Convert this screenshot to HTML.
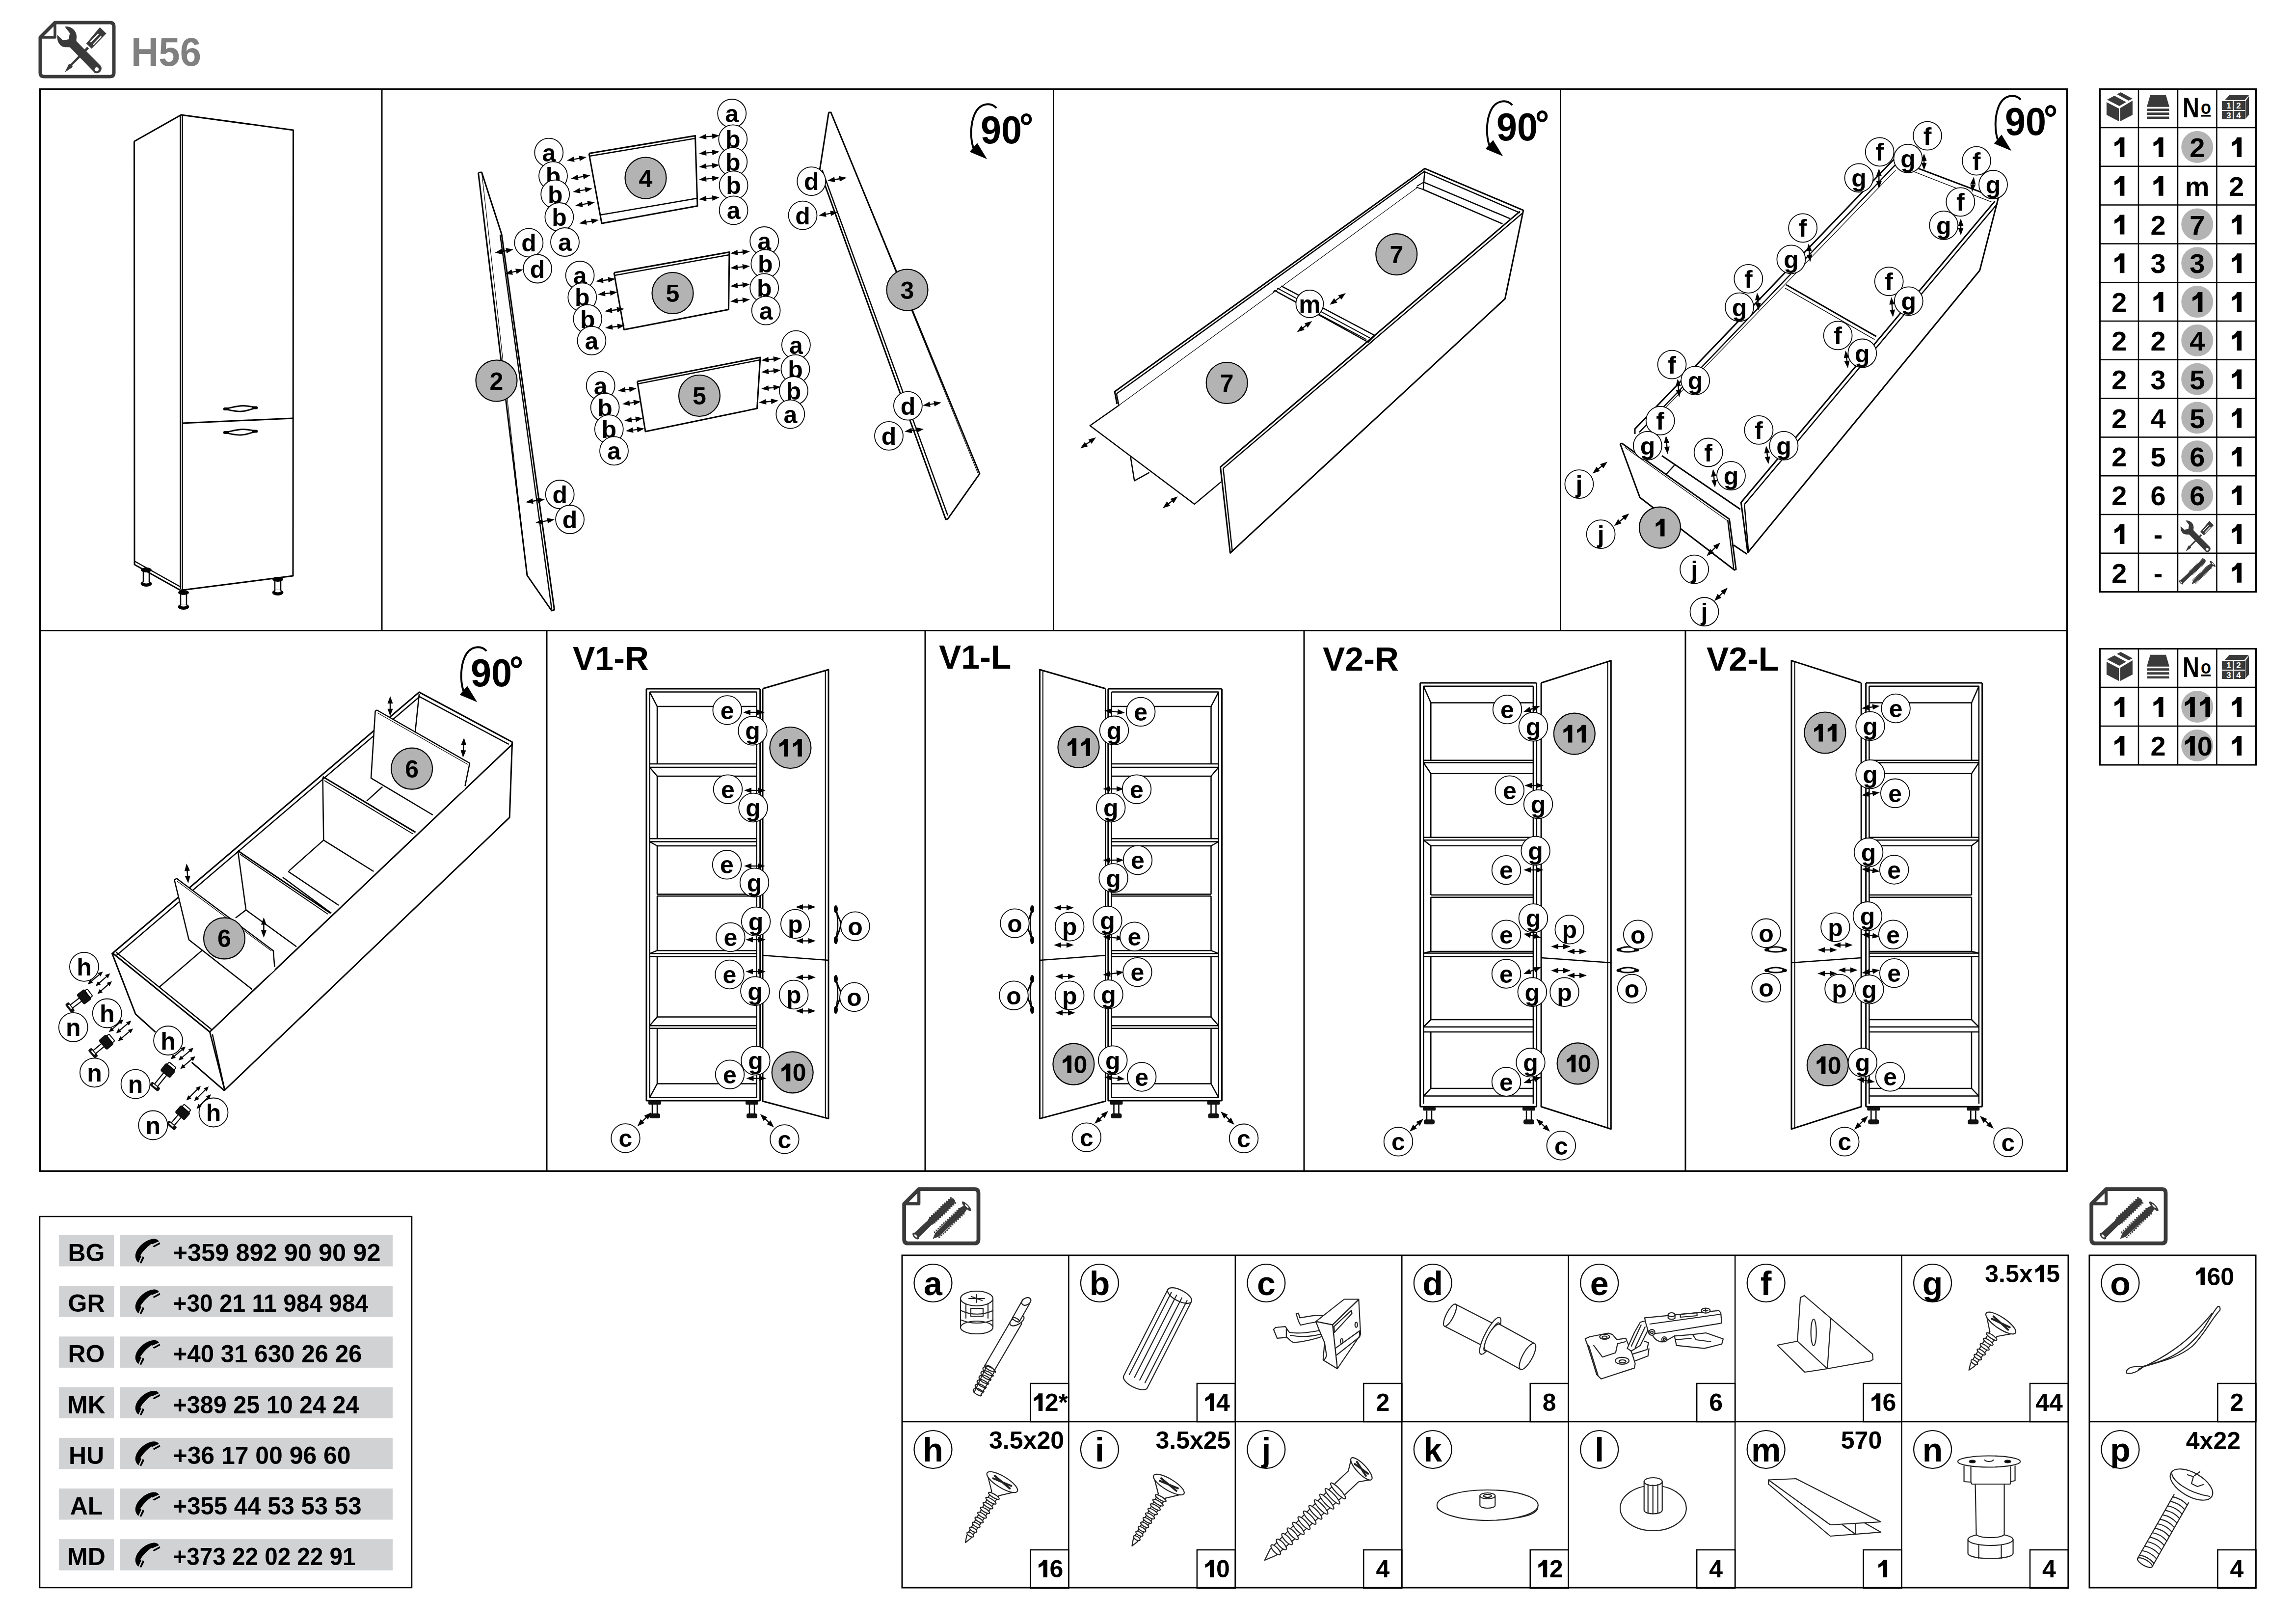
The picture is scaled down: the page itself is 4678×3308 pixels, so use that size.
<!DOCTYPE html>
<html><head><meta charset="utf-8"><style>
html,body{margin:0;padding:0;background:#fff;}
body{width:4678px;height:3308px;overflow:hidden;}
svg{display:block;font-family:"Liberation Sans",sans-serif;}
</style></head><body>
<svg width="4678" height="3308" viewBox="0 0 4678 3308">
<rect x="0" y="0" width="4678" height="3308" fill="#fff"/>
<path d="M112,46 L224,46 Q232,46 232,54 L232,148 Q232,156 224,156 L90,156 Q82,156 82,148 L82,76 Z" fill="none" stroke="#3a3a3a" stroke-width="7" stroke-linejoin="round" />
<path d="M112,46 L112,76 L82,76" fill="none" stroke="#3a3a3a" stroke-width="5.6000000000000005" stroke-linejoin="round" />
<g transform="translate(106.5,39.1) scale(1.48)" fill="#3a3a3a"><path d="M48,38 L50.5,40.5 L27.5,63.5 L28,66 L17.2,73 L23,61.5 L25.5,61.5 Z"/><path d="M46.8,33.5 L65.5,11.1 L74.4,19.7 L54.2,40.4 Z"/><path d="M52,31 L63,19.5 L64.2,20.7 L53.2,32.2 Z M55.8,34.5 L66.8,23 L68,24.2 L57,35.7 Z" fill="#fff"/><path d="M17.2,10.3 C26,9 34,16 33.5,25 C33.3,27.5 32.8,29 33.5,30.5 L66,63.5 C70,67.5 67,74.5 61,74.5 C59,74.5 58,73.8 57.6,72.9 L24.6,38.9 C22.5,38.3 20,39 17,38.5 C10,37.5 6,30 6.9,21.7 L14.8,29.1 L22.7,27.6 L24.1,19.2 Z"/><circle cx="61.1" cy="69" r="2.8" fill="#fff"/></g>
<text x="267" y="133.5" font-size="82" font-weight="bold" fill="#808080" textLength="143" lengthAdjust="spacingAndGlyphs">H56</text>
<rect x="81.5" y="181.5" width="4130" height="2204" fill="none" stroke="#000" stroke-width="3" rx="0"/>
<line x1="80" y1="1284.5" x2="4212" y2="1284.5" stroke="#000" stroke-width="3"/>
<line x1="778" y1="181" x2="778" y2="1284" stroke="#000" stroke-width="3"/>
<line x1="2146.5" y1="181" x2="2146.5" y2="1284" stroke="#000" stroke-width="3"/>
<line x1="3179.5" y1="181" x2="3179.5" y2="1284" stroke="#000" stroke-width="3"/>
<line x1="1114" y1="1284" x2="1114" y2="2386" stroke="#000" stroke-width="3"/>
<line x1="1885" y1="1284" x2="1885" y2="2386" stroke="#000" stroke-width="3"/>
<line x1="2657" y1="1284" x2="2657" y2="2386" stroke="#000" stroke-width="3"/>
<line x1="3434" y1="1284" x2="3434" y2="2386" stroke="#000" stroke-width="3"/>
<g transform="translate(4318,220)" fill="#3a3a3a"><path d="M-25,-17 L-10,-25 L14,-12 L0,-4 Z"/><path d="M-5,-28 L3,-32 L27,-19 L19,-15 Z"/><path d="M-26,-12 L-1,1 L-1,27 L-26,14 Z"/><path d="M27,-15 L2,0 L2,27 L27,14 Z"/></g>
<g transform="translate(4397,180)" fill="#3a3a3a"><path d="M-16,13.7 L16,13.7 L23,37.8 L-23,37.8 Z"/><path d="M-22,41.3 L22,41.3 L23,45.9 L-23,45.9 Z"/><path d="M-22,49.3 L22,49.3 L23,54 L-23,54 Z"/><path d="M-22,57.4 L22,57.4 L23,62 L-23,62 Z"/></g>
<text x="4447" y="238.5" font-size="58" font-weight="bold" fill="#000" textLength="34" lengthAdjust="spacingAndGlyphs">N</text>
<text x="4484" y="231.6" font-size="38" font-weight="bold" fill="#000" textLength="21" lengthAdjust="spacingAndGlyphs">o</text>
<rect x="4484.6" y="234" width="19.6" height="3.6" fill="#000"/>
<g transform="translate(4554,216)" fill="#3a3a3a"><path d="M-21,-12 L-12,-22 L28,-22 L19,-12 Z"/><path d="M21,-10 L28,-20 L28,18 L21,26 Z"/><rect x="-27" y="-10" width="47" height="37"/></g>
<text x="4541" y="221" font-size="17" font-weight="bold" fill="#fff" text-anchor="middle">1</text>
<text x="4561" y="221" font-size="17" font-weight="bold" fill="#fff" text-anchor="middle">2</text>
<text x="4541" y="241" font-size="17" font-weight="bold" fill="#fff" text-anchor="middle">3</text>
<text x="4561" y="241" font-size="17" font-weight="bold" fill="#fff" text-anchor="middle">4</text>
<line x1="4550" y1="206" x2="4550" y2="243" stroke="#fff" stroke-width="2"/>
<line x1="4527" y1="225" x2="4574" y2="225" stroke="#fff" stroke-width="2"/>
<path d="M4318.9,279.8 L4328.4,279.8 L4328.4,319.9 L4318.9,319.9 L4318.9,291.9 C4315.5,294.7 4311.6,296.9 4308.2,298.1 L4308.2,290.2 C4313.3,288.0 4317.8,284.6 4318.9,279.8 Z" fill="#000"/>
<path d="M4398.1,279.8 L4407.6,279.8 L4407.6,319.9 L4398.1,319.9 L4398.1,291.9 C4394.8,294.7 4390.8,296.9 4387.5,298.1 L4387.5,290.2 C4392.5,288.0 4397.0,284.6 4398.1,279.8 Z" fill="#000"/>
<circle cx="4476.75" cy="299.4" r="32.5" fill="#b3b3b3"/>
<text x="4476.8" y="319.9" font-size="56" font-weight="bold" text-anchor="middle" fill="#000">2</text>
<path d="M4557.6,279.8 L4567.1,279.8 L4567.1,319.9 L4557.6,319.9 L4557.6,291.9 C4554.3,294.7 4550.3,296.9 4547.0,298.1 L4547.0,290.2 C4552.0,288.0 4556.5,284.6 4557.6,279.8 Z" fill="#000"/>
<path d="M4318.9,358.6 L4328.4,358.6 L4328.4,398.7 L4318.9,398.7 L4318.9,370.7 C4315.5,373.5 4311.6,375.7 4308.2,376.9 L4308.2,369.0 C4313.3,366.8 4317.8,363.4 4318.9,358.6 Z" fill="#000"/>
<path d="M4398.1,358.6 L4407.6,358.6 L4407.6,398.7 L4398.1,398.7 L4398.1,370.7 C4394.8,373.5 4390.8,375.7 4387.5,376.9 L4387.5,369.0 C4392.5,366.8 4397.0,363.4 4398.1,358.6 Z" fill="#000"/>
<text x="4476.75" y="398.7" font-size="56" font-weight="bold" text-anchor="middle">m</text>
<text x="4556.5" y="398.7" font-size="56" font-weight="bold" text-anchor="middle" fill="#000">2</text>
<path d="M4318.9,437.4 L4328.4,437.4 L4328.4,477.5 L4318.9,477.5 L4318.9,449.5 C4315.5,452.3 4311.6,454.5 4308.2,455.7 L4308.2,447.8 C4313.3,445.6 4317.8,442.2 4318.9,437.4 Z" fill="#000"/>
<text x="4397.0" y="477.5" font-size="56" font-weight="bold" text-anchor="middle" fill="#000">2</text>
<circle cx="4476.75" cy="457.0" r="32.5" fill="#b3b3b3"/>
<text x="4476.8" y="477.5" font-size="56" font-weight="bold" text-anchor="middle" fill="#000">7</text>
<path d="M4557.6,437.4 L4567.1,437.4 L4567.1,477.5 L4557.6,477.5 L4557.6,449.5 C4554.3,452.3 4550.3,454.5 4547.0,455.7 L4547.0,447.8 C4552.0,445.6 4556.5,442.2 4557.6,437.4 Z" fill="#000"/>
<path d="M4318.9,516.2 L4328.4,516.2 L4328.4,556.3 L4318.9,556.3 L4318.9,528.3 C4315.5,531.1 4311.6,533.3 4308.2,534.5 L4308.2,526.6 C4313.3,524.4 4317.8,521.0 4318.9,516.2 Z" fill="#000"/>
<text x="4397.0" y="556.3" font-size="56" font-weight="bold" text-anchor="middle" fill="#000">3</text>
<circle cx="4476.75" cy="535.8" r="32.5" fill="#b3b3b3"/>
<text x="4476.8" y="556.3" font-size="56" font-weight="bold" text-anchor="middle" fill="#000">3</text>
<path d="M4557.6,516.2 L4567.1,516.2 L4567.1,556.3 L4557.6,556.3 L4557.6,528.3 C4554.3,531.1 4550.3,533.3 4547.0,534.5 L4547.0,526.6 C4552.0,524.4 4556.5,521.0 4557.6,516.2 Z" fill="#000"/>
<text x="4317.8" y="635.1" font-size="56" font-weight="bold" text-anchor="middle" fill="#000">2</text>
<path d="M4398.1,595.0 L4407.6,595.0 L4407.6,635.1 L4398.1,635.1 L4398.1,607.1 C4394.8,609.9 4390.8,612.1 4387.5,613.3 L4387.5,605.4 C4392.5,603.2 4397.0,599.8 4398.1,595.0 Z" fill="#000"/>
<circle cx="4476.75" cy="614.6" r="32.5" fill="#b3b3b3"/>
<path d="M4477.9,595.0 L4487.4,595.0 L4487.4,635.1 L4477.9,635.1 L4477.9,607.1 C4474.5,609.9 4470.6,612.1 4467.2,613.3 L4467.2,605.4 C4472.3,603.2 4476.8,599.8 4477.9,595.0 Z" fill="#000"/>
<path d="M4557.6,595.0 L4567.1,595.0 L4567.1,635.1 L4557.6,635.1 L4557.6,607.1 C4554.3,609.9 4550.3,612.1 4547.0,613.3 L4547.0,605.4 C4552.0,603.2 4556.5,599.8 4557.6,595.0 Z" fill="#000"/>
<text x="4317.8" y="713.9" font-size="56" font-weight="bold" text-anchor="middle" fill="#000">2</text>
<text x="4397.0" y="713.9" font-size="56" font-weight="bold" text-anchor="middle" fill="#000">2</text>
<circle cx="4476.75" cy="693.4" r="32.5" fill="#b3b3b3"/>
<text x="4476.8" y="713.9" font-size="56" font-weight="bold" text-anchor="middle" fill="#000">4</text>
<path d="M4557.6,673.8 L4567.1,673.8 L4567.1,713.9 L4557.6,713.9 L4557.6,685.9 C4554.3,688.7 4550.3,690.9 4547.0,692.1 L4547.0,684.2 C4552.0,682.0 4556.5,678.6 4557.6,673.8 Z" fill="#000"/>
<text x="4317.8" y="792.7" font-size="56" font-weight="bold" text-anchor="middle" fill="#000">2</text>
<text x="4397.0" y="792.7" font-size="56" font-weight="bold" text-anchor="middle" fill="#000">3</text>
<circle cx="4476.75" cy="772.1999999999999" r="32.5" fill="#b3b3b3"/>
<text x="4476.8" y="792.7" font-size="56" font-weight="bold" text-anchor="middle" fill="#000">5</text>
<path d="M4557.6,752.6 L4567.1,752.6 L4567.1,792.7 L4557.6,792.7 L4557.6,764.7 C4554.3,767.5 4550.3,769.7 4547.0,770.9 L4547.0,763.0 C4552.0,760.8 4556.5,757.4 4557.6,752.6 Z" fill="#000"/>
<text x="4317.8" y="871.5" font-size="56" font-weight="bold" text-anchor="middle" fill="#000">2</text>
<text x="4397.0" y="871.5" font-size="56" font-weight="bold" text-anchor="middle" fill="#000">4</text>
<circle cx="4476.75" cy="851.0" r="32.5" fill="#b3b3b3"/>
<text x="4476.8" y="871.5" font-size="56" font-weight="bold" text-anchor="middle" fill="#000">5</text>
<path d="M4557.6,831.4 L4567.1,831.4 L4567.1,871.5 L4557.6,871.5 L4557.6,843.5 C4554.3,846.3 4550.3,848.5 4547.0,849.7 L4547.0,841.8 C4552.0,839.6 4556.5,836.2 4557.6,831.4 Z" fill="#000"/>
<text x="4317.8" y="950.3" font-size="56" font-weight="bold" text-anchor="middle" fill="#000">2</text>
<text x="4397.0" y="950.3" font-size="56" font-weight="bold" text-anchor="middle" fill="#000">5</text>
<circle cx="4476.75" cy="929.8" r="32.5" fill="#b3b3b3"/>
<text x="4476.8" y="950.3" font-size="56" font-weight="bold" text-anchor="middle" fill="#000">6</text>
<path d="M4557.6,910.2 L4567.1,910.2 L4567.1,950.3 L4557.6,950.3 L4557.6,922.3 C4554.3,925.1 4550.3,927.3 4547.0,928.5 L4547.0,920.6 C4552.0,918.4 4556.5,915.0 4557.6,910.2 Z" fill="#000"/>
<text x="4317.8" y="1029.1" font-size="56" font-weight="bold" text-anchor="middle" fill="#000">2</text>
<text x="4397.0" y="1029.1" font-size="56" font-weight="bold" text-anchor="middle" fill="#000">6</text>
<circle cx="4476.75" cy="1008.5999999999999" r="32.5" fill="#b3b3b3"/>
<text x="4476.8" y="1029.1" font-size="56" font-weight="bold" text-anchor="middle" fill="#000">6</text>
<path d="M4557.6,989.0 L4567.1,989.0 L4567.1,1029.1 L4557.6,1029.1 L4557.6,1001.1 C4554.3,1003.9 4550.3,1006.1 4547.0,1007.3 L4547.0,999.4 C4552.0,997.2 4556.5,993.8 4557.6,989.0 Z" fill="#000"/>
<path d="M4318.9,1067.8 L4328.4,1067.8 L4328.4,1107.9 L4318.9,1107.9 L4318.9,1079.9 C4315.5,1082.7 4311.6,1084.9 4308.2,1086.1 L4308.2,1078.2 C4313.3,1076.0 4317.8,1072.6 4318.9,1067.8 Z" fill="#000"/>
<text x="4397.0" y="1107.9" font-size="56" font-weight="bold" text-anchor="middle">-</text>
<g transform="translate(4436.0,1050.0) scale(1.0)" fill="#3a3a3a"><path d="M48,38 L50.5,40.5 L27.5,63.5 L28,66 L17.2,73 L23,61.5 L25.5,61.5 Z"/><path d="M46.8,33.5 L65.5,11.1 L74.4,19.7 L54.2,40.4 Z"/><path d="M52,31 L63,19.5 L64.2,20.7 L53.2,32.2 Z M55.8,34.5 L66.8,23 L68,24.2 L57,35.7 Z" fill="#fff"/><path d="M17.2,10.3 C26,9 34,16 33.5,25 C33.3,27.5 32.8,29 33.5,30.5 L66,63.5 C70,67.5 67,74.5 61,74.5 C59,74.5 58,73.8 57.6,72.9 L24.6,38.9 C22.5,38.3 20,39 17,38.5 C10,37.5 6,30 6.9,21.7 L14.8,29.1 L22.7,27.6 L24.1,19.2 Z"/><circle cx="61.1" cy="69" r="2.8" fill="#fff"/></g>
<path d="M4557.6,1067.8 L4567.1,1067.8 L4567.1,1107.9 L4557.6,1107.9 L4557.6,1079.9 C4554.3,1082.7 4550.3,1084.9 4547.0,1086.1 L4547.0,1078.2 C4552.0,1076.0 4556.5,1072.6 4557.6,1067.8 Z" fill="#000"/>
<text x="4317.8" y="1186.7" font-size="56" font-weight="bold" text-anchor="middle" fill="#000">2</text>
<text x="4397.0" y="1186.7" font-size="56" font-weight="bold" text-anchor="middle">-</text>
<path d="M4557.6,1146.6 L4567.1,1146.6 L4567.1,1186.7 L4557.6,1186.7 L4557.6,1158.7 C4554.3,1161.5 4550.3,1163.7 4547.0,1164.9 L4547.0,1157.0 C4552.0,1154.8 4556.5,1151.4 4557.6,1146.6 Z" fill="#000"/>
<line x1="4357" y1="180" x2="4357" y2="1205.6" stroke="#000" stroke-width="2.5"/>
<line x1="4437" y1="180" x2="4437" y2="1205.6" stroke="#000" stroke-width="2.5"/>
<line x1="4516.5" y1="180" x2="4516.5" y2="1205.6" stroke="#000" stroke-width="2.5"/>
<line x1="4278.5" y1="260" x2="4596.5" y2="260" stroke="#000" stroke-width="2.5"/>
<line x1="4278.5" y1="338.8" x2="4596.5" y2="338.8" stroke="#000" stroke-width="2.5"/>
<line x1="4278.5" y1="417.6" x2="4596.5" y2="417.6" stroke="#000" stroke-width="2.5"/>
<line x1="4278.5" y1="496.4" x2="4596.5" y2="496.4" stroke="#000" stroke-width="2.5"/>
<line x1="4278.5" y1="575.2" x2="4596.5" y2="575.2" stroke="#000" stroke-width="2.5"/>
<line x1="4278.5" y1="654.0" x2="4596.5" y2="654.0" stroke="#000" stroke-width="2.5"/>
<line x1="4278.5" y1="732.8" x2="4596.5" y2="732.8" stroke="#000" stroke-width="2.5"/>
<line x1="4278.5" y1="811.6" x2="4596.5" y2="811.6" stroke="#000" stroke-width="2.5"/>
<line x1="4278.5" y1="890.4" x2="4596.5" y2="890.4" stroke="#000" stroke-width="2.5"/>
<line x1="4278.5" y1="969.1999999999999" x2="4596.5" y2="969.1999999999999" stroke="#000" stroke-width="2.5"/>
<line x1="4278.5" y1="1048.0" x2="4596.5" y2="1048.0" stroke="#000" stroke-width="2.5"/>
<line x1="4278.5" y1="1126.8" x2="4596.5" y2="1126.8" stroke="#000" stroke-width="2.5"/>
<rect x="4278.5" y="181.5" width="318.0" height="1024.1" fill="none" stroke="#000" stroke-width="3" rx="0"/>
<g transform="translate(4318,1360)" fill="#3a3a3a"><path d="M-25,-17 L-10,-25 L14,-12 L0,-4 Z"/><path d="M-5,-28 L3,-32 L27,-19 L19,-15 Z"/><path d="M-26,-12 L-1,1 L-1,27 L-26,14 Z"/><path d="M27,-15 L2,0 L2,27 L27,14 Z"/></g>
<g transform="translate(4397,1320)" fill="#3a3a3a"><path d="M-16,13.7 L16,13.7 L23,37.8 L-23,37.8 Z"/><path d="M-22,41.3 L22,41.3 L23,45.9 L-23,45.9 Z"/><path d="M-22,49.3 L22,49.3 L23,54 L-23,54 Z"/><path d="M-22,57.4 L22,57.4 L23,62 L-23,62 Z"/></g>
<text x="4447" y="1378.5" font-size="58" font-weight="bold" fill="#000" textLength="34" lengthAdjust="spacingAndGlyphs">N</text>
<text x="4484" y="1371.6" font-size="38" font-weight="bold" fill="#000" textLength="21" lengthAdjust="spacingAndGlyphs">o</text>
<rect x="4484.6" y="1374" width="19.6" height="3.6" fill="#000"/>
<g transform="translate(4554,1356)" fill="#3a3a3a"><path d="M-21,-12 L-12,-22 L28,-22 L19,-12 Z"/><path d="M21,-10 L28,-20 L28,18 L21,26 Z"/><rect x="-27" y="-10" width="47" height="37"/></g>
<text x="4541" y="1361" font-size="17" font-weight="bold" fill="#fff" text-anchor="middle">1</text>
<text x="4561" y="1361" font-size="17" font-weight="bold" fill="#fff" text-anchor="middle">2</text>
<text x="4541" y="1381" font-size="17" font-weight="bold" fill="#fff" text-anchor="middle">3</text>
<text x="4561" y="1381" font-size="17" font-weight="bold" fill="#fff" text-anchor="middle">4</text>
<line x1="4550" y1="1346" x2="4550" y2="1383" stroke="#fff" stroke-width="2"/>
<line x1="4527" y1="1365" x2="4574" y2="1365" stroke="#fff" stroke-width="2"/>
<path d="M4318.9,1419.9 L4328.4,1419.9 L4328.4,1460.0 L4318.9,1460.0 L4318.9,1432.0 C4315.5,1434.8 4311.6,1437.0 4308.2,1438.2 L4308.2,1430.3 C4313.3,1428.1 4317.8,1424.7 4318.9,1419.9 Z" fill="#000"/>
<path d="M4398.1,1419.9 L4407.6,1419.9 L4407.6,1460.0 L4398.1,1460.0 L4398.1,1432.0 C4394.8,1434.8 4390.8,1437.0 4387.5,1438.2 L4387.5,1430.3 C4392.5,1428.1 4397.0,1424.7 4398.1,1419.9 Z" fill="#000"/>
<circle cx="4476.75" cy="1439.5" r="32.5" fill="#b3b3b3"/>
<path d="M4462.3,1419.9 L4471.8,1419.9 L4471.8,1460.0 L4462.3,1460.0 L4462.3,1432.0 C4458.9,1434.8 4455.0,1437.0 4451.7,1438.2 L4451.7,1430.3 C4456.7,1428.1 4461.2,1424.7 4462.3,1419.9 Z" fill="#000"/>
<path d="M4493.4,1419.9 L4503.0,1419.9 L4503.0,1460.0 L4493.4,1460.0 L4493.4,1432.0 C4490.1,1434.8 4486.2,1437.0 4482.8,1438.2 L4482.8,1430.3 C4487.8,1428.1 4492.3,1424.7 4493.4,1419.9 Z" fill="#000"/>
<path d="M4557.6,1419.9 L4567.1,1419.9 L4567.1,1460.0 L4557.6,1460.0 L4557.6,1432.0 C4554.3,1434.8 4550.3,1437.0 4547.0,1438.2 L4547.0,1430.3 C4552.0,1428.1 4556.5,1424.7 4557.6,1419.9 Z" fill="#000"/>
<path d="M4318.9,1498.9 L4328.4,1498.9 L4328.4,1539.0 L4318.9,1539.0 L4318.9,1511.0 C4315.5,1513.8 4311.6,1516.0 4308.2,1517.2 L4308.2,1509.3 C4313.3,1507.1 4317.8,1503.7 4318.9,1498.9 Z" fill="#000"/>
<text x="4397.0" y="1539.0" font-size="56" font-weight="bold" text-anchor="middle" fill="#000">2</text>
<circle cx="4476.75" cy="1518.5" r="32.5" fill="#b3b3b3"/>
<path d="M4462.3,1498.9 L4471.8,1498.9 L4471.8,1539.0 L4462.3,1539.0 L4462.3,1511.0 C4458.9,1513.8 4455.0,1516.0 4451.7,1517.2 L4451.7,1509.3 C4456.7,1507.1 4461.2,1503.7 4462.3,1498.9 Z" fill="#000"/>
<text x="4492.3" y="1539.0" font-size="56" font-weight="bold" text-anchor="middle" fill="#000">0</text>
<path d="M4557.6,1498.9 L4567.1,1498.9 L4567.1,1539.0 L4557.6,1539.0 L4557.6,1511.0 C4554.3,1513.8 4550.3,1516.0 4547.0,1517.2 L4547.0,1509.3 C4552.0,1507.1 4556.5,1503.7 4557.6,1498.9 Z" fill="#000"/>
<line x1="4357" y1="1320" x2="4357" y2="1558" stroke="#000" stroke-width="2.5"/>
<line x1="4437" y1="1320" x2="4437" y2="1558" stroke="#000" stroke-width="2.5"/>
<line x1="4516.5" y1="1320" x2="4516.5" y2="1558" stroke="#000" stroke-width="2.5"/>
<line x1="4278.5" y1="1400" x2="4596.5" y2="1400" stroke="#000" stroke-width="2.5"/>
<line x1="4278.5" y1="1479" x2="4596.5" y2="1479" stroke="#000" stroke-width="2.5"/>
<rect x="4278.5" y="1321.5" width="318.0" height="236.5" fill="none" stroke="#000" stroke-width="3" rx="0"/>
<rect x="81" y="2478" width="758" height="756" fill="none" stroke="#000" stroke-width="2.5" rx="0"/>
<rect x="120" y="2516.0" width="112.5" height="63.5" fill="#d1d2d4"/>
<rect x="245" y="2516.0" width="555" height="63.5" fill="#d1d2d4"/>
<text x="176" y="2569.0" font-size="50" font-weight="bold" text-anchor="middle">BG</text>
<text x="352.5" y="2569.0" font-size="50" font-weight="bold" textLength="423" lengthAdjust="spacingAndGlyphs">+359 892 90 90 92</text>
<g transform="translate(260,2515.0)" fill="#000"><path d="M22,57 C14,50 14,40 20,30 C28,18 40,10 52,8.5 C57,8 62,10 64,13.5 L50,19.5 L49,18.5 C40,24 32,33 26,42 L28,44 Z"/><path d="M65.5,15.5 L66.5,19 L54,25.5 L51,23.5 Z"/><path d="M31,43.5 L34,47 L28,58.5 L24.5,58 Z"/></g>
<rect x="120" y="2619.2" width="112.5" height="63.5" fill="#d1d2d4"/>
<rect x="245" y="2619.2" width="555" height="63.5" fill="#d1d2d4"/>
<text x="176" y="2672.2" font-size="50" font-weight="bold" text-anchor="middle">GR</text>
<text x="352.5" y="2672.2" font-size="50" font-weight="bold" textLength="397.6" lengthAdjust="spacingAndGlyphs">+30 21 11 984 984</text>
<g transform="translate(260,2618.2)" fill="#000"><path d="M22,57 C14,50 14,40 20,30 C28,18 40,10 52,8.5 C57,8 62,10 64,13.5 L50,19.5 L49,18.5 C40,24 32,33 26,42 L28,44 Z"/><path d="M65.5,15.5 L66.5,19 L54,25.5 L51,23.5 Z"/><path d="M31,43.5 L34,47 L28,58.5 L24.5,58 Z"/></g>
<rect x="120" y="2722.4" width="112.5" height="63.5" fill="#d1d2d4"/>
<rect x="245" y="2722.4" width="555" height="63.5" fill="#d1d2d4"/>
<text x="176" y="2775.4" font-size="50" font-weight="bold" text-anchor="middle">RO</text>
<text x="352.5" y="2775.4" font-size="50" font-weight="bold" textLength="385" lengthAdjust="spacingAndGlyphs">+40 31 630 26 26</text>
<g transform="translate(260,2721.4)" fill="#000"><path d="M22,57 C14,50 14,40 20,30 C28,18 40,10 52,8.5 C57,8 62,10 64,13.5 L50,19.5 L49,18.5 C40,24 32,33 26,42 L28,44 Z"/><path d="M65.5,15.5 L66.5,19 L54,25.5 L51,23.5 Z"/><path d="M31,43.5 L34,47 L28,58.5 L24.5,58 Z"/></g>
<rect x="120" y="2825.6" width="112.5" height="63.5" fill="#d1d2d4"/>
<rect x="245" y="2825.6" width="555" height="63.5" fill="#d1d2d4"/>
<text x="176" y="2878.6" font-size="50" font-weight="bold" text-anchor="middle">MK</text>
<text x="352.5" y="2878.6" font-size="50" font-weight="bold" textLength="379" lengthAdjust="spacingAndGlyphs">+389 25 10 24 24</text>
<g transform="translate(260,2824.6)" fill="#000"><path d="M22,57 C14,50 14,40 20,30 C28,18 40,10 52,8.5 C57,8 62,10 64,13.5 L50,19.5 L49,18.5 C40,24 32,33 26,42 L28,44 Z"/><path d="M65.5,15.5 L66.5,19 L54,25.5 L51,23.5 Z"/><path d="M31,43.5 L34,47 L28,58.5 L24.5,58 Z"/></g>
<rect x="120" y="2928.8" width="112.5" height="63.5" fill="#d1d2d4"/>
<rect x="245" y="2928.8" width="555" height="63.5" fill="#d1d2d4"/>
<text x="176" y="2981.8" font-size="50" font-weight="bold" text-anchor="middle">HU</text>
<text x="352.5" y="2981.8" font-size="50" font-weight="bold" textLength="362" lengthAdjust="spacingAndGlyphs">+36 17 00 96 60</text>
<g transform="translate(260,2927.8)" fill="#000"><path d="M22,57 C14,50 14,40 20,30 C28,18 40,10 52,8.5 C57,8 62,10 64,13.5 L50,19.5 L49,18.5 C40,24 32,33 26,42 L28,44 Z"/><path d="M65.5,15.5 L66.5,19 L54,25.5 L51,23.5 Z"/><path d="M31,43.5 L34,47 L28,58.5 L24.5,58 Z"/></g>
<rect x="120" y="3032.0" width="112.5" height="63.5" fill="#d1d2d4"/>
<rect x="245" y="3032.0" width="555" height="63.5" fill="#d1d2d4"/>
<text x="176" y="3085.0" font-size="50" font-weight="bold" text-anchor="middle">AL</text>
<text x="352.5" y="3085.0" font-size="50" font-weight="bold" textLength="384" lengthAdjust="spacingAndGlyphs">+355 44 53 53 53</text>
<g transform="translate(260,3031.0)" fill="#000"><path d="M22,57 C14,50 14,40 20,30 C28,18 40,10 52,8.5 C57,8 62,10 64,13.5 L50,19.5 L49,18.5 C40,24 32,33 26,42 L28,44 Z"/><path d="M65.5,15.5 L66.5,19 L54,25.5 L51,23.5 Z"/><path d="M31,43.5 L34,47 L28,58.5 L24.5,58 Z"/></g>
<rect x="120" y="3135.2" width="112.5" height="63.5" fill="#d1d2d4"/>
<rect x="245" y="3135.2" width="555" height="63.5" fill="#d1d2d4"/>
<text x="176" y="3188.2" font-size="50" font-weight="bold" text-anchor="middle">MD</text>
<text x="352.5" y="3188.2" font-size="50" font-weight="bold" textLength="372" lengthAdjust="spacingAndGlyphs">+373 22 02 22 91</text>
<g transform="translate(260,3134.2)" fill="#000"><path d="M22,57 C14,50 14,40 20,30 C28,18 40,10 52,8.5 C57,8 62,10 64,13.5 L50,19.5 L49,18.5 C40,24 32,33 26,42 L28,44 Z"/><path d="M65.5,15.5 L66.5,19 L54,25.5 L51,23.5 Z"/><path d="M31,43.5 L34,47 L28,58.5 L24.5,58 Z"/></g>
<path d="M1872.2,2422.2 L1985.5,2422.2 Q1993.5,2422.2 1993.5,2430.2 L1993.5,2524.7 Q1993.5,2532.7 1985.5,2532.7 L1850.2,2532.7 Q1842.2,2532.7 1842.2,2524.7 L1842.2,2452.2 Z" fill="none" stroke="#3a3a3a" stroke-width="7.8" stroke-linejoin="round" />
<path d="M1872.2,2422.2 L1872.2,2452.2 L1842.2,2452.2" fill="none" stroke="#3a3a3a" stroke-width="6.24" stroke-linejoin="round" />
<path d="M4291.2,2422.2 L4404.5,2422.2 Q4412.5,2422.2 4412.5,2430.2 L4412.5,2524.7 Q4412.5,2532.7 4404.5,2532.7 L4269.2,2532.7 Q4261.2,2532.7 4261.2,2524.7 L4261.2,2452.2 Z" fill="none" stroke="#3a3a3a" stroke-width="7.8" stroke-linejoin="round" />
<path d="M4291.2,2422.2 L4291.2,2452.2 L4261.2,2452.2" fill="none" stroke="#3a3a3a" stroke-width="6.24" stroke-linejoin="round" />
<circle cx="1901.0" cy="2613.5" r="38.5" fill="#fff" stroke="#000" stroke-width="2.2"/>
<text x="1901.0" y="2638.0" font-size="68" font-weight="bold" text-anchor="middle" fill="#000">a</text>
<rect x="2099.43" y="2818" width="78" height="78" fill="none" stroke="#000" stroke-width="2.5" rx="0"/>
<path d="M2115.8,2838.2 L2124.3,2838.2 L2124.3,2874.0 L2115.8,2874.0 L2115.8,2849.0 C2112.8,2851.5 2109.3,2853.5 2106.3,2854.5 L2106.3,2847.5 C2110.8,2845.5 2114.8,2842.5 2115.8,2838.2 Z" fill="#000"/>
<text x="2142.6" y="2874.0" font-size="50" font-weight="bold" text-anchor="middle" fill="#000">2</text>
<text x="2166.2" y="2874.0" font-size="50" font-weight="bold" text-anchor="middle" fill="#000">*</text>
<circle cx="2240.43" cy="2613.5" r="38.5" fill="#fff" stroke="#000" stroke-width="2.2"/>
<text x="2240.4" y="2638.0" font-size="68" font-weight="bold" text-anchor="middle" fill="#000">b</text>
<rect x="2438.8599999999997" y="2818" width="78" height="78" fill="none" stroke="#000" stroke-width="2.5" rx="0"/>
<path d="M2465.0,2838.2 L2473.5,2838.2 L2473.5,2874.0 L2465.0,2874.0 L2465.0,2849.0 C2462.0,2851.5 2458.5,2853.5 2455.5,2854.5 L2455.5,2847.5 C2460.0,2845.5 2464.0,2842.5 2465.0,2838.2 Z" fill="#000"/>
<text x="2491.8" y="2874.0" font-size="50" font-weight="bold" text-anchor="middle" fill="#000">4</text>
<circle cx="2579.86" cy="2613.5" r="38.5" fill="#fff" stroke="#000" stroke-width="2.2"/>
<text x="2579.9" y="2638.0" font-size="68" font-weight="bold" text-anchor="middle" fill="#000">c</text>
<rect x="2778.29" y="2818" width="78" height="78" fill="none" stroke="#000" stroke-width="2.5" rx="0"/>
<text x="2817.3" y="2874.0" font-size="50" font-weight="bold" text-anchor="middle" fill="#000">2</text>
<circle cx="2919.29" cy="2613.5" r="38.5" fill="#fff" stroke="#000" stroke-width="2.2"/>
<text x="2919.3" y="2638.0" font-size="68" font-weight="bold" text-anchor="middle" fill="#000">d</text>
<rect x="3117.72" y="2818" width="78" height="78" fill="none" stroke="#000" stroke-width="2.5" rx="0"/>
<text x="3156.7" y="2874.0" font-size="50" font-weight="bold" text-anchor="middle" fill="#000">8</text>
<circle cx="3258.7200000000003" cy="2613.5" r="38.5" fill="#fff" stroke="#000" stroke-width="2.2"/>
<text x="3258.7" y="2638.0" font-size="68" font-weight="bold" text-anchor="middle" fill="#000">e</text>
<rect x="3457.15" y="2818" width="78" height="78" fill="none" stroke="#000" stroke-width="2.5" rx="0"/>
<text x="3496.2" y="2874.0" font-size="50" font-weight="bold" text-anchor="middle" fill="#000">6</text>
<circle cx="3598.15" cy="2613.5" r="38.5" fill="#fff" stroke="#000" stroke-width="2.2"/>
<text x="3598.2" y="2638.0" font-size="68" font-weight="bold" text-anchor="middle" fill="#000">f</text>
<rect x="3796.58" y="2818" width="78" height="78" fill="none" stroke="#000" stroke-width="2.5" rx="0"/>
<path d="M3822.7,2838.2 L3831.2,2838.2 L3831.2,2874.0 L3822.7,2874.0 L3822.7,2849.0 C3819.7,2851.5 3816.2,2853.5 3813.2,2854.5 L3813.2,2847.5 C3817.7,2845.5 3821.7,2842.5 3822.7,2838.2 Z" fill="#000"/>
<text x="3849.5" y="2874.0" font-size="50" font-weight="bold" text-anchor="middle" fill="#000">6</text>
<circle cx="3937.58" cy="2613.5" r="38.5" fill="#fff" stroke="#000" stroke-width="2.2"/>
<text x="3937.6" y="2638.0" font-size="68" font-weight="bold" text-anchor="middle" fill="#000">g</text>
<rect x="4136.01" y="2818" width="78" height="78" fill="none" stroke="#000" stroke-width="2.5" rx="0"/>
<text x="4161.1" y="2874.0" font-size="50" font-weight="bold" text-anchor="middle" fill="#000">4</text>
<text x="4188.9" y="2874.0" font-size="50" font-weight="bold" text-anchor="middle" fill="#000">4</text>
<text x="4058.1" y="2612.0" font-size="50" font-weight="bold" text-anchor="middle" fill="#000">3</text>
<text x="4078.9" y="2612.0" font-size="50" font-weight="bold" text-anchor="middle" fill="#000">.</text>
<text x="4099.8" y="2612.0" font-size="50" font-weight="bold" text-anchor="middle" fill="#000">5</text>
<text x="4127.6" y="2612.0" font-size="50" font-weight="bold" text-anchor="middle" fill="#000">x</text>
<path d="M4156.4,2576.2 L4164.9,2576.2 L4164.9,2612.0 L4156.4,2612.0 L4156.4,2587.0 C4153.4,2589.5 4149.9,2591.5 4146.9,2592.5 L4146.9,2585.5 C4151.4,2583.5 4155.4,2580.5 4156.4,2576.2 Z" fill="#000"/>
<text x="4183.2" y="2612.0" font-size="50" font-weight="bold" text-anchor="middle" fill="#000">5</text>
<circle cx="1901.0" cy="2952.5" r="38.5" fill="#fff" stroke="#000" stroke-width="2.2"/>
<text x="1901.0" y="2977.0" font-size="68" font-weight="bold" text-anchor="middle" fill="#000">h</text>
<rect x="2099.43" y="3157" width="78" height="78" fill="none" stroke="#000" stroke-width="2.5" rx="0"/>
<path d="M2125.5,3177.2 L2134.0,3177.2 L2134.0,3213.0 L2125.5,3213.0 L2125.5,3188.0 C2122.5,3190.5 2119.0,3192.5 2116.0,3193.5 L2116.0,3186.5 C2120.5,3184.5 2124.5,3181.5 2125.5,3177.2 Z" fill="#000"/>
<text x="2152.3" y="3213.0" font-size="50" font-weight="bold" text-anchor="middle" fill="#000">6</text>
<text x="2029.0" y="2951.0" font-size="50" font-weight="bold" text-anchor="middle" fill="#000">3</text>
<text x="2049.8" y="2951.0" font-size="50" font-weight="bold" text-anchor="middle" fill="#000">.</text>
<text x="2070.7" y="2951.0" font-size="50" font-weight="bold" text-anchor="middle" fill="#000">5</text>
<text x="2098.5" y="2951.0" font-size="50" font-weight="bold" text-anchor="middle" fill="#000">x</text>
<text x="2126.3" y="2951.0" font-size="50" font-weight="bold" text-anchor="middle" fill="#000">2</text>
<text x="2154.1" y="2951.0" font-size="50" font-weight="bold" text-anchor="middle" fill="#000">0</text>
<circle cx="2240.43" cy="2952.5" r="38.5" fill="#fff" stroke="#000" stroke-width="2.2"/>
<text x="2240.4" y="2977.0" font-size="68" font-weight="bold" text-anchor="middle" fill="#000">i</text>
<rect x="2438.8599999999997" y="3157" width="78" height="78" fill="none" stroke="#000" stroke-width="2.5" rx="0"/>
<path d="M2465.0,3177.2 L2473.5,3177.2 L2473.5,3213.0 L2465.0,3213.0 L2465.0,3188.0 C2462.0,3190.5 2458.5,3192.5 2455.5,3193.5 L2455.5,3186.5 C2460.0,3184.5 2464.0,3181.5 2465.0,3177.2 Z" fill="#000"/>
<text x="2491.8" y="3213.0" font-size="50" font-weight="bold" text-anchor="middle" fill="#000">0</text>
<text x="2368.4" y="2951.0" font-size="50" font-weight="bold" text-anchor="middle" fill="#000">3</text>
<text x="2389.3" y="2951.0" font-size="50" font-weight="bold" text-anchor="middle" fill="#000">.</text>
<text x="2410.1" y="2951.0" font-size="50" font-weight="bold" text-anchor="middle" fill="#000">5</text>
<text x="2437.9" y="2951.0" font-size="50" font-weight="bold" text-anchor="middle" fill="#000">x</text>
<text x="2465.7" y="2951.0" font-size="50" font-weight="bold" text-anchor="middle" fill="#000">2</text>
<text x="2493.5" y="2951.0" font-size="50" font-weight="bold" text-anchor="middle" fill="#000">5</text>
<circle cx="2579.86" cy="2952.5" r="38.5" fill="#fff" stroke="#000" stroke-width="2.2"/>
<text x="2579.9" y="2977.0" font-size="68" font-weight="bold" text-anchor="middle" fill="#000">j</text>
<rect x="2778.29" y="3157" width="78" height="78" fill="none" stroke="#000" stroke-width="2.5" rx="0"/>
<text x="2817.3" y="3213.0" font-size="50" font-weight="bold" text-anchor="middle" fill="#000">4</text>
<circle cx="2919.29" cy="2952.5" r="38.5" fill="#fff" stroke="#000" stroke-width="2.2"/>
<text x="2919.3" y="2977.0" font-size="68" font-weight="bold" text-anchor="middle" fill="#000">k</text>
<rect x="3117.72" y="3157" width="78" height="78" fill="none" stroke="#000" stroke-width="2.5" rx="0"/>
<path d="M3143.8,3177.2 L3152.3,3177.2 L3152.3,3213.0 L3143.8,3213.0 L3143.8,3188.0 C3140.8,3190.5 3137.3,3192.5 3134.3,3193.5 L3134.3,3186.5 C3138.8,3184.5 3142.8,3181.5 3143.8,3177.2 Z" fill="#000"/>
<text x="3170.6" y="3213.0" font-size="50" font-weight="bold" text-anchor="middle" fill="#000">2</text>
<circle cx="3258.7200000000003" cy="2952.5" r="38.5" fill="#fff" stroke="#000" stroke-width="2.2"/>
<text x="3258.7" y="2977.0" font-size="68" font-weight="bold" text-anchor="middle" fill="#000">l</text>
<rect x="3457.15" y="3157" width="78" height="78" fill="none" stroke="#000" stroke-width="2.5" rx="0"/>
<text x="3496.2" y="3213.0" font-size="50" font-weight="bold" text-anchor="middle" fill="#000">4</text>
<circle cx="3598.15" cy="2952.5" r="38.5" fill="#fff" stroke="#000" stroke-width="2.2"/>
<text x="3598.2" y="2977.0" font-size="68" font-weight="bold" text-anchor="middle" fill="#000">m</text>
<rect x="3796.58" y="3157" width="78" height="78" fill="none" stroke="#000" stroke-width="2.5" rx="0"/>
<path d="M3836.6,3177.2 L3845.1,3177.2 L3845.1,3213.0 L3836.6,3213.0 L3836.6,3188.0 C3833.6,3190.5 3830.1,3192.5 3827.1,3193.5 L3827.1,3186.5 C3831.6,3184.5 3835.6,3181.5 3836.6,3177.2 Z" fill="#000"/>
<text x="3764.7" y="2951.0" font-size="50" font-weight="bold" text-anchor="middle" fill="#000">5</text>
<text x="3792.5" y="2951.0" font-size="50" font-weight="bold" text-anchor="middle" fill="#000">7</text>
<text x="3820.3" y="2951.0" font-size="50" font-weight="bold" text-anchor="middle" fill="#000">0</text>
<circle cx="3937.58" cy="2952.5" r="38.5" fill="#fff" stroke="#000" stroke-width="2.2"/>
<text x="3937.6" y="2977.0" font-size="68" font-weight="bold" text-anchor="middle" fill="#000">n</text>
<rect x="4136.01" y="3157" width="78" height="78" fill="none" stroke="#000" stroke-width="2.5" rx="0"/>
<text x="4175.0" y="3213.0" font-size="50" font-weight="bold" text-anchor="middle" fill="#000">4</text>
<circle cx="4320" cy="2613.5" r="38.5" fill="#fff" stroke="#000" stroke-width="2.2"/>
<text x="4320.0" y="2638.0" font-size="68" font-weight="bold" text-anchor="middle" fill="#000">o</text>
<rect x="4518.43" y="2818" width="78" height="78" fill="none" stroke="#000" stroke-width="2.5" rx="0"/>
<text x="4557.4" y="2874.0" font-size="50" font-weight="bold" text-anchor="middle" fill="#000">2</text>
<path d="M4483.5,2581.7 L4492.0,2581.7 L4492.0,2617.5 L4483.5,2617.5 L4483.5,2592.5 C4480.5,2595.0 4477.0,2597.0 4474.0,2598.0 L4474.0,2591.0 C4478.5,2589.0 4482.5,2586.0 4483.5,2581.7 Z" fill="#000"/>
<text x="4510.3" y="2617.5" font-size="50" font-weight="bold" text-anchor="middle" fill="#000">6</text>
<text x="4538.1" y="2617.5" font-size="50" font-weight="bold" text-anchor="middle" fill="#000">0</text>
<circle cx="4320" cy="2952.5" r="38.5" fill="#fff" stroke="#000" stroke-width="2.2"/>
<text x="4320.0" y="2977.0" font-size="68" font-weight="bold" text-anchor="middle" fill="#000">p</text>
<rect x="4518.43" y="3157" width="78" height="78" fill="none" stroke="#000" stroke-width="2.5" rx="0"/>
<text x="4557.4" y="3213.0" font-size="50" font-weight="bold" text-anchor="middle" fill="#000">4</text>
<text x="4467.7" y="2951.5" font-size="50" font-weight="bold" text-anchor="middle" fill="#000">4</text>
<text x="4495.5" y="2951.5" font-size="50" font-weight="bold" text-anchor="middle" fill="#000">x</text>
<text x="4523.3" y="2951.5" font-size="50" font-weight="bold" text-anchor="middle" fill="#000">2</text>
<text x="4551.1" y="2951.5" font-size="50" font-weight="bold" text-anchor="middle" fill="#000">2</text>
<line x1="2177.43" y1="2557" x2="2177.43" y2="3234" stroke="#000" stroke-width="2.5"/>
<line x1="2516.86" y1="2557" x2="2516.86" y2="3234" stroke="#000" stroke-width="2.5"/>
<line x1="2856.29" y1="2557" x2="2856.29" y2="3234" stroke="#000" stroke-width="2.5"/>
<line x1="3195.7200000000003" y1="2557" x2="3195.7200000000003" y2="3234" stroke="#000" stroke-width="2.5"/>
<line x1="3535.15" y1="2557" x2="3535.15" y2="3234" stroke="#000" stroke-width="2.5"/>
<line x1="3874.58" y1="2557" x2="3874.58" y2="3234" stroke="#000" stroke-width="2.5"/>
<line x1="1838" y1="2896" x2="4214.01" y2="2896" stroke="#000" stroke-width="2.5"/>
<rect x="1838" y="2557" width="2376.01" height="677" fill="none" stroke="#000" stroke-width="3" rx="0"/>
<line x1="4257" y1="2896" x2="4596" y2="2896" stroke="#000" stroke-width="2.5"/>
<rect x="4257" y="2557" width="339" height="677" fill="none" stroke="#000" stroke-width="3" rx="0"/>
<ellipse cx="298" cy="1161" rx="11.0" ry="5.0" fill="#000"/>
<line x1="292.0" y1="1163" x2="292.0" y2="1185" stroke="#000" stroke-width="2.5"/>
<line x1="304.0" y1="1163" x2="304.0" y2="1185" stroke="#000" stroke-width="2.5"/>
<ellipse cx="298" cy="1189" rx="11.5" ry="6.0" fill="#000"/>
<ellipse cx="298" cy="1186" rx="6.0" ry="2.5" fill="#fff"/>
<ellipse cx="374" cy="1207" rx="11.0" ry="5.0" fill="#000"/>
<line x1="368.0" y1="1209" x2="368.0" y2="1232" stroke="#000" stroke-width="2.5"/>
<line x1="380.0" y1="1209" x2="380.0" y2="1232" stroke="#000" stroke-width="2.5"/>
<ellipse cx="374" cy="1236" rx="11.5" ry="6.0" fill="#000"/>
<ellipse cx="374" cy="1233" rx="6.0" ry="2.5" fill="#fff"/>
<ellipse cx="566" cy="1180" rx="11.0" ry="5.0" fill="#000"/>
<line x1="560.0" y1="1182" x2="560.0" y2="1203" stroke="#000" stroke-width="2.5"/>
<line x1="572.0" y1="1182" x2="572.0" y2="1203" stroke="#000" stroke-width="2.5"/>
<ellipse cx="566" cy="1207" rx="11.5" ry="6.0" fill="#000"/>
<ellipse cx="566" cy="1204" rx="6.0" ry="2.5" fill="#fff"/>
<polyline points="273.5,288 369,234 597.5,265 597,1173 371,1202 367,1202 274,1150 273.5,288" fill="none" stroke="#000" stroke-width="3" stroke-linejoin="round"/>
<line x1="367.5" y1="236" x2="367.5" y2="1200" stroke="#000" stroke-width="2.5"/>
<line x1="371.5" y1="234" x2="371.5" y2="1202" stroke="#000" stroke-width="2.5"/>
<line x1="274" y1="1143" x2="367" y2="1195" stroke="#000" stroke-width="2.5"/>
<line x1="371" y1="862" x2="597" y2="852" stroke="#000" stroke-width="3"/>
<path d="M457,833 C470,831 484,826 496,826.5 C508,827 516,829 523,830.5 C514,832 505,837.5 491,838 C478,838.5 468,835 457,833 Z" fill="none" stroke="#000" stroke-width="2.8" stroke-linejoin="round" />
<rect x="455" y="830" width="11" height="6" rx="2.5" fill="#000"/><rect x="514" y="827.5" width="11" height="6" rx="2.5" fill="#000"/>
<path d="M457,881 C470,879 484,874 496,874.5 C508,875 516,877 523,878.5 C514,880 505,885.5 491,886 C478,886.5 468,883 457,881 Z" fill="none" stroke="#000" stroke-width="2.8" stroke-linejoin="round" />
<rect x="455" y="878" width="11" height="6" rx="2.5" fill="#000"/><rect x="514" y="875.5" width="11" height="6" rx="2.5" fill="#000"/>
<polyline points="974.5,351.5 981.5,351 1022,477 1129.5,1242 1124,1244 1074,1172 974.5,351.5" fill="none" stroke="#000" stroke-width="3" stroke-linejoin="round"/>
<line x1="981.5" y1="351" x2="1074" y2="1172" stroke="#000" stroke-width="1.2"/>
<line x1="1019" y1="478" x2="1124" y2="1240" stroke="#000" stroke-width="2.5"/>
<circle cx="1011.5" cy="775.5" r="42" fill="#b3b3b3" stroke="#000" stroke-width="2.2"/>
<text x="1011.5" y="793.5" font-size="50" font-weight="bold" text-anchor="middle" fill="#000">2</text>
<polyline points="1688.5,229 1693,229 1996,965 1931,1057 1927,1058 1670,347 1688.5,229" fill="none" stroke="#000" stroke-width="3" stroke-linejoin="round"/>
<line x1="1693" y1="229" x2="1992" y2="963" stroke="#000" stroke-width="1.2"/>
<line x1="1675" y1="346" x2="1931" y2="1050" stroke="#000" stroke-width="2.5"/>
<circle cx="1848.5" cy="590.5" r="42" fill="#b3b3b3" stroke="#000" stroke-width="2.2"/>
<text x="1848.5" y="608.5" font-size="50" font-weight="bold" text-anchor="middle" fill="#000">3</text>
<polyline points="1200,312.5 1416.5,276.5 1421,419.5 1226,455 1200,312.5" fill="none" stroke="#000" stroke-width="3" stroke-linejoin="round"/>
<line x1="1201" y1="318" x2="1416" y2="282" stroke="#000" stroke-width="2.5"/>
<line x1="1222" y1="438" x2="1420" y2="404" stroke="#000" stroke-width="2.5"/>
<circle cx="1315.5" cy="362.5" r="42" fill="#b3b3b3" stroke="#000" stroke-width="2.2"/>
<text x="1315.5" y="380.5" font-size="50" font-weight="bold" text-anchor="middle" fill="#000">4</text>
<polyline points="1251,555.5 1486,513.5 1484.5,630.5 1271.5,671.5 1251,555.5" fill="none" stroke="#000" stroke-width="3" stroke-linejoin="round"/>
<line x1="1252" y1="561" x2="1486" y2="519" stroke="#000" stroke-width="2.5"/>
<circle cx="1370.5" cy="597" r="42" fill="#b3b3b3" stroke="#000" stroke-width="2.2"/>
<text x="1370.5" y="615.0" font-size="50" font-weight="bold" text-anchor="middle" fill="#000">5</text>
<polyline points="1298.5,777 1549,728 1542.5,832 1315,879 1298.5,777" fill="none" stroke="#000" stroke-width="3" stroke-linejoin="round"/>
<line x1="1299" y1="782" x2="1549" y2="733" stroke="#000" stroke-width="2.5"/>
<circle cx="1425" cy="806" r="42" fill="#b3b3b3" stroke="#000" stroke-width="2.2"/>
<text x="1425.0" y="824.0" font-size="50" font-weight="bold" text-anchor="middle" fill="#000">5</text>
<text x="1998" y="292" font-size="79.0" font-weight="bold" textLength="84.0" lengthAdjust="spacingAndGlyphs">90</text>
<ellipse cx="2091.1" cy="242.9" rx="8.4" ry="9.2" fill="none" stroke="#000" stroke-width="5.6"/>
<path d="M2030.3,220.0 C2018.0,207.0 1996.0,210.0 1986.0,232.0 C1978.0,250.0 1976.0,278.0 1983.0,301.0" fill="none" stroke="#000" stroke-width="3.9"/>
<polygon points="1975.6,309.3 1991.1,291.2 2011.3,324.3" fill="#000"/>
<line x1="1166.8" y1="324.9" x2="1183.2" y2="322.1" stroke="#000" stroke-width="2.4"/>
<polygon points="1155.0,327.0 1170.7,329.8 1168.8,319.0" fill="#000"/>
<polygon points="1195.0,320.0 1181.2,328.0 1179.3,317.2" fill="#000"/>
<line x1="1174.8" y1="361.9" x2="1191.2" y2="359.1" stroke="#000" stroke-width="2.4"/>
<polygon points="1163.0,364.0 1178.7,366.8 1176.8,356.0" fill="#000"/>
<polygon points="1203.0,357.0 1189.2,365.0 1187.3,354.2" fill="#000"/>
<line x1="1178.8" y1="388.9" x2="1195.2" y2="386.1" stroke="#000" stroke-width="2.4"/>
<polygon points="1167.0,391.0 1182.7,393.8 1180.8,383.0" fill="#000"/>
<polygon points="1207.0,384.0 1193.2,392.0 1191.3,381.2" fill="#000"/>
<line x1="1183.8" y1="416.9" x2="1200.2" y2="414.1" stroke="#000" stroke-width="2.4"/>
<polygon points="1172.0,419.0 1187.7,421.8 1185.8,411.0" fill="#000"/>
<polygon points="1212.0,412.0 1198.2,420.0 1196.3,409.2" fill="#000"/>
<line x1="1191.8" y1="452.9" x2="1208.2" y2="450.1" stroke="#000" stroke-width="2.4"/>
<polygon points="1180.0,455.0 1195.7,457.8 1193.8,447.0" fill="#000"/>
<polygon points="1220.0,448.0 1206.2,456.0 1204.3,445.2" fill="#000"/>
<line x1="1435.9" y1="278.9" x2="1454.1" y2="277.1" stroke="#000" stroke-width="2.4"/>
<polygon points="1424.0,280.0 1439.5,284.1 1438.4,273.1" fill="#000"/>
<polygon points="1466.0,276.0 1451.6,282.9 1450.5,271.9" fill="#000"/>
<line x1="1435.9" y1="311.9" x2="1454.1" y2="310.1" stroke="#000" stroke-width="2.4"/>
<polygon points="1424.0,313.0 1439.5,317.1 1438.4,306.1" fill="#000"/>
<polygon points="1466.0,309.0 1451.6,315.9 1450.5,304.9" fill="#000"/>
<line x1="1435.9" y1="338.9" x2="1454.1" y2="337.1" stroke="#000" stroke-width="2.4"/>
<polygon points="1424.0,340.0 1439.5,344.1 1438.4,333.1" fill="#000"/>
<polygon points="1466.0,336.0 1451.6,342.9 1450.5,331.9" fill="#000"/>
<line x1="1435.9" y1="364.9" x2="1454.1" y2="363.1" stroke="#000" stroke-width="2.4"/>
<polygon points="1424.0,366.0 1439.5,370.1 1438.4,359.1" fill="#000"/>
<polygon points="1466.0,362.0 1451.6,368.9 1450.5,357.9" fill="#000"/>
<line x1="1435.9" y1="404.9" x2="1454.1" y2="403.1" stroke="#000" stroke-width="2.4"/>
<polygon points="1424.0,406.0 1439.5,410.1 1438.4,399.1" fill="#000"/>
<polygon points="1466.0,402.0 1451.6,408.9 1450.5,397.9" fill="#000"/>
<line x1="1225.9" y1="571.5" x2="1242.1" y2="569.5" stroke="#000" stroke-width="2.4"/>
<polygon points="1214.0,573.0 1229.6,576.6 1228.2,565.7" fill="#000"/>
<polygon points="1254.0,568.0 1239.8,575.3 1238.4,564.4" fill="#000"/>
<line x1="1229.9" y1="598.5" x2="1246.1" y2="596.5" stroke="#000" stroke-width="2.4"/>
<polygon points="1218.0,600.0 1233.6,603.6 1232.2,592.7" fill="#000"/>
<polygon points="1258.0,595.0 1243.8,602.3 1242.4,591.4" fill="#000"/>
<line x1="1243.9" y1="632.5" x2="1260.1" y2="630.5" stroke="#000" stroke-width="2.4"/>
<polygon points="1232.0,634.0 1247.6,637.6 1246.2,626.7" fill="#000"/>
<polygon points="1272.0,629.0 1257.8,636.3 1256.4,625.4" fill="#000"/>
<line x1="1244.9" y1="666.5" x2="1261.1" y2="664.5" stroke="#000" stroke-width="2.4"/>
<polygon points="1233.0,668.0 1248.6,671.6 1247.2,660.7" fill="#000"/>
<polygon points="1273.0,663.0 1258.8,670.3 1257.4,659.4" fill="#000"/>
<line x1="1499.9" y1="514.8" x2="1516.1" y2="513.2" stroke="#000" stroke-width="2.4"/>
<polygon points="1488.0,516.0 1503.5,520.0 1502.4,509.0" fill="#000"/>
<polygon points="1528.0,512.0 1513.6,519.0 1512.5,508.0" fill="#000"/>
<line x1="1499.9" y1="544.8" x2="1516.1" y2="543.2" stroke="#000" stroke-width="2.4"/>
<polygon points="1488.0,546.0 1503.5,550.0 1502.4,539.0" fill="#000"/>
<polygon points="1528.0,542.0 1513.6,549.0 1512.5,538.0" fill="#000"/>
<line x1="1499.9" y1="581.8" x2="1516.1" y2="580.2" stroke="#000" stroke-width="2.4"/>
<polygon points="1488.0,583.0 1503.5,587.0 1502.4,576.0" fill="#000"/>
<polygon points="1528.0,579.0 1513.6,586.0 1512.5,575.0" fill="#000"/>
<line x1="1499.9" y1="612.8" x2="1516.1" y2="611.2" stroke="#000" stroke-width="2.4"/>
<polygon points="1488.0,614.0 1503.5,618.0 1502.4,607.0" fill="#000"/>
<polygon points="1528.0,610.0 1513.6,617.0 1512.5,606.0" fill="#000"/>
<line x1="1270.9" y1="794.4" x2="1285.1" y2="792.6" stroke="#000" stroke-width="2.4"/>
<polygon points="1259.0,796.0 1274.6,799.5 1273.2,788.6" fill="#000"/>
<polygon points="1297.0,791.0 1282.8,798.4 1281.4,787.5" fill="#000"/>
<line x1="1279.9" y1="821.4" x2="1294.1" y2="819.6" stroke="#000" stroke-width="2.4"/>
<polygon points="1268.0,823.0 1283.6,826.5 1282.2,815.6" fill="#000"/>
<polygon points="1306.0,818.0 1291.8,825.4 1290.4,814.5" fill="#000"/>
<line x1="1283.9" y1="855.4" x2="1298.1" y2="853.6" stroke="#000" stroke-width="2.4"/>
<polygon points="1272.0,857.0 1287.6,860.5 1286.2,849.6" fill="#000"/>
<polygon points="1310.0,852.0 1295.8,859.4 1294.4,848.5" fill="#000"/>
<line x1="1286.9" y1="876.4" x2="1301.1" y2="874.6" stroke="#000" stroke-width="2.4"/>
<polygon points="1275.0,878.0 1290.6,881.5 1289.2,870.6" fill="#000"/>
<polygon points="1313.0,873.0 1298.8,880.4 1297.4,869.5" fill="#000"/>
<line x1="1562.9" y1="732.8" x2="1579.1" y2="731.2" stroke="#000" stroke-width="2.4"/>
<polygon points="1551.0,734.0 1566.5,738.0 1565.4,727.0" fill="#000"/>
<polygon points="1591.0,730.0 1576.6,737.0 1575.5,726.0" fill="#000"/>
<line x1="1562.9" y1="756.8" x2="1579.1" y2="755.2" stroke="#000" stroke-width="2.4"/>
<polygon points="1551.0,758.0 1566.5,762.0 1565.4,751.0" fill="#000"/>
<polygon points="1591.0,754.0 1576.6,761.0 1575.5,750.0" fill="#000"/>
<line x1="1562.9" y1="790.8" x2="1579.1" y2="789.2" stroke="#000" stroke-width="2.4"/>
<polygon points="1551.0,792.0 1566.5,796.0 1565.4,785.0" fill="#000"/>
<polygon points="1591.0,788.0 1576.6,795.0 1575.5,784.0" fill="#000"/>
<line x1="1557.9" y1="818.8" x2="1574.1" y2="817.2" stroke="#000" stroke-width="2.4"/>
<polygon points="1546.0,820.0 1561.5,824.0 1560.4,813.0" fill="#000"/>
<polygon points="1586.0,816.0 1571.6,823.0 1570.5,812.0" fill="#000"/>
<line x1="1019.8" y1="512.8" x2="1034.2" y2="510.2" stroke="#000" stroke-width="2.4"/>
<polygon points="1008.0,515.0 1023.7,517.7 1021.8,506.9" fill="#000"/>
<polygon points="1046.0,508.0 1032.2,516.1 1030.3,505.3" fill="#000"/>
<line x1="1040.7" y1="555.2" x2="1054.3" y2="551.8" stroke="#000" stroke-width="2.4"/>
<polygon points="1029.0,558.0 1044.9,559.8 1042.3,549.1" fill="#000"/>
<polygon points="1066.0,549.0 1052.7,557.9 1050.1,547.2" fill="#000"/>
<line x1="1082.9" y1="1021.2" x2="1098.1" y2="1018.8" stroke="#000" stroke-width="2.4"/>
<polygon points="1071.0,1023.0 1086.7,1026.2 1085.0,1015.3" fill="#000"/>
<polygon points="1110.0,1017.0 1096.0,1024.7 1094.3,1013.8" fill="#000"/>
<line x1="1102.8" y1="1062.9" x2="1118.2" y2="1060.1" stroke="#000" stroke-width="2.4"/>
<polygon points="1091.0,1065.0 1106.7,1067.8 1104.8,1056.9" fill="#000"/>
<polygon points="1130.0,1058.0 1116.2,1066.1 1114.3,1055.2" fill="#000"/>
<line x1="1697.9" y1="366.2" x2="1713.1" y2="363.8" stroke="#000" stroke-width="2.4"/>
<polygon points="1686.0,368.0 1701.7,371.2 1700.0,360.3" fill="#000"/>
<polygon points="1725.0,362.0 1711.0,369.7 1709.3,358.8" fill="#000"/>
<line x1="1679.8" y1="436.9" x2="1695.2" y2="434.1" stroke="#000" stroke-width="2.4"/>
<polygon points="1668.0,439.0 1683.7,441.8 1681.8,430.9" fill="#000"/>
<polygon points="1707.0,432.0 1693.2,440.1 1691.3,429.2" fill="#000"/>
<line x1="1891.9" y1="824.1" x2="1906.1" y2="821.9" stroke="#000" stroke-width="2.4"/>
<polygon points="1880.0,826.0 1895.7,829.1 1894.0,818.2" fill="#000"/>
<polygon points="1918.0,820.0 1904.0,827.8 1902.3,816.9" fill="#000"/>
<line x1="1854.9" y1="877.5" x2="1870.1" y2="875.5" stroke="#000" stroke-width="2.4"/>
<polygon points="1843.0,879.0 1858.6,882.5 1857.2,871.6" fill="#000"/>
<polygon points="1882.0,874.0 1867.8,881.4 1866.4,870.5" fill="#000"/>
<circle cx="1118.3" cy="310.7" r="29" fill="#fff" stroke="#000" stroke-width="1.8"/>
<text x="1118.3" y="328.7" font-size="50" font-weight="bold" text-anchor="middle" fill="#000">a</text>
<circle cx="1127" cy="358.3" r="29" fill="#fff" stroke="#000" stroke-width="1.8"/>
<text x="1127.0" y="376.3" font-size="50" font-weight="bold" text-anchor="middle" fill="#000">b</text>
<circle cx="1131.2" cy="395.7" r="29" fill="#fff" stroke="#000" stroke-width="1.8"/>
<text x="1131.2" y="413.7" font-size="50" font-weight="bold" text-anchor="middle" fill="#000">b</text>
<circle cx="1139.4" cy="442" r="29" fill="#fff" stroke="#000" stroke-width="1.8"/>
<text x="1139.4" y="460.0" font-size="50" font-weight="bold" text-anchor="middle" fill="#000">b</text>
<circle cx="1151" cy="493" r="29" fill="#fff" stroke="#000" stroke-width="1.8"/>
<text x="1151.0" y="511.0" font-size="50" font-weight="bold" text-anchor="middle" fill="#000">a</text>
<circle cx="1491.2" cy="231" r="29" fill="#fff" stroke="#000" stroke-width="1.8"/>
<text x="1491.2" y="249.0" font-size="50" font-weight="bold" text-anchor="middle" fill="#000">a</text>
<circle cx="1493.3" cy="283.4" r="29" fill="#fff" stroke="#000" stroke-width="1.8"/>
<text x="1493.3" y="301.4" font-size="50" font-weight="bold" text-anchor="middle" fill="#000">b</text>
<circle cx="1493.3" cy="329.7" r="29" fill="#fff" stroke="#000" stroke-width="1.8"/>
<text x="1493.3" y="347.7" font-size="50" font-weight="bold" text-anchor="middle" fill="#000">b</text>
<circle cx="1494.6" cy="377.4" r="29" fill="#fff" stroke="#000" stroke-width="1.8"/>
<text x="1494.6" y="395.4" font-size="50" font-weight="bold" text-anchor="middle" fill="#000">b</text>
<circle cx="1494.6" cy="428.4" r="29" fill="#fff" stroke="#000" stroke-width="1.8"/>
<text x="1494.6" y="446.4" font-size="50" font-weight="bold" text-anchor="middle" fill="#000">a</text>
<circle cx="1181.6" cy="561" r="29" fill="#fff" stroke="#000" stroke-width="1.8"/>
<text x="1181.6" y="579.0" font-size="50" font-weight="bold" text-anchor="middle" fill="#000">a</text>
<circle cx="1186.3" cy="605.4" r="29" fill="#fff" stroke="#000" stroke-width="1.8"/>
<text x="1186.3" y="623.4" font-size="50" font-weight="bold" text-anchor="middle" fill="#000">b</text>
<circle cx="1197.2" cy="649.6" r="29" fill="#fff" stroke="#000" stroke-width="1.8"/>
<text x="1197.2" y="667.6" font-size="50" font-weight="bold" text-anchor="middle" fill="#000">b</text>
<circle cx="1205.4" cy="693.8" r="29" fill="#fff" stroke="#000" stroke-width="1.8"/>
<text x="1205.4" y="711.8" font-size="50" font-weight="bold" text-anchor="middle" fill="#000">a</text>
<circle cx="1557.2" cy="491" r="29" fill="#fff" stroke="#000" stroke-width="1.8"/>
<text x="1557.2" y="509.0" font-size="50" font-weight="bold" text-anchor="middle" fill="#000">a</text>
<circle cx="1559.3" cy="537.3" r="29" fill="#fff" stroke="#000" stroke-width="1.8"/>
<text x="1559.3" y="555.3" font-size="50" font-weight="bold" text-anchor="middle" fill="#000">b</text>
<circle cx="1557.2" cy="586.3" r="29" fill="#fff" stroke="#000" stroke-width="1.8"/>
<text x="1557.2" y="604.3" font-size="50" font-weight="bold" text-anchor="middle" fill="#000">b</text>
<circle cx="1560.6" cy="632.6" r="29" fill="#fff" stroke="#000" stroke-width="1.8"/>
<text x="1560.6" y="650.6" font-size="50" font-weight="bold" text-anchor="middle" fill="#000">a</text>
<circle cx="1223.7" cy="785.7" r="29" fill="#fff" stroke="#000" stroke-width="1.8"/>
<text x="1223.7" y="803.7" font-size="50" font-weight="bold" text-anchor="middle" fill="#000">a</text>
<circle cx="1232.6" cy="830" r="29" fill="#fff" stroke="#000" stroke-width="1.8"/>
<text x="1232.6" y="848.0" font-size="50" font-weight="bold" text-anchor="middle" fill="#000">b</text>
<circle cx="1240.8" cy="874.2" r="29" fill="#fff" stroke="#000" stroke-width="1.8"/>
<text x="1240.8" y="892.2" font-size="50" font-weight="bold" text-anchor="middle" fill="#000">b</text>
<circle cx="1251" cy="918.4" r="29" fill="#fff" stroke="#000" stroke-width="1.8"/>
<text x="1251.0" y="936.4" font-size="50" font-weight="bold" text-anchor="middle" fill="#000">a</text>
<circle cx="1621.9" cy="702.7" r="29" fill="#fff" stroke="#000" stroke-width="1.8"/>
<text x="1621.9" y="720.7" font-size="50" font-weight="bold" text-anchor="middle" fill="#000">a</text>
<circle cx="1620.5" cy="751.7" r="29" fill="#fff" stroke="#000" stroke-width="1.8"/>
<text x="1620.5" y="769.7" font-size="50" font-weight="bold" text-anchor="middle" fill="#000">b</text>
<circle cx="1617.1" cy="796" r="29" fill="#fff" stroke="#000" stroke-width="1.8"/>
<text x="1617.1" y="814.0" font-size="50" font-weight="bold" text-anchor="middle" fill="#000">b</text>
<circle cx="1610.3" cy="843.6" r="29" fill="#fff" stroke="#000" stroke-width="1.8"/>
<text x="1610.3" y="861.6" font-size="50" font-weight="bold" text-anchor="middle" fill="#000">a</text>
<circle cx="1077.4" cy="494.4" r="29" fill="#fff" stroke="#000" stroke-width="1.8"/>
<text x="1077.4" y="512.4" font-size="50" font-weight="bold" text-anchor="middle" fill="#000">d</text>
<circle cx="1095.1" cy="547.5" r="29" fill="#fff" stroke="#000" stroke-width="1.8"/>
<text x="1095.1" y="565.5" font-size="50" font-weight="bold" text-anchor="middle" fill="#000">d</text>
<circle cx="1140.7" cy="1007" r="29" fill="#fff" stroke="#000" stroke-width="1.8"/>
<text x="1140.7" y="1025.0" font-size="50" font-weight="bold" text-anchor="middle" fill="#000">d</text>
<circle cx="1161.1" cy="1058" r="29" fill="#fff" stroke="#000" stroke-width="1.8"/>
<text x="1161.1" y="1076.0" font-size="50" font-weight="bold" text-anchor="middle" fill="#000">d</text>
<circle cx="1653.2" cy="369.2" r="29" fill="#fff" stroke="#000" stroke-width="1.8"/>
<text x="1653.2" y="387.2" font-size="50" font-weight="bold" text-anchor="middle" fill="#000">d</text>
<circle cx="1635.5" cy="438.6" r="29" fill="#fff" stroke="#000" stroke-width="1.8"/>
<text x="1635.5" y="456.6" font-size="50" font-weight="bold" text-anchor="middle" fill="#000">d</text>
<circle cx="1849.9" cy="826.6" r="29" fill="#fff" stroke="#000" stroke-width="1.8"/>
<text x="1849.9" y="844.6" font-size="50" font-weight="bold" text-anchor="middle" fill="#000">d</text>
<circle cx="1811" cy="887.8" r="29" fill="#fff" stroke="#000" stroke-width="1.8"/>
<text x="1811.0" y="905.8" font-size="50" font-weight="bold" text-anchor="middle" fill="#000">d</text>
<polyline points="2275.9,822.9 2271.1,797.7 2903.1,343.3 3103.8,428.3 3066.4,608.6 2506.5,1126.3 2486.5,951.4 3097.0,430.3" fill="none" stroke="#000" stroke-width="3" stroke-linejoin="round"/>
<line x1="2274.8" y1="802.1" x2="2903.1" y2="348.4" stroke="#000" stroke-width="2.5"/>
<line x1="2274.8" y1="802.1" x2="2279.3" y2="824.2" stroke="#000" stroke-width="2.5"/>
<line x1="2903.1" y1="350.1" x2="3097.0" y2="433.7" stroke="#000" stroke-width="2.5"/>
<line x1="2492.2" y1="954.1" x2="3102.4" y2="433.7" stroke="#000" stroke-width="2.5"/>
<line x1="2492.2" y1="954.1" x2="2511.0" y2="1124.9" stroke="#000" stroke-width="2.5"/>
<line x1="2902.8" y1="347.6" x2="2899.8" y2="386" stroke="#000" stroke-width="2.5"/>
<line x1="2900.8" y1="371.2" x2="3076.2" y2="445.1" stroke="#000" stroke-width="2.5"/>
<line x1="2899.8" y1="386" x2="3061.4" y2="456" stroke="#000" stroke-width="2.5"/>
<line x1="2887" y1="379.1" x2="2900.8" y2="371.2" stroke="#000" stroke-width="2"/>
<line x1="2885" y1="381.1" x2="2899.8" y2="386" stroke="#000" stroke-width="2"/>
<polyline points="2280.7,824.9 2220.8,867.1 2433.7,1026.9 2488.1,981.4" fill="none" stroke="#000" stroke-width="2.5" stroke-linejoin="round"/>
<line x1="2280.7" y1="824.9" x2="2889.5" y2="380.7" stroke="#000" stroke-width="1.2"/>
<polyline points="2303.1,928.3 2311.3,979.3 2341.9,962.3" fill="none" stroke="#000" stroke-width="2.5" stroke-linejoin="round"/>
<polyline points="2597.0,591.6 2787.5,697.0 2801.1,683.4 2610.6,582.7" fill="none" stroke="#000" stroke-width="2.5" stroke-linejoin="round"/>
<line x1="2602.4" y1="586.8" x2="2794.3" y2="690.2" stroke="#000" stroke-width="2"/>
<line x1="2605.1" y1="596.3" x2="2784.1" y2="691.6" stroke="#000" stroke-width="2"/>
<line x1="2597.0" y1="591.6" x2="2593.6" y2="596.3" stroke="#000" stroke-width="2"/>
<circle cx="2845.3" cy="518.1" r="42" fill="#b3b3b3" stroke="#000" stroke-width="2.2"/>
<text x="2845.3" y="536.1" font-size="50" font-weight="bold" text-anchor="middle" fill="#000">7</text>
<circle cx="2499.7" cy="780.0" r="42" fill="#b3b3b3" stroke="#000" stroke-width="2.2"/>
<text x="2499.7" y="798.0" font-size="50" font-weight="bold" text-anchor="middle" fill="#000">7</text>
<circle cx="2668.4" cy="618.8" r="28" fill="#fff" stroke="#000" stroke-width="1.8"/>
<text x="2668.4" y="636.8" font-size="50" font-weight="bold" text-anchor="middle" fill="#000">m</text>
<line x1="2718.9" y1="613.7" x2="2732.2" y2="604.1" stroke="#000" stroke-width="2.4"/>
<polygon points="2709.2,620.8 2724.6,616.4 2718.1,607.5" fill="#000"/>
<polygon points="2741.9,597.0 2733.0,610.3 2726.5,601.4" fill="#000"/>
<line x1="2652.3" y1="669.5" x2="2663.5" y2="661.2" stroke="#000" stroke-width="2.4"/>
<polygon points="2642.6,676.6 2657.9,672.1 2651.4,663.3" fill="#000"/>
<polygon points="2673.2,654.1 2664.4,667.4 2657.9,658.6" fill="#000"/>
<line x1="2210.9" y1="906.4" x2="2223.2" y2="897.8" stroke="#000" stroke-width="2.4"/>
<polygon points="2201.1,913.3 2216.5,909.2 2210.2,900.2" fill="#000"/>
<polygon points="2233.0,890.9 2223.9,904.0 2217.6,895.0" fill="#000"/>
<line x1="2378.6" y1="1027.7" x2="2390.2" y2="1018.7" stroke="#000" stroke-width="2.4"/>
<polygon points="2369.1,1035.1 2384.3,1030.2 2377.6,1021.5" fill="#000"/>
<polygon points="2399.7,1011.3 2391.2,1024.9 2384.5,1016.2" fill="#000"/>
<text x="3049" y="286" font-size="79.0" font-weight="bold" textLength="84.0" lengthAdjust="spacingAndGlyphs">90</text>
<ellipse cx="3142.1" cy="236.9" rx="8.4" ry="9.2" fill="none" stroke="#000" stroke-width="5.6"/>
<path d="M3081.3,214.0 C3069.0,201.0 3047.0,204.0 3037.0,226.0 C3029.0,244.0 3027.0,272.0 3034.0,295.0" fill="none" stroke="#000" stroke-width="3.9"/>
<polygon points="3026.6,303.3 3042.1,285.2 3062.3,318.3" fill="#000"/>
<polyline points="3331.0,884.1 3331.0,873.9 3856.9,326.3 3860.3,324.9 4071.2,404.5 4033.7,550.7 3561.0,1125.6 3547.3,1023.5 4064.4,409.9" fill="none" stroke="#000" stroke-width="3" stroke-linejoin="round"/>
<line x1="3339.9" y1="880.7" x2="3862.3" y2="335.1" stroke="#000" stroke-width="2.5"/>
<line x1="3862.3" y1="335.1" x2="4057.6" y2="411.3" stroke="#000" stroke-width="1.3"/>
<line x1="3358.2" y1="867.1" x2="3862.3" y2="346.7" stroke="#000" stroke-width="1.2"/>
<line x1="3554.1" y1="1027.6" x2="4069.8" y2="414.7" stroke="#000" stroke-width="2.5"/>
<line x1="3554.1" y1="1027.6" x2="3562.3" y2="1122.2" stroke="#000" stroke-width="2.5"/>
<line x1="3639.2" y1="580.0" x2="3822.9" y2="685.4" stroke="#000" stroke-width="3"/>
<line x1="3637.1" y1="586.8" x2="3819.5" y2="691.6" stroke="#000" stroke-width="1.5"/>
<line x1="3386.0" y1="928.3" x2="3546.0" y2="1037.5" stroke="#000" stroke-width="3"/>
<line x1="3395.0" y1="965.7" x2="3411.5" y2="947.8" stroke="#000" stroke-width="2.5"/>
<line x1="3532.4" y1="1110.6" x2="3559.3" y2="1128.6" stroke="#000" stroke-width="3"/>
<polyline points="3301.1,904.5 3304.5,903.1 3523.5,1057.6 3537.1,1159.6 3533.7,1161.0 3341.2,1013.3 3301.1,904.5" fill="none" stroke="#000" stroke-width="3" stroke-linejoin="round"/>
<line x1="3310.6" y1="911.3" x2="3520.1" y2="1061.0" stroke="#000" stroke-width="1.2"/>
<line x1="3520.1" y1="1058.9" x2="3532.4" y2="1158.2" stroke="#000" stroke-width="2.5"/>
<circle cx="3382.0" cy="1074.6" r="42" fill="#b3b3b3" stroke="#000" stroke-width="2.2"/>
<path d="M3383.0,1056.8 L3391.5,1056.8 L3391.5,1092.6 L3383.0,1092.6 L3383.0,1067.6 C3380.0,1070.1 3376.5,1072.1 3373.5,1073.1 L3373.5,1066.1 C3378.0,1064.1 3382.0,1061.1 3383.0,1056.8 Z" fill="#000"/>
<line x1="3920.1" y1="324.7" x2="3920.1" y2="334.7" stroke="#000" stroke-width="2.4"/>
<polygon points="3920.1,312.7 3914.6,327.7 3925.6,327.7" fill="#000"/>
<polygon points="3920.1,346.7 3914.6,331.7 3925.6,331.7" fill="#000"/>
<line x1="3828.3" y1="355.3" x2="3828.3" y2="372.1" stroke="#000" stroke-width="2.4"/>
<polygon points="3828.3,343.3 3822.8,358.3 3833.8,358.3" fill="#000"/>
<polygon points="3828.3,384.1 3822.8,369.1 3833.8,369.1" fill="#000"/>
<line x1="4020.2" y1="372.2" x2="4019.4" y2="379.0" stroke="#000" stroke-width="2.4"/>
<polygon points="4021.5,360.3 4014.4,374.6 4025.3,375.8" fill="#000"/>
<polygon points="4018.1,390.9 4014.3,375.4 4025.2,376.6" fill="#000"/>
<line x1="3995.0" y1="457.3" x2="3995.0" y2="467.3" stroke="#000" stroke-width="2.4"/>
<polygon points="3995.0,445.3 3989.5,460.3 4000.5,460.3" fill="#000"/>
<polygon points="3995.0,479.3 3989.5,464.3 4000.5,464.3" fill="#000"/>
<line x1="3685.9" y1="508.3" x2="3687.1" y2="521.7" stroke="#000" stroke-width="2.4"/>
<polygon points="3684.8,496.3 3680.7,511.7 3691.6,510.7" fill="#000"/>
<polygon points="3688.2,533.7 3681.4,519.3 3692.3,518.3" fill="#000"/>
<line x1="3581.1" y1="608.2" x2="3582.3" y2="620.5" stroke="#000" stroke-width="2.4"/>
<polygon points="3580.0,596.3 3575.9,611.7 3586.9,610.7" fill="#000"/>
<polygon points="3583.4,632.4 3576.5,618.0 3587.5,617.0" fill="#000"/>
<line x1="3854.5" y1="617.2" x2="3855.9" y2="634.0" stroke="#000" stroke-width="2.4"/>
<polygon points="3853.5,605.2 3849.3,620.6 3860.2,619.7" fill="#000"/>
<polygon points="3856.9,646.0 3850.2,631.5 3861.1,630.6" fill="#000"/>
<line x1="3761.8" y1="725.9" x2="3763.5" y2="738.2" stroke="#000" stroke-width="2.4"/>
<polygon points="3760.3,714.0 3756.8,729.6 3767.7,728.2" fill="#000"/>
<polygon points="3765.0,750.1 3757.6,735.9 3768.5,734.5" fill="#000"/>
<line x1="3419.2" y1="783.8" x2="3420.4" y2="797.3" stroke="#000" stroke-width="2.4"/>
<polygon points="3418.1,771.8 3414.0,787.2 3424.9,786.2" fill="#000"/>
<polygon points="3421.5,809.3 3414.7,794.9 3425.6,793.9" fill="#000"/>
<line x1="3395.4" y1="899.5" x2="3396.6" y2="912.9" stroke="#000" stroke-width="2.4"/>
<polygon points="3394.3,887.5 3390.2,902.9 3401.1,901.9" fill="#000"/>
<polygon points="3397.7,924.9 3390.9,910.5 3401.8,909.5" fill="#000"/>
<line x1="3599.9" y1="919.8" x2="3601.6" y2="933.4" stroke="#000" stroke-width="2.4"/>
<polygon points="3598.4,907.9 3594.8,923.5 3605.7,922.1" fill="#000"/>
<polygon points="3603.1,945.3 3595.8,931.1 3606.7,929.7" fill="#000"/>
<line x1="3491.5" y1="967.4" x2="3493.0" y2="981.0" stroke="#000" stroke-width="2.4"/>
<polygon points="3490.2,955.5 3486.4,971.0 3497.3,969.8" fill="#000"/>
<polygon points="3494.3,992.9 3487.2,978.6 3498.1,977.4" fill="#000"/>
<line x1="3254.1" y1="957.0" x2="3265.7" y2="947.9" stroke="#000" stroke-width="2.4"/>
<polygon points="3244.6,964.4 3259.8,959.5 3253.0,950.8" fill="#000"/>
<polygon points="3275.2,940.5 3266.8,954.1 3260.0,945.4" fill="#000"/>
<line x1="3298.1" y1="1063.6" x2="3310.2" y2="1053.6" stroke="#000" stroke-width="2.4"/>
<polygon points="3288.8,1071.2 3303.9,1065.9 3296.9,1057.4" fill="#000"/>
<polygon points="3319.5,1046.0 3311.4,1059.8 3304.4,1051.3" fill="#000"/>
<line x1="3485.9" y1="1124.0" x2="3496.6" y2="1113.6" stroke="#000" stroke-width="2.4"/>
<polygon points="3477.3,1132.4 3491.9,1125.9 3484.2,1118.0" fill="#000"/>
<polygon points="3505.2,1105.2 3498.3,1119.6 3490.6,1111.7" fill="#000"/>
<line x1="3501.4" y1="1215.7" x2="3511.6" y2="1205.5" stroke="#000" stroke-width="2.4"/>
<polygon points="3492.9,1224.2 3507.4,1217.5 3499.6,1209.7" fill="#000"/>
<polygon points="3520.1,1197.0 3513.4,1211.5 3505.6,1203.7" fill="#000"/>
<circle cx="3927" cy="276.6" r="29" fill="#fff" stroke="#000" stroke-width="1.8"/>
<text x="3927.0" y="294.6" font-size="50" font-weight="bold" text-anchor="middle" fill="#000">f</text>
<circle cx="3829.7" cy="309.3" r="29" fill="#fff" stroke="#000" stroke-width="1.8"/>
<text x="3829.7" y="327.3" font-size="50" font-weight="bold" text-anchor="middle" fill="#000">f</text>
<circle cx="3887.5" cy="322.9" r="29" fill="#fff" stroke="#000" stroke-width="1.8"/>
<text x="3887.5" y="340.9" font-size="50" font-weight="bold" text-anchor="middle" fill="#000">g</text>
<circle cx="3787.5" cy="362.3" r="29" fill="#fff" stroke="#000" stroke-width="1.8"/>
<text x="3787.5" y="380.3" font-size="50" font-weight="bold" text-anchor="middle" fill="#000">g</text>
<circle cx="4027" cy="327.6" r="29" fill="#fff" stroke="#000" stroke-width="1.8"/>
<text x="4027.0" y="345.6" font-size="50" font-weight="bold" text-anchor="middle" fill="#000">f</text>
<circle cx="4061" cy="376" r="29" fill="#fff" stroke="#000" stroke-width="1.8"/>
<text x="4061.0" y="394.0" font-size="50" font-weight="bold" text-anchor="middle" fill="#000">g</text>
<circle cx="3994.3" cy="411.3" r="29" fill="#fff" stroke="#000" stroke-width="1.8"/>
<text x="3994.3" y="429.3" font-size="50" font-weight="bold" text-anchor="middle" fill="#000">f</text>
<circle cx="3960.3" cy="458.9" r="29" fill="#fff" stroke="#000" stroke-width="1.8"/>
<text x="3960.3" y="476.9" font-size="50" font-weight="bold" text-anchor="middle" fill="#000">g</text>
<circle cx="3673.2" cy="464.4" r="29" fill="#fff" stroke="#000" stroke-width="1.8"/>
<text x="3673.2" y="482.4" font-size="50" font-weight="bold" text-anchor="middle" fill="#000">f</text>
<circle cx="3649.4" cy="528.3" r="29" fill="#fff" stroke="#000" stroke-width="1.8"/>
<text x="3649.4" y="546.3" font-size="50" font-weight="bold" text-anchor="middle" fill="#000">g</text>
<circle cx="3562.3" cy="567.8" r="29" fill="#fff" stroke="#000" stroke-width="1.8"/>
<text x="3562.3" y="585.8" font-size="50" font-weight="bold" text-anchor="middle" fill="#000">f</text>
<circle cx="3544" cy="625.6" r="29" fill="#fff" stroke="#000" stroke-width="1.8"/>
<text x="3544.0" y="643.6" font-size="50" font-weight="bold" text-anchor="middle" fill="#000">g</text>
<circle cx="3848.7" cy="573.2" r="29" fill="#fff" stroke="#000" stroke-width="1.8"/>
<text x="3848.7" y="591.2" font-size="50" font-weight="bold" text-anchor="middle" fill="#000">f</text>
<circle cx="3888.8" cy="613.3" r="29" fill="#fff" stroke="#000" stroke-width="1.8"/>
<text x="3888.8" y="631.3" font-size="50" font-weight="bold" text-anchor="middle" fill="#000">g</text>
<circle cx="3744.6" cy="683.4" r="29" fill="#fff" stroke="#000" stroke-width="1.8"/>
<text x="3744.6" y="701.4" font-size="50" font-weight="bold" text-anchor="middle" fill="#000">f</text>
<circle cx="3794.3" cy="719.5" r="29" fill="#fff" stroke="#000" stroke-width="1.8"/>
<text x="3794.3" y="737.5" font-size="50" font-weight="bold" text-anchor="middle" fill="#000">g</text>
<circle cx="3406.5" cy="742.6" r="29" fill="#fff" stroke="#000" stroke-width="1.8"/>
<text x="3406.5" y="760.6" font-size="50" font-weight="bold" text-anchor="middle" fill="#000">f</text>
<circle cx="3454.1" cy="775.2" r="29" fill="#fff" stroke="#000" stroke-width="1.8"/>
<text x="3454.1" y="793.2" font-size="50" font-weight="bold" text-anchor="middle" fill="#000">g</text>
<circle cx="3382.7" cy="856.9" r="29" fill="#fff" stroke="#000" stroke-width="1.8"/>
<text x="3382.7" y="874.9" font-size="50" font-weight="bold" text-anchor="middle" fill="#000">f</text>
<circle cx="3356.9" cy="907.9" r="29" fill="#fff" stroke="#000" stroke-width="1.8"/>
<text x="3356.9" y="925.9" font-size="50" font-weight="bold" text-anchor="middle" fill="#000">g</text>
<circle cx="3583.4" cy="875.9" r="29" fill="#fff" stroke="#000" stroke-width="1.8"/>
<text x="3583.4" y="893.9" font-size="50" font-weight="bold" text-anchor="middle" fill="#000">f</text>
<circle cx="3634.4" cy="907.9" r="29" fill="#fff" stroke="#000" stroke-width="1.8"/>
<text x="3634.4" y="925.9" font-size="50" font-weight="bold" text-anchor="middle" fill="#000">g</text>
<circle cx="3480.7" cy="921.5" r="29" fill="#fff" stroke="#000" stroke-width="1.8"/>
<text x="3480.7" y="939.5" font-size="50" font-weight="bold" text-anchor="middle" fill="#000">f</text>
<circle cx="3527" cy="969.1" r="29" fill="#fff" stroke="#000" stroke-width="1.8"/>
<text x="3527.0" y="987.1" font-size="50" font-weight="bold" text-anchor="middle" fill="#000">g</text>
<circle cx="3217.4" cy="986.1" r="29" fill="#fff" stroke="#000" stroke-width="1.8"/>
<text x="3217.4" y="1004.1" font-size="50" font-weight="bold" text-anchor="middle" fill="#000">j</text>
<circle cx="3261.6" cy="1088.2" r="29" fill="#fff" stroke="#000" stroke-width="1.8"/>
<text x="3261.6" y="1106.2" font-size="50" font-weight="bold" text-anchor="middle" fill="#000">j</text>
<circle cx="3452.1" cy="1159.6" r="29" fill="#fff" stroke="#000" stroke-width="1.8"/>
<text x="3452.1" y="1177.6" font-size="50" font-weight="bold" text-anchor="middle" fill="#000">j</text>
<circle cx="3472.5" cy="1246" r="29" fill="#fff" stroke="#000" stroke-width="1.8"/>
<text x="3472.5" y="1264.0" font-size="50" font-weight="bold" text-anchor="middle" fill="#000">j</text>
<text x="4085" y="275" font-size="79.0" font-weight="bold" textLength="84.0" lengthAdjust="spacingAndGlyphs">90</text>
<ellipse cx="4178.1" cy="225.9" rx="8.4" ry="9.2" fill="none" stroke="#000" stroke-width="5.6"/>
<path d="M4117.3,203.0 C4105.0,190.0 4083.0,193.0 4073.0,215.0 C4065.0,233.0 4063.0,261.0 4070.0,284.0" fill="none" stroke="#000" stroke-width="3.9"/>
<polygon points="4062.6,292.3 4078.1,274.2 4098.3,307.3" fill="#000"/>
<polyline points="229.6,1941.5 854.0,1409.9 1043.6,1511.5 1038.2,1665.2 457.8,2220.5 427.4,2102.0 1043.6,1516.2" fill="none" stroke="#000" stroke-width="3" stroke-linejoin="round"/>
<line x1="237.8" y1="1945.6" x2="855.3" y2="1418.7" stroke="#000" stroke-width="2.5"/>
<line x1="854.0" y1="1418.7" x2="1036.8" y2="1516.2" stroke="#000" stroke-width="2.5"/>
<polyline points="229.6,1941.5 427.4,2102.0" fill="none" stroke="#000" stroke-width="3" stroke-linejoin="round"/>
<line x1="236.4" y1="1939.5" x2="431.4" y2="2097.3" stroke="#000" stroke-width="2.5"/>
<line x1="432.8" y1="2106.7" x2="457.8" y2="2219.2" stroke="#000" stroke-width="2.5"/>
<polyline points="228,1941 276,2065.3 316.7,2102.3" fill="none" stroke="#000" stroke-width="3" stroke-linejoin="round"/>
<line x1="390.6" y1="2163.8" x2="457.1" y2="2221.7" stroke="#000" stroke-width="3"/>
<polyline points="484.7,1733 501.2,1853.5 604,1928.3" fill="none" stroke="#000" stroke-width="2.5" stroke-linejoin="round"/>
<line x1="484.7" y1="1733" x2="673.7" y2="1860.3" stroke="#000" stroke-width="3"/>
<line x1="489" y1="1740" x2="668" y2="1862" stroke="#000" stroke-width="2"/>
<line x1="501.2" y1="1853.5" x2="480" y2="1869.7" stroke="#000" stroke-width="2.5"/>
<line x1="411.2" y1="1936.4" x2="323.9" y2="2011.2" stroke="#000" stroke-width="2.5"/>
<line x1="659.3" y1="1711.4" x2="588.8" y2="1773.9" stroke="#000" stroke-width="2.5"/>
<line x1="587" y1="1775" x2="690" y2="1844" stroke="#000" stroke-width="2.5"/>
<line x1="576" y1="1787" x2="675" y2="1860" stroke="#000" stroke-width="2.5"/>
<polyline points="657.6,1584 659.3,1711.4 761.2,1775" fill="none" stroke="#000" stroke-width="2.5" stroke-linejoin="round"/>
<line x1="657.6" y1="1582" x2="846.6" y2="1695.4" stroke="#000" stroke-width="3"/>
<line x1="661" y1="1590" x2="842" y2="1699" stroke="#000" stroke-width="2"/>
<line x1="854" y1="1413.6" x2="846" y2="1490.5" stroke="#000" stroke-width="2.5"/>
<line x1="747.3" y1="1631.4" x2="779.3" y2="1602.5" stroke="#000" stroke-width="2.5"/>
<polygon points="355.3,1792.2 360,1789.5 556.8,1936.4 559.5,1969.6 559.5,1976 513.8,2015.4 384.9,1914.2" fill="#fff"/>
<polyline points="355.3,1792.2 360,1789.5 556.8,1936.4 559.5,1969.6" fill="none" stroke="#000" stroke-width="2.5" stroke-linejoin="round"/>
<polyline points="355.3,1792.2 384.9,1914.2 513.8,2015.4" fill="none" stroke="#000" stroke-width="2.5" stroke-linejoin="round"/>
<line x1="361" y1="1795" x2="553" y2="1937" stroke="#000" stroke-width="1.2"/>
<circle cx="457" cy="1911.4" r="42" fill="#b3b3b3" stroke="#000" stroke-width="2.2"/>
<text x="457.0" y="1929.4" font-size="50" font-weight="bold" text-anchor="middle" fill="#000">6</text>
<line x1="381.2" y1="1771.0" x2="382.5" y2="1787.2" stroke="#000" stroke-width="2.4"/>
<polygon points="380.2,1759.0 375.9,1774.4 386.9,1773.5" fill="#000"/>
<polygon points="383.5,1799.2 376.8,1784.7 387.8,1783.8" fill="#000"/>
<line x1="537.4" y1="1880.5" x2="537.4" y2="1898.0" stroke="#000" stroke-width="2.4"/>
<polygon points="537.4,1868.5 531.9,1883.5 542.9,1883.5" fill="#000"/>
<polygon points="537.4,1910.0 531.9,1895.0 542.9,1895.0" fill="#000"/>
<polygon points="764.6,1448.5 768,1446.5 957,1554.5 947.5,1601 947.5,1607 881.8,1660 756,1585" fill="#fff"/>
<polyline points="764.6,1448.5 768,1446.5 957,1554.5 947.5,1601" fill="none" stroke="#000" stroke-width="2.5" stroke-linejoin="round"/>
<polyline points="764.6,1448.5 756,1585 881.8,1660" fill="none" stroke="#000" stroke-width="2.5" stroke-linejoin="round"/>
<line x1="769" y1="1452" x2="953" y2="1557" stroke="#000" stroke-width="1.2"/>
<circle cx="839.1" cy="1565.7" r="42" fill="#b3b3b3" stroke="#000" stroke-width="2.2"/>
<text x="839.1" y="1583.7" font-size="50" font-weight="bold" text-anchor="middle" fill="#000">6</text>
<line x1="795.0" y1="1430.0" x2="795.0" y2="1446.7" stroke="#000" stroke-width="2.4"/>
<polygon points="795.0,1418.0 789.5,1433.0 800.5,1433.0" fill="#000"/>
<polygon points="795.0,1458.7 789.5,1443.7 800.5,1443.7" fill="#000"/>
<line x1="944.8" y1="1514.7" x2="944.0" y2="1531.3" stroke="#000" stroke-width="2.4"/>
<polygon points="945.4,1502.7 939.2,1517.4 950.2,1518.0" fill="#000"/>
<polygon points="943.4,1543.3 938.6,1528.0 949.6,1528.6" fill="#000"/>
<g transform="translate(143,2052) rotate(-37.14668669802178)"><line x1="0" y1="-4" x2="41.400483088968905" y2="-4" stroke="#000" stroke-width="2.2"/><line x1="0" y1="4" x2="41.400483088968905" y2="4" stroke="#000" stroke-width="2.2"/><rect x="25.400483088968905" y="-13" width="20" height="26" rx="4" fill="#111"/><rect x="44.400483088968905" y="-9" width="6" height="18" rx="2" fill="#fff" stroke="#000" stroke-width="2"/><rect x="-5" y="-11" width="9" height="22" rx="3" fill="#111"/><rect x="-1" y="-6" width="3" height="10" fill="#fff"/></g>
<g transform="translate(190,2145) rotate(-39.98688624496419)"><line x1="0" y1="-4" x2="40.45985664828782" y2="-4" stroke="#000" stroke-width="2.2"/><line x1="0" y1="4" x2="40.45985664828782" y2="4" stroke="#000" stroke-width="2.2"/><rect x="24.45985664828782" y="-13" width="20" height="26" rx="4" fill="#111"/><rect x="43.45985664828782" y="-9" width="6" height="18" rx="2" fill="#fff" stroke="#000" stroke-width="2"/><rect x="-5" y="-11" width="9" height="22" rx="3" fill="#111"/><rect x="-1" y="-6" width="3" height="10" fill="#fff"/></g>
<g transform="translate(316,2213) rotate(-50.96448710125312)"><line x1="0" y1="-4" x2="47.634021455258214" y2="-4" stroke="#000" stroke-width="2.2"/><line x1="0" y1="4" x2="47.634021455258214" y2="4" stroke="#000" stroke-width="2.2"/><rect x="31.634021455258214" y="-13" width="20" height="26" rx="4" fill="#111"/><rect x="50.634021455258214" y="-9" width="6" height="18" rx="2" fill="#fff" stroke="#000" stroke-width="2"/><rect x="-5" y="-11" width="9" height="22" rx="3" fill="#111"/><rect x="-1" y="-6" width="3" height="10" fill="#fff"/></g>
<g transform="translate(350,2292) rotate(-49.08561677997488)"><line x1="0" y1="-4" x2="39.698866482558415" y2="-4" stroke="#000" stroke-width="2.2"/><line x1="0" y1="4" x2="39.698866482558415" y2="4" stroke="#000" stroke-width="2.2"/><rect x="23.698866482558415" y="-13" width="20" height="26" rx="4" fill="#111"/><rect x="42.698866482558415" y="-9" width="6" height="18" rx="2" fill="#fff" stroke="#000" stroke-width="2"/><rect x="-5" y="-11" width="9" height="22" rx="3" fill="#111"/><rect x="-1" y="-6" width="3" height="10" fill="#fff"/></g>
<line x1="184.9" y1="1999.8" x2="203.5" y2="1984.2" stroke="#000" stroke-width="2.2"/>
<polygon points="178.8,2005.0 189.3,2002.0 183.5,1995.1" fill="#000"/>
<polygon points="209.6,1979.0 204.9,1988.9 199.1,1982.0" fill="#000"/>
<line x1="200.8" y1="2003.4" x2="218.4" y2="1988.1" stroke="#000" stroke-width="2.2"/>
<polygon points="194.8,2008.7 205.3,2005.5 199.4,1998.7" fill="#000"/>
<polygon points="224.4,1982.8 219.8,1992.8 213.9,1986.0" fill="#000"/>
<line x1="204.5" y1="2019.4" x2="222.0" y2="2004.1" stroke="#000" stroke-width="2.2"/>
<polygon points="198.5,2024.7 209.0,2021.5 203.0,2014.7" fill="#000"/>
<polygon points="228.0,1998.8 223.5,2008.8 217.5,2002.0" fill="#000"/>
<line x1="227.9" y1="2097.0" x2="245.5" y2="2081.7" stroke="#000" stroke-width="2.2"/>
<polygon points="221.9,2102.3 232.4,2099.1 226.5,2092.3" fill="#000"/>
<polygon points="251.5,2076.4 246.9,2086.4 241.0,2079.6" fill="#000"/>
<line x1="242.8" y1="2099.6" x2="261.4" y2="2084.0" stroke="#000" stroke-width="2.2"/>
<polygon points="236.7,2104.7 247.3,2101.7 241.5,2094.8" fill="#000"/>
<polygon points="267.5,2078.9 262.7,2088.8 256.9,2081.9" fill="#000"/>
<line x1="246.5" y1="2115.6" x2="265.1" y2="2100.0" stroke="#000" stroke-width="2.2"/>
<polygon points="240.4,2120.7 251.0,2117.7 245.2,2110.8" fill="#000"/>
<polygon points="271.2,2094.9 266.4,2104.8 260.6,2097.9" fill="#000"/>
<line x1="353.6" y1="2152.6" x2="372.2" y2="2136.9" stroke="#000" stroke-width="2.2"/>
<polygon points="347.5,2157.7 358.0,2154.7 352.3,2147.8" fill="#000"/>
<polygon points="378.3,2131.8 373.5,2141.7 367.8,2134.8" fill="#000"/>
<line x1="369.6" y1="2155.0" x2="388.2" y2="2139.4" stroke="#000" stroke-width="2.2"/>
<polygon points="363.5,2160.1 374.1,2157.1 368.3,2150.2" fill="#000"/>
<polygon points="394.3,2134.3 389.5,2144.2 383.7,2137.3" fill="#000"/>
<line x1="373.3" y1="2172.3" x2="391.9" y2="2156.6" stroke="#000" stroke-width="2.2"/>
<polygon points="367.2,2177.4 377.7,2174.4 372.0,2167.5" fill="#000"/>
<polygon points="398.0,2151.5 393.2,2161.4 387.5,2154.5" fill="#000"/>
<line x1="385.3" y1="2235.7" x2="403.4" y2="2217.6" stroke="#000" stroke-width="2.2"/>
<polygon points="379.6,2241.4 389.9,2237.5 383.5,2231.1" fill="#000"/>
<polygon points="409.1,2211.9 405.2,2222.2 398.8,2215.8" fill="#000"/>
<line x1="401.2" y1="2237.0" x2="419.5" y2="2218.8" stroke="#000" stroke-width="2.2"/>
<polygon points="395.6,2242.7 405.8,2238.8 399.5,2232.4" fill="#000"/>
<polygon points="425.1,2213.1 421.2,2223.4 414.9,2217.0" fill="#000"/>
<line x1="406.1" y1="2253.0" x2="424.4" y2="2234.8" stroke="#000" stroke-width="2.2"/>
<polygon points="400.5,2258.7 410.7,2254.8 404.4,2248.4" fill="#000"/>
<polygon points="430.0,2229.1 426.1,2239.4 419.8,2233.0" fill="#000"/>
<circle cx="171.4" cy="1969.3" r="29.5" fill="#fff" stroke="#000" stroke-width="1.8"/>
<text x="171.4" y="1987.3" font-size="50" font-weight="bold" text-anchor="middle" fill="#000">h</text>
<circle cx="149.3" cy="2092.4" r="29.5" fill="#fff" stroke="#000" stroke-width="1.8"/>
<text x="149.3" y="2110.4" font-size="50" font-weight="bold" text-anchor="middle" fill="#000">n</text>
<circle cx="218.2" cy="2064" r="29.5" fill="#fff" stroke="#000" stroke-width="1.8"/>
<text x="218.2" y="2082.0" font-size="50" font-weight="bold" text-anchor="middle" fill="#000">h</text>
<circle cx="192.4" cy="2184.8" r="29.5" fill="#fff" stroke="#000" stroke-width="1.8"/>
<text x="192.4" y="2202.8" font-size="50" font-weight="bold" text-anchor="middle" fill="#000">n</text>
<circle cx="342.6" cy="2119.5" r="29.5" fill="#fff" stroke="#000" stroke-width="1.8"/>
<text x="342.6" y="2137.5" font-size="50" font-weight="bold" text-anchor="middle" fill="#000">h</text>
<circle cx="276.1" cy="2208.2" r="29.5" fill="#fff" stroke="#000" stroke-width="1.8"/>
<text x="276.1" y="2226.2" font-size="50" font-weight="bold" text-anchor="middle" fill="#000">n</text>
<circle cx="435" cy="2266" r="29.5" fill="#fff" stroke="#000" stroke-width="1.8"/>
<text x="435.0" y="2284.0" font-size="50" font-weight="bold" text-anchor="middle" fill="#000">h</text>
<circle cx="311.8" cy="2292" r="29.5" fill="#fff" stroke="#000" stroke-width="1.8"/>
<text x="311.8" y="2310.0" font-size="50" font-weight="bold" text-anchor="middle" fill="#000">n</text>
<text x="959" y="1398" font-size="79.0" font-weight="bold" textLength="84.0" lengthAdjust="spacingAndGlyphs">90</text>
<ellipse cx="1052.1" cy="1348.9" rx="8.4" ry="9.2" fill="none" stroke="#000" stroke-width="5.6"/>
<path d="M991.3,1326.0 C979.0,1313.0 957.0,1316.0 947.0,1338.0 C939.0,1356.0 937.0,1384.0 944.0,1407.0" fill="none" stroke="#000" stroke-width="3.9"/>
<polygon points="936.6,1415.3 952.1,1397.2 972.3,1430.3" fill="#000"/>
<text x="1167" y="1365" font-size="68" text-anchor="start" font-weight="bold" fill="#000" >V1-R</text>
<line x1="1317" y1="1403" x2="1317" y2="2242" stroke="#000" stroke-width="3"/>
<line x1="1323.7" y1="1409.6" x2="1323.7" y2="2236" stroke="#000" stroke-width="2.5"/>
<line x1="1548.7" y1="1403" x2="1548.7" y2="2242" stroke="#000" stroke-width="3"/>
<line x1="1541.7" y1="1409.6" x2="1541.7" y2="2236" stroke="#000" stroke-width="2.5"/>
<line x1="1317" y1="1403" x2="1548.7" y2="1403" stroke="#000" stroke-width="3"/>
<line x1="1323.7" y1="1409.6" x2="1541.7" y2="1409.6" stroke="#000" stroke-width="2.5"/>
<line x1="1323.7" y1="1409.6" x2="1339" y2="1439" stroke="#000" stroke-width="2.5"/>
<line x1="1339" y1="1439" x2="1541.7" y2="1439" stroke="#000" stroke-width="2.5"/>
<line x1="1339" y1="1439" x2="1339" y2="1556" stroke="#000" stroke-width="2.5"/>
<line x1="1339" y1="1581" x2="1339" y2="1708.3" stroke="#000" stroke-width="2.5"/>
<line x1="1339" y1="1723" x2="1339" y2="1821.6" stroke="#000" stroke-width="2.5"/>
<line x1="1339" y1="1825.3" x2="1339" y2="1936.2" stroke="#000" stroke-width="2.5"/>
<line x1="1339" y1="1948.5" x2="1339" y2="2071.4" stroke="#000" stroke-width="2.5"/>
<line x1="1339" y1="2094.7" x2="1339" y2="2207.5" stroke="#000" stroke-width="2.5"/>
<line x1="1323.7" y1="1556" x2="1541.7" y2="1556" stroke="#000" stroke-width="2.5"/>
<line x1="1323.7" y1="1563" x2="1541.7" y2="1563" stroke="#000" stroke-width="2.5"/>
<line x1="1323.7" y1="1563" x2="1339" y2="1581" stroke="#000" stroke-width="2.5"/>
<line x1="1339" y1="1581" x2="1541.7" y2="1581" stroke="#000" stroke-width="2.5"/>
<line x1="1323.7" y1="1708.3" x2="1541.7" y2="1708.3" stroke="#000" stroke-width="2.5"/>
<line x1="1323.7" y1="1714.5" x2="1541.7" y2="1714.5" stroke="#000" stroke-width="2.5"/>
<line x1="1323.7" y1="1714.5" x2="1339" y2="1723" stroke="#000" stroke-width="2.5"/>
<line x1="1339" y1="1723" x2="1541.7" y2="1723" stroke="#000" stroke-width="2.5"/>
<line x1="1339" y1="1821.6" x2="1541.7" y2="1821.6" stroke="#000" stroke-width="2.5"/>
<line x1="1339" y1="1825.3" x2="1541.7" y2="1825.3" stroke="#000" stroke-width="2.5"/>
<line x1="1339" y1="1936.2" x2="1541.7" y2="1936.2" stroke="#000" stroke-width="2.5"/>
<line x1="1339" y1="1936.2" x2="1323.7" y2="1942.3" stroke="#000" stroke-width="2.5"/>
<line x1="1323.7" y1="1942.3" x2="1541.7" y2="1942.3" stroke="#000" stroke-width="2.5"/>
<line x1="1323.7" y1="1948.5" x2="1541.7" y2="1948.5" stroke="#000" stroke-width="2.5"/>
<line x1="1339" y1="2071.4" x2="1541.7" y2="2071.4" stroke="#000" stroke-width="2.5"/>
<line x1="1339" y1="2071.4" x2="1323.7" y2="2089.2" stroke="#000" stroke-width="2.5"/>
<line x1="1323.7" y1="2089.2" x2="1541.7" y2="2089.2" stroke="#000" stroke-width="2.5"/>
<line x1="1323.7" y1="2094.7" x2="1541.7" y2="2094.7" stroke="#000" stroke-width="2.5"/>
<line x1="1339" y1="2207.5" x2="1541.7" y2="2207.5" stroke="#000" stroke-width="2.5"/>
<line x1="1339" y1="2207.5" x2="1323.7" y2="2235.7" stroke="#000" stroke-width="2.5"/>
<line x1="1323.7" y1="2235.7" x2="1541.7" y2="2235.7" stroke="#000" stroke-width="2.5"/>
<line x1="1317" y1="2242" x2="1548.7" y2="2242" stroke="#000" stroke-width="3"/>
<rect x="1321" y="2242" width="26" height="8" rx="2" fill="#111"/>
<line x1="1329" y1="2250" x2="1329" y2="2270" stroke="#000" stroke-width="2.5"/>
<line x1="1339" y1="2250" x2="1339" y2="2270" stroke="#000" stroke-width="2.5"/>
<rect x="1323" y="2268" width="22" height="10" rx="4" fill="#111"/>
<rect x="1519" y="2242" width="26" height="8" rx="2" fill="#111"/>
<line x1="1527" y1="2250" x2="1527" y2="2270" stroke="#000" stroke-width="2.5"/>
<line x1="1537" y1="2250" x2="1537" y2="2270" stroke="#000" stroke-width="2.5"/>
<rect x="1521" y="2268" width="22" height="10" rx="4" fill="#111"/>
<polyline points="1554,1402.7 1688,1364 1688,2278.6 1554,2243 1554,1402.7" fill="none" stroke="#000" stroke-width="3" stroke-linejoin="round"/>
<line x1="1681.7" y1="1366" x2="1681.7" y2="2276.6" stroke="#000" stroke-width="2"/>
<line x1="1554" y1="1946" x2="1688" y2="1956" stroke="#000" stroke-width="2.5"/>
<circle cx="1610.4" cy="1523" r="42" fill="#b3b3b3" stroke="#000" stroke-width="2.2"/>
<path d="M1597.5,1505.2 L1606.0,1505.2 L1606.0,1541.0 L1597.5,1541.0 L1597.5,1516.0 C1594.5,1518.5 1591.0,1520.5 1588.0,1521.5 L1588.0,1514.5 C1592.5,1512.5 1596.5,1509.5 1597.5,1505.2 Z" fill="#000"/>
<path d="M1625.3,1505.2 L1633.8,1505.2 L1633.8,1541.0 L1625.3,1541.0 L1625.3,1516.0 C1622.3,1518.5 1618.8,1520.5 1615.8,1521.5 L1615.8,1514.5 C1620.3,1512.5 1624.3,1509.5 1625.3,1505.2 Z" fill="#000"/>
<circle cx="1614.7" cy="2184.4" r="42" fill="#b3b3b3" stroke="#000" stroke-width="2.2"/>
<path d="M1601.8,2166.6 L1610.3,2166.6 L1610.3,2202.4 L1601.8,2202.4 L1601.8,2177.4 C1598.8,2179.9 1595.3,2181.9 1592.3,2182.9 L1592.3,2175.9 C1596.8,2173.9 1600.8,2170.9 1601.8,2166.6 Z" fill="#000"/>
<text x="1628.6" y="2202.4" font-size="50" font-weight="bold" text-anchor="middle" fill="#000">0</text>
<path d="M1703,1849 C1705,1868.1 1715,1875.8 1713,1883.5 C1711,1898.9 1705,1902.75 1703,1918" fill="none" stroke="#000" stroke-width="3" stroke-linejoin="round" />
<path d="M1703,1849 C1707,1868.1 1707,1883.5 1707,1883.5 C1707,1895.05 1705,1898.9 1703,1918" fill="none" stroke="#000" stroke-width="2.5" stroke-linejoin="round" />
<ellipse cx="1703" cy="1852" rx="4" ry="8" fill="#000"/><ellipse cx="1703" cy="1915" rx="4" ry="8" fill="#000"/>
<path d="M1703,1991 C1705,2010.1 1715,2017.8 1713,2025.5 C1711,2040.9 1705,2044.75 1703,2060" fill="none" stroke="#000" stroke-width="3" stroke-linejoin="round" />
<path d="M1703,1991 C1707,2010.1 1707,2025.5 1707,2025.5 C1707,2037.05 1705,2040.9 1703,2060" fill="none" stroke="#000" stroke-width="2.5" stroke-linejoin="round" />
<ellipse cx="1703" cy="1994" rx="4" ry="8" fill="#000"/><ellipse cx="1703" cy="2057" rx="4" ry="8" fill="#000"/>
<line x1="1526.0" y1="1451.0" x2="1546.0" y2="1451.0" stroke="#000" stroke-width="2.4"/>
<polygon points="1514.0,1451.0 1529.0,1456.5 1529.0,1445.5" fill="#000"/>
<polygon points="1558.0,1451.0 1543.0,1456.5 1543.0,1445.5" fill="#000"/>
<line x1="1528.0" y1="1610.0" x2="1548.0" y2="1610.0" stroke="#000" stroke-width="2.4"/>
<polygon points="1516.0,1610.0 1531.0,1615.5 1531.0,1604.5" fill="#000"/>
<polygon points="1560.0,1610.0 1545.0,1615.5 1545.0,1604.5" fill="#000"/>
<line x1="1528.0" y1="1764.0" x2="1547.0" y2="1764.0" stroke="#000" stroke-width="2.4"/>
<polygon points="1516.0,1764.0 1531.0,1769.5 1531.0,1758.5" fill="#000"/>
<polygon points="1559.0,1764.0 1544.0,1769.5 1544.0,1758.5" fill="#000"/>
<line x1="1531.0" y1="1914.0" x2="1548.0" y2="1914.0" stroke="#000" stroke-width="2.4"/>
<polygon points="1519.0,1914.0 1534.0,1919.5 1534.0,1908.5" fill="#000"/>
<polygon points="1560.0,1914.0 1545.0,1919.5 1545.0,1908.5" fill="#000"/>
<line x1="1531.0" y1="1979.0" x2="1548.0" y2="1979.0" stroke="#000" stroke-width="2.4"/>
<polygon points="1519.0,1979.0 1534.0,1984.5 1534.0,1973.5" fill="#000"/>
<polygon points="1560.0,1979.0 1545.0,1984.5 1545.0,1973.5" fill="#000"/>
<line x1="1532.5" y1="2196.6" x2="1549.3" y2="2196.6" stroke="#000" stroke-width="2.4"/>
<polygon points="1520.5,2196.6 1535.5,2202.1 1535.5,2191.1" fill="#000"/>
<polygon points="1561.3,2196.6 1546.3,2202.1 1546.3,2191.1" fill="#000"/>
<line x1="1633.0" y1="1847.5" x2="1650.0" y2="1847.5" stroke="#000" stroke-width="2.4"/>
<polygon points="1621.0,1847.5 1636.0,1853.0 1636.0,1842.0" fill="#000"/>
<polygon points="1662.0,1847.5 1647.0,1853.0 1647.0,1842.0" fill="#000"/>
<line x1="1633.0" y1="1916.5" x2="1650.0" y2="1916.5" stroke="#000" stroke-width="2.4"/>
<polygon points="1621.0,1916.5 1636.0,1922.0 1636.0,1911.0" fill="#000"/>
<polygon points="1662.0,1916.5 1647.0,1922.0 1647.0,1911.0" fill="#000"/>
<line x1="1633.0" y1="1990.8" x2="1650.0" y2="1990.8" stroke="#000" stroke-width="2.4"/>
<polygon points="1621.0,1990.8 1636.0,1996.3 1636.0,1985.3" fill="#000"/>
<polygon points="1662.0,1990.8 1647.0,1996.3 1647.0,1985.3" fill="#000"/>
<line x1="1633.0" y1="2059.3" x2="1650.0" y2="2059.3" stroke="#000" stroke-width="2.4"/>
<polygon points="1621.0,2059.3 1636.0,2064.8 1636.0,2053.8" fill="#000"/>
<polygon points="1662.0,2059.3 1647.0,2064.8 1647.0,2053.8" fill="#000"/>
<line x1="1307.1" y1="2285.8" x2="1318.4" y2="2274.5" stroke="#000" stroke-width="2.4"/>
<polygon points="1298.6,2294.3 1313.1,2287.6 1305.3,2279.8" fill="#000"/>
<polygon points="1326.9,2266.0 1320.2,2280.5 1312.4,2272.7" fill="#000"/>
<line x1="1557.4" y1="2277.5" x2="1568.4" y2="2288.1" stroke="#000" stroke-width="2.4"/>
<polygon points="1548.8,2269.2 1555.8,2283.6 1563.4,2275.7" fill="#000"/>
<polygon points="1577.0,2296.4 1562.4,2289.9 1570.0,2282.0" fill="#000"/>
<circle cx="1481.7" cy="1446.5" r="29.3" fill="#fff" stroke="#000" stroke-width="1.8"/>
<text x="1481.7" y="1464.5" font-size="50" font-weight="bold" text-anchor="middle" fill="#000">e</text>
<circle cx="1533.5" cy="1488.4" r="29.3" fill="#fff" stroke="#000" stroke-width="1.8"/>
<text x="1533.5" y="1506.4" font-size="50" font-weight="bold" text-anchor="middle" fill="#000">g</text>
<circle cx="1483" cy="1607.7" r="29.3" fill="#fff" stroke="#000" stroke-width="1.8"/>
<text x="1483.0" y="1625.7" font-size="50" font-weight="bold" text-anchor="middle" fill="#000">e</text>
<circle cx="1534.5" cy="1645" r="29.3" fill="#fff" stroke="#000" stroke-width="1.8"/>
<text x="1534.5" y="1663.0" font-size="50" font-weight="bold" text-anchor="middle" fill="#000">g</text>
<circle cx="1481" cy="1761.3" r="29.3" fill="#fff" stroke="#000" stroke-width="1.8"/>
<text x="1481.0" y="1779.3" font-size="50" font-weight="bold" text-anchor="middle" fill="#000">e</text>
<circle cx="1537" cy="1797.7" r="29.3" fill="#fff" stroke="#000" stroke-width="1.8"/>
<text x="1537.0" y="1815.7" font-size="50" font-weight="bold" text-anchor="middle" fill="#000">g</text>
<circle cx="1540.1" cy="1877" r="29.3" fill="#fff" stroke="#000" stroke-width="1.8"/>
<text x="1540.1" y="1895.0" font-size="50" font-weight="bold" text-anchor="middle" fill="#000">g</text>
<circle cx="1488.4" cy="1909" r="29.3" fill="#fff" stroke="#000" stroke-width="1.8"/>
<text x="1488.4" y="1927.0" font-size="50" font-weight="bold" text-anchor="middle" fill="#000">e</text>
<circle cx="1486.5" cy="1985" r="29.3" fill="#fff" stroke="#000" stroke-width="1.8"/>
<text x="1486.5" y="2003.0" font-size="50" font-weight="bold" text-anchor="middle" fill="#000">e</text>
<circle cx="1538.4" cy="2018.7" r="29.3" fill="#fff" stroke="#000" stroke-width="1.8"/>
<text x="1538.4" y="2036.7" font-size="50" font-weight="bold" text-anchor="middle" fill="#000">g</text>
<circle cx="1539.4" cy="2160.4" r="29.3" fill="#fff" stroke="#000" stroke-width="1.8"/>
<text x="1539.4" y="2178.4" font-size="50" font-weight="bold" text-anchor="middle" fill="#000">g</text>
<circle cx="1487" cy="2188.6" r="29.3" fill="#fff" stroke="#000" stroke-width="1.8"/>
<text x="1487.0" y="2206.6" font-size="50" font-weight="bold" text-anchor="middle" fill="#000">e</text>
<circle cx="1620.2" cy="1882" r="29.3" fill="#fff" stroke="#000" stroke-width="1.8"/>
<text x="1620.2" y="1900.0" font-size="50" font-weight="bold" text-anchor="middle" fill="#000">p</text>
<circle cx="1617.2" cy="2026" r="29.3" fill="#fff" stroke="#000" stroke-width="1.8"/>
<text x="1617.2" y="2044.0" font-size="50" font-weight="bold" text-anchor="middle" fill="#000">p</text>
<circle cx="1742.4" cy="1886.7" r="29.3" fill="#fff" stroke="#000" stroke-width="1.8"/>
<text x="1742.4" y="1904.7" font-size="50" font-weight="bold" text-anchor="middle" fill="#000">o</text>
<circle cx="1740.4" cy="2031" r="29.3" fill="#fff" stroke="#000" stroke-width="1.8"/>
<text x="1740.4" y="2049.0" font-size="50" font-weight="bold" text-anchor="middle" fill="#000">o</text>
<circle cx="1274.5" cy="2318.4" r="29.3" fill="#fff" stroke="#000" stroke-width="1.8"/>
<text x="1274.5" y="2336.4" font-size="50" font-weight="bold" text-anchor="middle" fill="#000">c</text>
<circle cx="1598.4" cy="2320.5" r="29.3" fill="#fff" stroke="#000" stroke-width="1.8"/>
<text x="1598.4" y="2338.5" font-size="50" font-weight="bold" text-anchor="middle" fill="#000">c</text>
<text x="1913" y="1362" font-size="68" text-anchor="start" font-weight="bold" fill="#000" >V1-L</text>
<line x1="2489.5" y1="1403" x2="2489.5" y2="2242" stroke="#000" stroke-width="3"/>
<line x1="2482.8" y1="1409.6" x2="2482.8" y2="2236" stroke="#000" stroke-width="2.5"/>
<line x1="2257.8" y1="1403" x2="2257.8" y2="2242" stroke="#000" stroke-width="3"/>
<line x1="2264.8" y1="1409.6" x2="2264.8" y2="2236" stroke="#000" stroke-width="2.5"/>
<line x1="2489.5" y1="1403" x2="2257.8" y2="1403" stroke="#000" stroke-width="3"/>
<line x1="2482.8" y1="1409.6" x2="2264.8" y2="1409.6" stroke="#000" stroke-width="2.5"/>
<line x1="2482.8" y1="1409.6" x2="2467.5" y2="1439" stroke="#000" stroke-width="2.5"/>
<line x1="2467.5" y1="1439" x2="2264.8" y2="1439" stroke="#000" stroke-width="2.5"/>
<line x1="2467.5" y1="1439" x2="2467.5" y2="1556" stroke="#000" stroke-width="2.5"/>
<line x1="2467.5" y1="1581" x2="2467.5" y2="1708.3" stroke="#000" stroke-width="2.5"/>
<line x1="2467.5" y1="1723" x2="2467.5" y2="1821.6" stroke="#000" stroke-width="2.5"/>
<line x1="2467.5" y1="1825.3" x2="2467.5" y2="1936.2" stroke="#000" stroke-width="2.5"/>
<line x1="2467.5" y1="1948.5" x2="2467.5" y2="2071.4" stroke="#000" stroke-width="2.5"/>
<line x1="2467.5" y1="2094.7" x2="2467.5" y2="2207.5" stroke="#000" stroke-width="2.5"/>
<line x1="2482.8" y1="1556" x2="2264.8" y2="1556" stroke="#000" stroke-width="2.5"/>
<line x1="2482.8" y1="1563" x2="2264.8" y2="1563" stroke="#000" stroke-width="2.5"/>
<line x1="2482.8" y1="1563" x2="2467.5" y2="1581" stroke="#000" stroke-width="2.5"/>
<line x1="2467.5" y1="1581" x2="2264.8" y2="1581" stroke="#000" stroke-width="2.5"/>
<line x1="2482.8" y1="1708.3" x2="2264.8" y2="1708.3" stroke="#000" stroke-width="2.5"/>
<line x1="2482.8" y1="1714.5" x2="2264.8" y2="1714.5" stroke="#000" stroke-width="2.5"/>
<line x1="2482.8" y1="1714.5" x2="2467.5" y2="1723" stroke="#000" stroke-width="2.5"/>
<line x1="2467.5" y1="1723" x2="2264.8" y2="1723" stroke="#000" stroke-width="2.5"/>
<line x1="2467.5" y1="1821.6" x2="2264.8" y2="1821.6" stroke="#000" stroke-width="2.5"/>
<line x1="2467.5" y1="1825.3" x2="2264.8" y2="1825.3" stroke="#000" stroke-width="2.5"/>
<line x1="2467.5" y1="1936.2" x2="2264.8" y2="1936.2" stroke="#000" stroke-width="2.5"/>
<line x1="2467.5" y1="1936.2" x2="2482.8" y2="1942.3" stroke="#000" stroke-width="2.5"/>
<line x1="2482.8" y1="1942.3" x2="2264.8" y2="1942.3" stroke="#000" stroke-width="2.5"/>
<line x1="2482.8" y1="1948.5" x2="2264.8" y2="1948.5" stroke="#000" stroke-width="2.5"/>
<line x1="2467.5" y1="2071.4" x2="2264.8" y2="2071.4" stroke="#000" stroke-width="2.5"/>
<line x1="2467.5" y1="2071.4" x2="2482.8" y2="2089.2" stroke="#000" stroke-width="2.5"/>
<line x1="2482.8" y1="2089.2" x2="2264.8" y2="2089.2" stroke="#000" stroke-width="2.5"/>
<line x1="2482.8" y1="2094.7" x2="2264.8" y2="2094.7" stroke="#000" stroke-width="2.5"/>
<line x1="2467.5" y1="2207.5" x2="2264.8" y2="2207.5" stroke="#000" stroke-width="2.5"/>
<line x1="2467.5" y1="2207.5" x2="2482.8" y2="2235.7" stroke="#000" stroke-width="2.5"/>
<line x1="2482.8" y1="2235.7" x2="2264.8" y2="2235.7" stroke="#000" stroke-width="2.5"/>
<line x1="2489.5" y1="2242" x2="2257.8" y2="2242" stroke="#000" stroke-width="3"/>
<rect x="2459.5" y="2242" width="26" height="8" rx="2" fill="#111"/>
<line x1="2467.5" y1="2250" x2="2467.5" y2="2270" stroke="#000" stroke-width="2.5"/>
<line x1="2477.5" y1="2250" x2="2477.5" y2="2270" stroke="#000" stroke-width="2.5"/>
<rect x="2461.5" y="2268" width="22" height="10" rx="4" fill="#111"/>
<rect x="2261.5" y="2242" width="26" height="8" rx="2" fill="#111"/>
<line x1="2269.5" y1="2250" x2="2269.5" y2="2270" stroke="#000" stroke-width="2.5"/>
<line x1="2279.5" y1="2250" x2="2279.5" y2="2270" stroke="#000" stroke-width="2.5"/>
<rect x="2263.5" y="2268" width="22" height="10" rx="4" fill="#111"/>
<polyline points="2252.5,1402.7 2118.5,1364 2118.5,2278.6 2252.5,2243 2252.5,1402.7" fill="none" stroke="#000" stroke-width="3" stroke-linejoin="round"/>
<line x1="2124.8" y1="1366" x2="2124.8" y2="2276.6" stroke="#000" stroke-width="2"/>
<line x1="2252.5" y1="1946" x2="2118.5" y2="1956" stroke="#000" stroke-width="2.5"/>
<circle cx="2197.5" cy="1521.7" r="42" fill="#b3b3b3" stroke="#000" stroke-width="2.2"/>
<path d="M2184.6,1503.9 L2193.1,1503.9 L2193.1,1539.7 L2184.6,1539.7 L2184.6,1514.7 C2181.6,1517.2 2178.1,1519.2 2175.1,1520.2 L2175.1,1513.2 C2179.6,1511.2 2183.6,1508.2 2184.6,1503.9 Z" fill="#000"/>
<path d="M2212.4,1503.9 L2220.9,1503.9 L2220.9,1539.7 L2212.4,1539.7 L2212.4,1514.7 C2209.4,1517.2 2205.9,1519.2 2202.9,1520.2 L2202.9,1513.2 C2207.4,1511.2 2211.4,1508.2 2212.4,1503.9 Z" fill="#000"/>
<circle cx="2187.4" cy="2167.7" r="42" fill="#b3b3b3" stroke="#000" stroke-width="2.2"/>
<path d="M2174.5,2149.9 L2183.0,2149.9 L2183.0,2185.7 L2174.5,2185.7 L2174.5,2160.7 C2171.5,2163.2 2168.0,2165.2 2165.0,2166.2 L2165.0,2159.2 C2169.5,2157.2 2173.5,2154.2 2174.5,2149.9 Z" fill="#000"/>
<text x="2201.3" y="2185.7" font-size="50" font-weight="bold" text-anchor="middle" fill="#000">0</text>
<path d="M2103,1849 C2101,1868.1 2091,1875.8 2093,1883.5 C2095,1898.9 2101,1902.75 2103,1918" fill="none" stroke="#000" stroke-width="3" stroke-linejoin="round" />
<path d="M2103,1849 C2099,1868.1 2099,1883.5 2099,1883.5 C2099,1895.05 2101,1898.9 2103,1918" fill="none" stroke="#000" stroke-width="2.5" stroke-linejoin="round" />
<ellipse cx="2103" cy="1852" rx="4" ry="8" fill="#000"/><ellipse cx="2103" cy="1915" rx="4" ry="8" fill="#000"/>
<path d="M2103,1991 C2101,2010.1 2091,2017.8 2093,2025.5 C2095,2040.9 2101,2044.75 2103,2060" fill="none" stroke="#000" stroke-width="3" stroke-linejoin="round" />
<path d="M2103,1991 C2099,2010.1 2099,2025.5 2099,2025.5 C2099,2037.05 2101,2040.9 2103,2060" fill="none" stroke="#000" stroke-width="2.5" stroke-linejoin="round" />
<ellipse cx="2103" cy="1994" rx="4" ry="8" fill="#000"/><ellipse cx="2103" cy="2057" rx="4" ry="8" fill="#000"/>
<line x1="2261.9" y1="1448.4" x2="2280.1" y2="1450.6" stroke="#000" stroke-width="2.4"/>
<polygon points="2250.0,1447.0 2264.2,1454.2 2265.5,1443.3" fill="#000"/>
<polygon points="2292.0,1452.0 2276.5,1455.7 2277.8,1444.8" fill="#000"/>
<line x1="2259.0" y1="1607.0" x2="2278.0" y2="1607.0" stroke="#000" stroke-width="2.4"/>
<polygon points="2247.0,1607.0 2262.0,1612.5 2262.0,1601.5" fill="#000"/>
<polygon points="2290.0,1607.0 2275.0,1612.5 2275.0,1601.5" fill="#000"/>
<line x1="2259.0" y1="1752.0" x2="2278.0" y2="1752.0" stroke="#000" stroke-width="2.4"/>
<polygon points="2247.0,1752.0 2262.0,1757.5 2262.0,1746.5" fill="#000"/>
<polygon points="2290.0,1752.0 2275.0,1757.5 2275.0,1746.5" fill="#000"/>
<line x1="2258.9" y1="1909.1" x2="2278.1" y2="1910.9" stroke="#000" stroke-width="2.4"/>
<polygon points="2247.0,1908.0 2261.4,1914.9 2262.4,1903.9" fill="#000"/>
<polygon points="2290.0,1912.0 2274.6,1916.1 2275.6,1905.1" fill="#000"/>
<line x1="2258.9" y1="1984.3" x2="2278.1" y2="1981.7" stroke="#000" stroke-width="2.4"/>
<polygon points="2247.0,1986.0 2262.6,1989.4 2261.1,1978.5" fill="#000"/>
<polygon points="2290.0,1980.0 2275.9,1987.5 2274.4,1976.6" fill="#000"/>
<line x1="2261.9" y1="2195.1" x2="2280.1" y2="2196.9" stroke="#000" stroke-width="2.4"/>
<polygon points="2250.0,2194.0 2264.4,2200.9 2265.5,2189.9" fill="#000"/>
<polygon points="2292.0,2198.0 2276.5,2202.1 2277.6,2191.1" fill="#000"/>
<line x1="2159.0" y1="1849.0" x2="2176.0" y2="1849.0" stroke="#000" stroke-width="2.4"/>
<polygon points="2147.0,1849.0 2162.0,1854.5 2162.0,1843.5" fill="#000"/>
<polygon points="2188.0,1849.0 2173.0,1854.5 2173.0,1843.5" fill="#000"/>
<line x1="2159.0" y1="1925.0" x2="2176.0" y2="1925.0" stroke="#000" stroke-width="2.4"/>
<polygon points="2147.0,1925.0 2162.0,1930.5 2162.0,1919.5" fill="#000"/>
<polygon points="2188.0,1925.0 2173.0,1930.5 2173.0,1919.5" fill="#000"/>
<line x1="2162.0" y1="1989.0" x2="2179.0" y2="1989.0" stroke="#000" stroke-width="2.4"/>
<polygon points="2150.0,1989.0 2165.0,1994.5 2165.0,1983.5" fill="#000"/>
<polygon points="2191.0,1989.0 2176.0,1994.5 2176.0,1983.5" fill="#000"/>
<line x1="2162.0" y1="2063.0" x2="2179.0" y2="2063.0" stroke="#000" stroke-width="2.4"/>
<polygon points="2150.0,2063.0 2165.0,2068.5 2165.0,2057.5" fill="#000"/>
<polygon points="2191.0,2063.0 2176.0,2068.5 2176.0,2057.5" fill="#000"/>
<line x1="2238.8" y1="2280.8" x2="2249.2" y2="2271.2" stroke="#000" stroke-width="2.4"/>
<polygon points="2230.0,2289.0 2244.7,2282.8 2237.2,2274.8" fill="#000"/>
<polygon points="2258.0,2263.0 2250.8,2277.2 2243.3,2269.2" fill="#000"/>
<line x1="2495.6" y1="2272.3" x2="2506.4" y2="2282.7" stroke="#000" stroke-width="2.4"/>
<polygon points="2487.0,2264.0 2494.0,2278.4 2501.6,2270.5" fill="#000"/>
<polygon points="2515.0,2291.0 2500.4,2284.5 2508.0,2276.6" fill="#000"/>
<circle cx="2324.2" cy="1449.9" r="29.3" fill="#fff" stroke="#000" stroke-width="1.8"/>
<text x="2324.2" y="1467.9" font-size="50" font-weight="bold" text-anchor="middle" fill="#000">e</text>
<circle cx="2270" cy="1487.8" r="29.3" fill="#fff" stroke="#000" stroke-width="1.8"/>
<text x="2270.0" y="1505.8" font-size="50" font-weight="bold" text-anchor="middle" fill="#000">g</text>
<circle cx="2316" cy="1607.7" r="29.3" fill="#fff" stroke="#000" stroke-width="1.8"/>
<text x="2316.0" y="1625.7" font-size="50" font-weight="bold" text-anchor="middle" fill="#000">e</text>
<circle cx="2263.2" cy="1645" r="29.3" fill="#fff" stroke="#000" stroke-width="1.8"/>
<text x="2263.2" y="1663.0" font-size="50" font-weight="bold" text-anchor="middle" fill="#000">g</text>
<circle cx="2318" cy="1752" r="29.3" fill="#fff" stroke="#000" stroke-width="1.8"/>
<text x="2318.0" y="1770.0" font-size="50" font-weight="bold" text-anchor="middle" fill="#000">e</text>
<circle cx="2268.6" cy="1788.5" r="29.3" fill="#fff" stroke="#000" stroke-width="1.8"/>
<text x="2268.6" y="1806.5" font-size="50" font-weight="bold" text-anchor="middle" fill="#000">g</text>
<circle cx="2256.4" cy="1875.2" r="29.3" fill="#fff" stroke="#000" stroke-width="1.8"/>
<text x="2256.4" y="1893.2" font-size="50" font-weight="bold" text-anchor="middle" fill="#000">g</text>
<circle cx="2311.3" cy="1907.7" r="29.3" fill="#fff" stroke="#000" stroke-width="1.8"/>
<text x="2311.3" y="1925.7" font-size="50" font-weight="bold" text-anchor="middle" fill="#000">e</text>
<circle cx="2317.4" cy="1980.2" r="29.3" fill="#fff" stroke="#000" stroke-width="1.8"/>
<text x="2317.4" y="1998.2" font-size="50" font-weight="bold" text-anchor="middle" fill="#000">e</text>
<circle cx="2258.5" cy="2025.5" r="29.3" fill="#fff" stroke="#000" stroke-width="1.8"/>
<text x="2258.5" y="2043.5" font-size="50" font-weight="bold" text-anchor="middle" fill="#000">g</text>
<circle cx="2267.3" cy="2159.6" r="29.3" fill="#fff" stroke="#000" stroke-width="1.8"/>
<text x="2267.3" y="2177.6" font-size="50" font-weight="bold" text-anchor="middle" fill="#000">g</text>
<circle cx="2326.2" cy="2193.5" r="29.3" fill="#fff" stroke="#000" stroke-width="1.8"/>
<text x="2326.2" y="2211.5" font-size="50" font-weight="bold" text-anchor="middle" fill="#000">e</text>
<circle cx="2179.2" cy="1887.4" r="29.3" fill="#fff" stroke="#000" stroke-width="1.8"/>
<text x="2179.2" y="1905.4" font-size="50" font-weight="bold" text-anchor="middle" fill="#000">p</text>
<circle cx="2179.2" cy="2027.6" r="29.3" fill="#fff" stroke="#000" stroke-width="1.8"/>
<text x="2179.2" y="2045.6" font-size="50" font-weight="bold" text-anchor="middle" fill="#000">p</text>
<circle cx="2067.5" cy="1880.6" r="29.3" fill="#fff" stroke="#000" stroke-width="1.8"/>
<text x="2067.5" y="1898.6" font-size="50" font-weight="bold" text-anchor="middle" fill="#000">o</text>
<circle cx="2065.5" cy="2027.6" r="29.3" fill="#fff" stroke="#000" stroke-width="1.8"/>
<text x="2065.5" y="2045.6" font-size="50" font-weight="bold" text-anchor="middle" fill="#000">o</text>
<circle cx="2213.8" cy="2316.7" r="29.3" fill="#fff" stroke="#000" stroke-width="1.8"/>
<text x="2213.8" y="2334.7" font-size="50" font-weight="bold" text-anchor="middle" fill="#000">c</text>
<circle cx="2534.1" cy="2318.8" r="29.3" fill="#fff" stroke="#000" stroke-width="1.8"/>
<text x="2534.1" y="2336.8" font-size="50" font-weight="bold" text-anchor="middle" fill="#000">c</text>
<text x="2695" y="1366" font-size="68" text-anchor="start" font-weight="bold" fill="#000" >V2-R</text>
<line x1="2893.6" y1="1391" x2="2893.6" y2="2254.3" stroke="#000" stroke-width="3"/>
<line x1="2900.4" y1="1397.7" x2="2900.4" y2="2248.3" stroke="#000" stroke-width="2.5"/>
<line x1="3130.6" y1="1391" x2="3130.6" y2="2254.3" stroke="#000" stroke-width="3"/>
<line x1="3123.9" y1="1397.7" x2="3123.9" y2="2248.3" stroke="#000" stroke-width="2.5"/>
<line x1="2893.6" y1="1391" x2="3130.6" y2="1391" stroke="#000" stroke-width="3"/>
<line x1="2900.4" y1="1397.7" x2="3123.9" y2="1397.7" stroke="#000" stroke-width="2.5"/>
<line x1="2900.4" y1="1397.7" x2="2915.3" y2="1431.6" stroke="#000" stroke-width="2.5"/>
<line x1="2915.3" y1="1431.6" x2="3123.9" y2="1431.6" stroke="#000" stroke-width="2.5"/>
<line x1="2915.3" y1="1431.6" x2="2915.3" y2="1548.7" stroke="#000" stroke-width="2.5"/>
<line x1="2915.3" y1="1575.8" x2="2915.3" y2="1705.8" stroke="#000" stroke-width="2.5"/>
<line x1="2915.3" y1="1722.8" x2="2915.3" y2="1823" stroke="#000" stroke-width="2.5"/>
<line x1="2915.3" y1="1827.7" x2="2915.3" y2="1938" stroke="#000" stroke-width="2.5"/>
<line x1="2915.3" y1="1948.3" x2="2915.3" y2="2077" stroke="#000" stroke-width="2.5"/>
<line x1="2915.3" y1="2102" x2="2915.3" y2="2217" stroke="#000" stroke-width="2.5"/>
<line x1="2900.4" y1="1548.7" x2="3123.9" y2="1548.7" stroke="#000" stroke-width="2.5"/>
<line x1="2900.4" y1="1553.5" x2="3123.9" y2="1553.5" stroke="#000" stroke-width="2.5"/>
<line x1="2900.4" y1="1553.5" x2="2915.3" y2="1575.8" stroke="#000" stroke-width="2.5"/>
<line x1="2915.3" y1="1575.8" x2="3123.9" y2="1575.8" stroke="#000" stroke-width="2.5"/>
<line x1="2900.4" y1="1705.8" x2="3123.9" y2="1705.8" stroke="#000" stroke-width="2.5"/>
<line x1="2900.4" y1="1711.2" x2="3123.9" y2="1711.2" stroke="#000" stroke-width="2.5"/>
<line x1="2900.4" y1="1711.2" x2="2915.3" y2="1722.8" stroke="#000" stroke-width="2.5"/>
<line x1="2915.3" y1="1722.8" x2="3123.9" y2="1722.8" stroke="#000" stroke-width="2.5"/>
<line x1="2915.3" y1="1823" x2="3123.9" y2="1823" stroke="#000" stroke-width="2.5"/>
<line x1="2915.3" y1="1827.7" x2="3123.9" y2="1827.7" stroke="#000" stroke-width="2.5"/>
<line x1="2915.3" y1="1938" x2="3123.9" y2="1938" stroke="#000" stroke-width="2.5"/>
<line x1="2915.3" y1="1938" x2="2900.4" y2="1941.5" stroke="#000" stroke-width="2.5"/>
<line x1="2900.4" y1="1941.5" x2="3123.9" y2="1941.5" stroke="#000" stroke-width="2.5"/>
<line x1="2900.4" y1="1948.3" x2="3123.9" y2="1948.3" stroke="#000" stroke-width="2.5"/>
<line x1="2915.3" y1="2077" x2="3123.9" y2="2077" stroke="#000" stroke-width="2.5"/>
<line x1="2915.3" y1="2077" x2="2900.4" y2="2091.8" stroke="#000" stroke-width="2.5"/>
<line x1="2900.4" y1="2091.8" x2="3123.9" y2="2091.8" stroke="#000" stroke-width="2.5"/>
<line x1="2900.4" y1="2102" x2="3123.9" y2="2102" stroke="#000" stroke-width="2.5"/>
<line x1="2915.3" y1="2217" x2="3123.9" y2="2217" stroke="#000" stroke-width="2.5"/>
<line x1="2915.3" y1="2217" x2="2900.4" y2="2232.6" stroke="#000" stroke-width="2.5"/>
<line x1="2900.4" y1="2232.6" x2="3123.9" y2="2232.6" stroke="#000" stroke-width="2.5"/>
<line x1="2893.6" y1="2254.3" x2="3130.6" y2="2254.3" stroke="#000" stroke-width="3"/>
<rect x="2899" y="2254.3" width="26" height="8" rx="2" fill="#111"/>
<line x1="2907" y1="2262.3" x2="2907" y2="2282.3" stroke="#000" stroke-width="2.5"/>
<line x1="2917" y1="2262.3" x2="2917" y2="2282.3" stroke="#000" stroke-width="2.5"/>
<rect x="2901" y="2280.3" width="22" height="10" rx="4" fill="#111"/>
<rect x="3102" y="2254.3" width="26" height="8" rx="2" fill="#111"/>
<line x1="3110" y1="2262.3" x2="3110" y2="2282.3" stroke="#000" stroke-width="2.5"/>
<line x1="3120" y1="2262.3" x2="3120" y2="2282.3" stroke="#000" stroke-width="2.5"/>
<rect x="3104" y="2280.3" width="22" height="10" rx="4" fill="#111"/>
<polyline points="3140.1,1391 3282.3,1345.6 3282.3,2299.7 3140.1,2254.3 3140.1,1391" fill="none" stroke="#000" stroke-width="3" stroke-linejoin="round"/>
<line x1="3275.6" y1="1347.6" x2="3275.6" y2="2297.7" stroke="#000" stroke-width="2"/>
<line x1="3140.1" y1="1951" x2="3282.3" y2="1961" stroke="#000" stroke-width="2.5"/>
<circle cx="3207.8" cy="1494.6" r="42" fill="#b3b3b3" stroke="#000" stroke-width="2.2"/>
<path d="M3194.9,1476.8 L3203.4,1476.8 L3203.4,1512.6 L3194.9,1512.6 L3194.9,1487.6 C3191.9,1490.1 3188.4,1492.1 3185.4,1493.1 L3185.4,1486.1 C3189.9,1484.1 3193.9,1481.1 3194.9,1476.8 Z" fill="#000"/>
<path d="M3222.7,1476.8 L3231.2,1476.8 L3231.2,1512.6 L3222.7,1512.6 L3222.7,1487.6 C3219.7,1490.1 3216.2,1492.1 3213.2,1493.1 L3213.2,1486.1 C3217.7,1484.1 3221.7,1481.1 3222.7,1476.8 Z" fill="#000"/>
<circle cx="3214.6" cy="2166.3" r="42" fill="#b3b3b3" stroke="#000" stroke-width="2.2"/>
<path d="M3201.7,2148.5 L3210.2,2148.5 L3210.2,2184.3 L3201.7,2184.3 L3201.7,2159.3 C3198.7,2161.8 3195.2,2163.8 3192.2,2164.8 L3192.2,2157.8 C3196.7,2155.8 3200.7,2152.8 3201.7,2148.5 Z" fill="#000"/>
<text x="3228.5" y="2184.3" font-size="50" font-weight="bold" text-anchor="middle" fill="#000">0</text>
<path d="M3294.5,1934.7 C3309.5,1926.7 3323.5,1926.7 3338.5,1934.7 M3294.5,1934.7 C3309.5,1940.7 3323.5,1940.7 3338.5,1934.7" fill="none" stroke="#000" stroke-width="3" stroke-linejoin="round" />
<ellipse cx="3298.5" cy="1934.7" rx="5" ry="3.5" fill="#000"/><ellipse cx="3334.5" cy="1934.7" rx="5" ry="3.5" fill="#000"/>
<path d="M3294.5,1976.7 C3309.5,1968.7 3323.5,1968.7 3338.5,1976.7 M3294.5,1976.7 C3309.5,1982.7 3323.5,1982.7 3338.5,1976.7" fill="none" stroke="#000" stroke-width="3" stroke-linejoin="round" />
<ellipse cx="3298.5" cy="1976.7" rx="5" ry="3.5" fill="#000"/><ellipse cx="3334.5" cy="1976.7" rx="5" ry="3.5" fill="#000"/>
<line x1="3115.3" y1="1446.0" x2="3126.7" y2="1442.0" stroke="#000" stroke-width="2.4"/>
<polygon points="3104.0,1450.0 3120.0,1450.2 3116.3,1439.8" fill="#000"/>
<polygon points="3138.0,1438.0 3125.7,1448.2 3122.0,1437.8" fill="#000"/>
<line x1="3118.0" y1="1600.0" x2="3133.0" y2="1600.0" stroke="#000" stroke-width="2.4"/>
<polygon points="3106.0,1600.0 3121.0,1605.5 3121.0,1594.5" fill="#000"/>
<polygon points="3145.0,1600.0 3130.0,1605.5 3130.0,1594.5" fill="#000"/>
<line x1="3116.0" y1="1772.0" x2="3133.0" y2="1772.0" stroke="#000" stroke-width="2.4"/>
<polygon points="3104.0,1772.0 3119.0,1777.5 3119.0,1766.5" fill="#000"/>
<polygon points="3145.0,1772.0 3130.0,1777.5 3130.0,1766.5" fill="#000"/>
<line x1="3115.7" y1="1904.6" x2="3128.3" y2="1907.4" stroke="#000" stroke-width="2.4"/>
<polygon points="3104.0,1902.0 3117.4,1910.6 3119.8,1899.9" fill="#000"/>
<polygon points="3140.0,1910.0 3124.2,1912.1 3126.6,1901.4" fill="#000"/>
<line x1="3115.2" y1="1979.7" x2="3128.8" y2="1974.3" stroke="#000" stroke-width="2.4"/>
<polygon points="3104.0,1984.0 3120.0,1983.7 3116.0,1973.4" fill="#000"/>
<polygon points="3140.0,1970.0 3128.0,1980.6 3124.0,1970.3" fill="#000"/>
<line x1="3115.4" y1="2202.2" x2="3128.6" y2="2197.8" stroke="#000" stroke-width="2.4"/>
<polygon points="3104.0,2206.0 3120.0,2206.5 3116.5,2196.0" fill="#000"/>
<polygon points="3140.0,2194.0 3127.5,2204.0 3124.0,2193.5" fill="#000"/>
<line x1="3172.0" y1="1928.0" x2="3188.0" y2="1928.0" stroke="#000" stroke-width="2.4"/>
<polygon points="3160.0,1928.0 3175.0,1933.5 3175.0,1922.5" fill="#000"/>
<polygon points="3200.0,1928.0 3185.0,1933.5 3185.0,1922.5" fill="#000"/>
<line x1="3205.0" y1="1938.0" x2="3221.0" y2="1938.0" stroke="#000" stroke-width="2.4"/>
<polygon points="3193.0,1938.0 3208.0,1943.5 3208.0,1932.5" fill="#000"/>
<polygon points="3233.0,1938.0 3218.0,1943.5 3218.0,1932.5" fill="#000"/>
<line x1="3172.0" y1="1977.0" x2="3188.0" y2="1977.0" stroke="#000" stroke-width="2.4"/>
<polygon points="3160.0,1977.0 3175.0,1982.5 3175.0,1971.5" fill="#000"/>
<polygon points="3200.0,1977.0 3185.0,1982.5 3185.0,1971.5" fill="#000"/>
<line x1="3205.0" y1="1987.0" x2="3221.0" y2="1987.0" stroke="#000" stroke-width="2.4"/>
<polygon points="3193.0,1987.0 3208.0,1992.5 3208.0,1981.5" fill="#000"/>
<polygon points="3233.0,1987.0 3218.0,1992.5 3218.0,1981.5" fill="#000"/>
<line x1="2880.8" y1="2296.8" x2="2891.2" y2="2287.2" stroke="#000" stroke-width="2.4"/>
<polygon points="2872.0,2305.0 2886.7,2298.8 2879.2,2290.8" fill="#000"/>
<polygon points="2900.0,2279.0 2892.8,2293.2 2885.3,2285.2" fill="#000"/>
<line x1="3138.8" y1="2287.2" x2="3149.2" y2="2296.8" stroke="#000" stroke-width="2.4"/>
<polygon points="3130.0,2279.0 3137.2,2293.2 3144.7,2285.2" fill="#000"/>
<polygon points="3158.0,2305.0 3143.3,2298.8 3150.8,2290.8" fill="#000"/>
<circle cx="3071" cy="1445.1" r="29.3" fill="#fff" stroke="#000" stroke-width="1.8"/>
<text x="3071.0" y="1463.1" font-size="50" font-weight="bold" text-anchor="middle" fill="#000">e</text>
<circle cx="3123.9" cy="1480.3" r="29.3" fill="#fff" stroke="#000" stroke-width="1.8"/>
<text x="3123.9" y="1498.3" font-size="50" font-weight="bold" text-anchor="middle" fill="#000">g</text>
<circle cx="3075.8" cy="1609.7" r="29.3" fill="#fff" stroke="#000" stroke-width="1.8"/>
<text x="3075.8" y="1627.7" font-size="50" font-weight="bold" text-anchor="middle" fill="#000">e</text>
<circle cx="3134" cy="1638.1" r="29.3" fill="#fff" stroke="#000" stroke-width="1.8"/>
<text x="3134.0" y="1656.1" font-size="50" font-weight="bold" text-anchor="middle" fill="#000">g</text>
<circle cx="3128.6" cy="1733" r="29.3" fill="#fff" stroke="#000" stroke-width="1.8"/>
<text x="3128.6" y="1751.0" font-size="50" font-weight="bold" text-anchor="middle" fill="#000">g</text>
<circle cx="3069" cy="1772.2" r="29.3" fill="#fff" stroke="#000" stroke-width="1.8"/>
<text x="3069.0" y="1790.2" font-size="50" font-weight="bold" text-anchor="middle" fill="#000">e</text>
<circle cx="3123.9" cy="1870.4" r="29.3" fill="#fff" stroke="#000" stroke-width="1.8"/>
<text x="3123.9" y="1888.4" font-size="50" font-weight="bold" text-anchor="middle" fill="#000">g</text>
<circle cx="3069" cy="1903.6" r="29.3" fill="#fff" stroke="#000" stroke-width="1.8"/>
<text x="3069.0" y="1921.6" font-size="50" font-weight="bold" text-anchor="middle" fill="#000">e</text>
<circle cx="3069" cy="1983.5" r="29.3" fill="#fff" stroke="#000" stroke-width="1.8"/>
<text x="3069.0" y="2001.5" font-size="50" font-weight="bold" text-anchor="middle" fill="#000">e</text>
<circle cx="3121.8" cy="2020.7" r="29.3" fill="#fff" stroke="#000" stroke-width="1.8"/>
<text x="3121.8" y="2038.7" font-size="50" font-weight="bold" text-anchor="middle" fill="#000">g</text>
<circle cx="3118.5" cy="2164.3" r="29.3" fill="#fff" stroke="#000" stroke-width="1.8"/>
<text x="3118.5" y="2182.3" font-size="50" font-weight="bold" text-anchor="middle" fill="#000">g</text>
<circle cx="3069" cy="2203.5" r="29.3" fill="#fff" stroke="#000" stroke-width="1.8"/>
<text x="3069.0" y="2221.5" font-size="50" font-weight="bold" text-anchor="middle" fill="#000">e</text>
<circle cx="3197.7" cy="1893.4" r="29.3" fill="#fff" stroke="#000" stroke-width="1.8"/>
<text x="3197.7" y="1911.4" font-size="50" font-weight="bold" text-anchor="middle" fill="#000">p</text>
<circle cx="3187.5" cy="2020.7" r="29.3" fill="#fff" stroke="#000" stroke-width="1.8"/>
<text x="3187.5" y="2038.7" font-size="50" font-weight="bold" text-anchor="middle" fill="#000">p</text>
<circle cx="3337.2" cy="1903.6" r="29.3" fill="#fff" stroke="#000" stroke-width="1.8"/>
<text x="3337.2" y="1921.6" font-size="50" font-weight="bold" text-anchor="middle" fill="#000">o</text>
<circle cx="3325" cy="2013.9" r="29.3" fill="#fff" stroke="#000" stroke-width="1.8"/>
<text x="3325.0" y="2031.9" font-size="50" font-weight="bold" text-anchor="middle" fill="#000">o</text>
<circle cx="2849" cy="2325.4" r="29.3" fill="#fff" stroke="#000" stroke-width="1.8"/>
<text x="2849.0" y="2343.4" font-size="50" font-weight="bold" text-anchor="middle" fill="#000">c</text>
<circle cx="3180.8" cy="2333.5" r="29.3" fill="#fff" stroke="#000" stroke-width="1.8"/>
<text x="3180.8" y="2351.5" font-size="50" font-weight="bold" text-anchor="middle" fill="#000">c</text>
<text x="3477" y="1366" font-size="68" text-anchor="start" font-weight="bold" fill="#000" >V2-L</text>
<line x1="4038.7" y1="1391" x2="4038.7" y2="2254.3" stroke="#000" stroke-width="3"/>
<line x1="4031.9" y1="1397.7" x2="4031.9" y2="2248.3" stroke="#000" stroke-width="2.5"/>
<line x1="3801.7" y1="1391" x2="3801.7" y2="2254.3" stroke="#000" stroke-width="3"/>
<line x1="3808.4" y1="1397.7" x2="3808.4" y2="2248.3" stroke="#000" stroke-width="2.5"/>
<line x1="4038.7" y1="1391" x2="3801.7" y2="1391" stroke="#000" stroke-width="3"/>
<line x1="4031.9" y1="1397.7" x2="3808.4" y2="1397.7" stroke="#000" stroke-width="2.5"/>
<line x1="4031.9" y1="1397.7" x2="4017.0" y2="1431.6" stroke="#000" stroke-width="2.5"/>
<line x1="4017.0" y1="1431.6" x2="3808.4" y2="1431.6" stroke="#000" stroke-width="2.5"/>
<line x1="4017.0" y1="1431.6" x2="4017.0" y2="1548.7" stroke="#000" stroke-width="2.5"/>
<line x1="4017.0" y1="1575.8" x2="4017.0" y2="1705.8" stroke="#000" stroke-width="2.5"/>
<line x1="4017.0" y1="1722.8" x2="4017.0" y2="1823" stroke="#000" stroke-width="2.5"/>
<line x1="4017.0" y1="1827.7" x2="4017.0" y2="1938" stroke="#000" stroke-width="2.5"/>
<line x1="4017.0" y1="1948.3" x2="4017.0" y2="2077" stroke="#000" stroke-width="2.5"/>
<line x1="4017.0" y1="2102" x2="4017.0" y2="2217" stroke="#000" stroke-width="2.5"/>
<line x1="4031.9" y1="1548.7" x2="3808.4" y2="1548.7" stroke="#000" stroke-width="2.5"/>
<line x1="4031.9" y1="1553.5" x2="3808.4" y2="1553.5" stroke="#000" stroke-width="2.5"/>
<line x1="4031.9" y1="1553.5" x2="4017.0" y2="1575.8" stroke="#000" stroke-width="2.5"/>
<line x1="4017.0" y1="1575.8" x2="3808.4" y2="1575.8" stroke="#000" stroke-width="2.5"/>
<line x1="4031.9" y1="1705.8" x2="3808.4" y2="1705.8" stroke="#000" stroke-width="2.5"/>
<line x1="4031.9" y1="1711.2" x2="3808.4" y2="1711.2" stroke="#000" stroke-width="2.5"/>
<line x1="4031.9" y1="1711.2" x2="4017.0" y2="1722.8" stroke="#000" stroke-width="2.5"/>
<line x1="4017.0" y1="1722.8" x2="3808.4" y2="1722.8" stroke="#000" stroke-width="2.5"/>
<line x1="4017.0" y1="1823" x2="3808.4" y2="1823" stroke="#000" stroke-width="2.5"/>
<line x1="4017.0" y1="1827.7" x2="3808.4" y2="1827.7" stroke="#000" stroke-width="2.5"/>
<line x1="4017.0" y1="1938" x2="3808.4" y2="1938" stroke="#000" stroke-width="2.5"/>
<line x1="4017.0" y1="1938" x2="4031.9" y2="1941.5" stroke="#000" stroke-width="2.5"/>
<line x1="4031.9" y1="1941.5" x2="3808.4" y2="1941.5" stroke="#000" stroke-width="2.5"/>
<line x1="4031.9" y1="1948.3" x2="3808.4" y2="1948.3" stroke="#000" stroke-width="2.5"/>
<line x1="4017.0" y1="2077" x2="3808.4" y2="2077" stroke="#000" stroke-width="2.5"/>
<line x1="4017.0" y1="2077" x2="4031.9" y2="2091.8" stroke="#000" stroke-width="2.5"/>
<line x1="4031.9" y1="2091.8" x2="3808.4" y2="2091.8" stroke="#000" stroke-width="2.5"/>
<line x1="4031.9" y1="2102" x2="3808.4" y2="2102" stroke="#000" stroke-width="2.5"/>
<line x1="4017.0" y1="2217" x2="3808.4" y2="2217" stroke="#000" stroke-width="2.5"/>
<line x1="4017.0" y1="2217" x2="4031.9" y2="2232.6" stroke="#000" stroke-width="2.5"/>
<line x1="4031.9" y1="2232.6" x2="3808.4" y2="2232.6" stroke="#000" stroke-width="2.5"/>
<line x1="4038.7" y1="2254.3" x2="3801.7" y2="2254.3" stroke="#000" stroke-width="3"/>
<rect x="4007.3" y="2254.3" width="26" height="8" rx="2" fill="#111"/>
<line x1="4015.3" y1="2262.3" x2="4015.3" y2="2282.3" stroke="#000" stroke-width="2.5"/>
<line x1="4025.3" y1="2262.3" x2="4025.3" y2="2282.3" stroke="#000" stroke-width="2.5"/>
<rect x="4009.3" y="2280.3" width="22" height="10" rx="4" fill="#111"/>
<rect x="3804.3" y="2254.3" width="26" height="8" rx="2" fill="#111"/>
<line x1="3812.3" y1="2262.3" x2="3812.3" y2="2282.3" stroke="#000" stroke-width="2.5"/>
<line x1="3822.3" y1="2262.3" x2="3822.3" y2="2282.3" stroke="#000" stroke-width="2.5"/>
<rect x="3806.3" y="2280.3" width="22" height="10" rx="4" fill="#111"/>
<polyline points="3792.2,1391 3650.0,1345.6 3650.0,2299.7 3792.2,2254.3 3792.2,1391" fill="none" stroke="#000" stroke-width="3" stroke-linejoin="round"/>
<line x1="3656.7" y1="1347.6" x2="3656.7" y2="2297.7" stroke="#000" stroke-width="2"/>
<line x1="3792.2" y1="1951" x2="3650.0" y2="1961" stroke="#000" stroke-width="2.5"/>
<circle cx="3718.4" cy="1492.5" r="42" fill="#b3b3b3" stroke="#000" stroke-width="2.2"/>
<path d="M3705.5,1474.7 L3714.0,1474.7 L3714.0,1510.5 L3705.5,1510.5 L3705.5,1485.5 C3702.5,1488.0 3699.0,1490.0 3696.0,1491.0 L3696.0,1484.0 C3700.5,1482.0 3704.5,1479.0 3705.5,1474.7 Z" fill="#000"/>
<path d="M3733.3,1474.7 L3741.8,1474.7 L3741.8,1510.5 L3733.3,1510.5 L3733.3,1485.5 C3730.3,1488.0 3726.8,1490.0 3723.8,1491.0 L3723.8,1484.0 C3728.3,1482.0 3732.3,1479.0 3733.3,1474.7 Z" fill="#000"/>
<circle cx="3723.8" cy="2169.7" r="42" fill="#b3b3b3" stroke="#000" stroke-width="2.2"/>
<path d="M3710.9,2151.9 L3719.4,2151.9 L3719.4,2187.7 L3710.9,2187.7 L3710.9,2162.7 C3707.9,2165.2 3704.4,2167.2 3701.4,2168.2 L3701.4,2161.2 C3705.9,2159.2 3709.9,2156.2 3710.9,2151.9 Z" fill="#000"/>
<text x="3737.7" y="2187.7" font-size="50" font-weight="bold" text-anchor="middle" fill="#000">0</text>
<path d="M3596,1934.7 C3611,1926.7 3625,1926.7 3640,1934.7 M3596,1934.7 C3611,1940.7 3625,1940.7 3640,1934.7" fill="none" stroke="#000" stroke-width="3" stroke-linejoin="round" />
<ellipse cx="3600" cy="1934.7" rx="5" ry="3.5" fill="#000"/><ellipse cx="3636" cy="1934.7" rx="5" ry="3.5" fill="#000"/>
<path d="M3596,1976.7 C3611,1968.7 3625,1968.7 3640,1976.7 M3596,1976.7 C3611,1982.7 3625,1982.7 3640,1976.7" fill="none" stroke="#000" stroke-width="3" stroke-linejoin="round" />
<ellipse cx="3600" cy="1976.7" rx="5" ry="3.5" fill="#000"/><ellipse cx="3636" cy="1976.7" rx="5" ry="3.5" fill="#000"/>
<line x1="3804.9" y1="1441.4" x2="3818.1" y2="1439.6" stroke="#000" stroke-width="2.4"/>
<polygon points="3793.0,1443.0 3808.6,1446.4 3807.1,1435.5" fill="#000"/>
<polygon points="3830.0,1438.0 3815.9,1445.5 3814.4,1434.6" fill="#000"/>
<line x1="3804.8" y1="1618.1" x2="3818.2" y2="1615.9" stroke="#000" stroke-width="2.4"/>
<polygon points="3793.0,1620.0 3808.7,1623.0 3806.9,1612.2" fill="#000"/>
<polygon points="3830.0,1614.0 3816.1,1621.8 3814.3,1611.0" fill="#000"/>
<line x1="3804.9" y1="1771.6" x2="3818.1" y2="1773.4" stroke="#000" stroke-width="2.4"/>
<polygon points="3793.0,1770.0 3807.1,1777.5 3808.6,1766.6" fill="#000"/>
<polygon points="3830.0,1775.0 3814.4,1778.4 3815.9,1767.5" fill="#000"/>
<line x1="3804.9" y1="1904.6" x2="3818.1" y2="1906.4" stroke="#000" stroke-width="2.4"/>
<polygon points="3793.0,1903.0 3807.1,1910.5 3808.6,1899.6" fill="#000"/>
<polygon points="3830.0,1908.0 3814.4,1911.4 3815.9,1900.5" fill="#000"/>
<line x1="3804.8" y1="1980.1" x2="3818.2" y2="1977.9" stroke="#000" stroke-width="2.4"/>
<polygon points="3793.0,1982.0 3808.7,1985.0 3806.9,1974.2" fill="#000"/>
<polygon points="3830.0,1976.0 3816.1,1983.8 3814.3,1973.0" fill="#000"/>
<line x1="3794.8" y1="2199.9" x2="3808.2" y2="2202.1" stroke="#000" stroke-width="2.4"/>
<polygon points="3783.0,2198.0 3796.9,2205.8 3798.7,2195.0" fill="#000"/>
<polygon points="3820.0,2204.0 3804.3,2207.0 3806.1,2196.2" fill="#000"/>
<line x1="3715.0" y1="1935.0" x2="3731.0" y2="1935.0" stroke="#000" stroke-width="2.4"/>
<polygon points="3703.0,1935.0 3718.0,1940.5 3718.0,1929.5" fill="#000"/>
<polygon points="3743.0,1935.0 3728.0,1940.5 3728.0,1929.5" fill="#000"/>
<line x1="3747.0" y1="1925.0" x2="3763.0" y2="1925.0" stroke="#000" stroke-width="2.4"/>
<polygon points="3735.0,1925.0 3750.0,1930.5 3750.0,1919.5" fill="#000"/>
<polygon points="3775.0,1925.0 3760.0,1930.5 3760.0,1919.5" fill="#000"/>
<line x1="3715.0" y1="1983.0" x2="3731.0" y2="1983.0" stroke="#000" stroke-width="2.4"/>
<polygon points="3703.0,1983.0 3718.0,1988.5 3718.0,1977.5" fill="#000"/>
<polygon points="3743.0,1983.0 3728.0,1988.5 3728.0,1977.5" fill="#000"/>
<line x1="3757.0" y1="1976.0" x2="3773.0" y2="1976.0" stroke="#000" stroke-width="2.4"/>
<polygon points="3745.0,1976.0 3760.0,1981.5 3760.0,1970.5" fill="#000"/>
<polygon points="3785.0,1976.0 3770.0,1981.5 3770.0,1970.5" fill="#000"/>
<line x1="3786.5" y1="2292.5" x2="3797.5" y2="2281.5" stroke="#000" stroke-width="2.4"/>
<polygon points="3778.0,2301.0 3792.5,2294.3 3784.7,2286.5" fill="#000"/>
<polygon points="3806.0,2273.0 3799.3,2287.5 3791.5,2279.7" fill="#000"/>
<line x1="4042.8" y1="2281.2" x2="4053.2" y2="2290.8" stroke="#000" stroke-width="2.4"/>
<polygon points="4034.0,2273.0 4041.2,2287.2 4048.7,2279.2" fill="#000"/>
<polygon points="4062.0,2299.0 4047.3,2292.8 4054.8,2284.8" fill="#000"/>
<circle cx="3862.6" cy="1443" r="29.3" fill="#fff" stroke="#000" stroke-width="1.8"/>
<text x="3862.6" y="1461.0" font-size="50" font-weight="bold" text-anchor="middle" fill="#000">e</text>
<circle cx="3810.5" cy="1479" r="29.3" fill="#fff" stroke="#000" stroke-width="1.8"/>
<text x="3810.5" y="1497.0" font-size="50" font-weight="bold" text-anchor="middle" fill="#000">g</text>
<circle cx="3810.5" cy="1577.2" r="29.3" fill="#fff" stroke="#000" stroke-width="1.8"/>
<text x="3810.5" y="1595.2" font-size="50" font-weight="bold" text-anchor="middle" fill="#000">g</text>
<circle cx="3861.2" cy="1615.8" r="29.3" fill="#fff" stroke="#000" stroke-width="1.8"/>
<text x="3861.2" y="1633.8" font-size="50" font-weight="bold" text-anchor="middle" fill="#000">e</text>
<circle cx="3807.1" cy="1736.3" r="29.3" fill="#fff" stroke="#000" stroke-width="1.8"/>
<text x="3807.1" y="1754.3" font-size="50" font-weight="bold" text-anchor="middle" fill="#000">g</text>
<circle cx="3859.2" cy="1771.5" r="29.3" fill="#fff" stroke="#000" stroke-width="1.8"/>
<text x="3859.2" y="1789.5" font-size="50" font-weight="bold" text-anchor="middle" fill="#000">e</text>
<circle cx="3805" cy="1866.3" r="29.3" fill="#fff" stroke="#000" stroke-width="1.8"/>
<text x="3805.0" y="1884.3" font-size="50" font-weight="bold" text-anchor="middle" fill="#000">g</text>
<circle cx="3857.2" cy="1903.6" r="29.3" fill="#fff" stroke="#000" stroke-width="1.8"/>
<text x="3857.2" y="1921.6" font-size="50" font-weight="bold" text-anchor="middle" fill="#000">e</text>
<circle cx="3859.2" cy="1982.1" r="29.3" fill="#fff" stroke="#000" stroke-width="1.8"/>
<text x="3859.2" y="2000.1" font-size="50" font-weight="bold" text-anchor="middle" fill="#000">e</text>
<circle cx="3808.4" cy="2015.3" r="29.3" fill="#fff" stroke="#000" stroke-width="1.8"/>
<text x="3808.4" y="2033.3" font-size="50" font-weight="bold" text-anchor="middle" fill="#000">g</text>
<circle cx="3794.9" cy="2164.3" r="29.3" fill="#fff" stroke="#000" stroke-width="1.8"/>
<text x="3794.9" y="2182.3" font-size="50" font-weight="bold" text-anchor="middle" fill="#000">g</text>
<circle cx="3851.1" cy="2193.4" r="29.3" fill="#fff" stroke="#000" stroke-width="1.8"/>
<text x="3851.1" y="2211.4" font-size="50" font-weight="bold" text-anchor="middle" fill="#000">e</text>
<circle cx="3739.4" cy="1888.7" r="29.3" fill="#fff" stroke="#000" stroke-width="1.8"/>
<text x="3739.4" y="1906.7" font-size="50" font-weight="bold" text-anchor="middle" fill="#000">p</text>
<circle cx="3747.5" cy="2013.9" r="29.3" fill="#fff" stroke="#000" stroke-width="1.8"/>
<text x="3747.5" y="2031.9" font-size="50" font-weight="bold" text-anchor="middle" fill="#000">p</text>
<circle cx="3598.5" cy="1900.8" r="29.3" fill="#fff" stroke="#000" stroke-width="1.8"/>
<text x="3598.5" y="1918.8" font-size="50" font-weight="bold" text-anchor="middle" fill="#000">o</text>
<circle cx="3598.5" cy="2011.9" r="29.3" fill="#fff" stroke="#000" stroke-width="1.8"/>
<text x="3598.5" y="2029.9" font-size="50" font-weight="bold" text-anchor="middle" fill="#000">o</text>
<circle cx="3758.3" cy="2325.4" r="29.3" fill="#fff" stroke="#000" stroke-width="1.8"/>
<text x="3758.3" y="2343.4" font-size="50" font-weight="bold" text-anchor="middle" fill="#000">c</text>
<circle cx="4091.5" cy="2326.8" r="29.3" fill="#fff" stroke="#000" stroke-width="1.8"/>
<text x="4091.5" y="2344.8" font-size="50" font-weight="bold" text-anchor="middle" fill="#000">c</text>
<g transform="translate(1838.0,2557)" fill="none" stroke="#222" stroke-width="2.2" stroke-linejoin="round" stroke-linecap="round"><ellipse cx="152" cy="147" rx="33" ry="13"/><path d="M119,88 L119,147 M185,88 L185,147"/><path d="M121,113 C140,122 165,122 184,113 M121,132 C140,140 165,140 184,132"/><path d="M130,100 L130,128 M175,100 L175,128 M140,108 L165,108 L165,124 L140,124 Z"/><ellipse cx="152" cy="88" rx="33" ry="15" fill="#fff"/><path d="M136,88 L168,88 M152,80 L152,96 M141,84 L163,92"/><g transform="translate(178,230) rotate(-59.74)"><path d="M0,-11 L111.1,-11 A3.8,11 0 0 1 111.1,11 L0,11" fill="#fff"/><ellipse cx="0" cy="0" rx="3.8" ry="11" fill="#fff"/></g><ellipse cx="234" cy="133" rx="16" ry="8" transform="rotate(-30 234 133)" fill="#fff"/><g transform="translate(232,131) rotate(-60.42)"><path d="M0,-8 L42.5,-8 A2.8,8 0 0 1 42.5,8 L0,8" fill="#fff"/><ellipse cx="0" cy="0" rx="2.8" ry="8" fill="#fff"/></g><ellipse cx="253" cy="94" rx="10" ry="7" transform="rotate(-30 253 94)" fill="#fff"/><g transform="translate(180,232) rotate(117.90)"><path d="M0,-9.600000000000001 L57.7,-7.2 M0,9.600000000000001 L57.7,7.2"/><path d="M0.7,-11.75 A4.1,11.75 0 0 0 0.7,11.75 A5.8,11.75 0 0 0 8.9,-11.75"/><path d="M10.5,-11.25 A3.9,11.25 0 0 0 10.5,11.25 A5.5,11.25 0 0 0 18.4,-11.25"/><path d="M20.3,-10.75 A3.8,10.75 0 0 0 20.3,10.75 A5.3,10.75 0 0 0 27.8,-10.75"/><path d="M30.1,-10.25 A3.6,10.25 0 0 0 30.1,10.25 A5.0,10.25 0 0 0 37.2,-10.25"/><path d="M39.9,-9.75 A3.4,9.75 0 0 0 39.9,9.75 A4.8,9.75 0 0 0 46.7,-9.75"/><path d="M49.7,-9.25 A3.2,9.25 0 0 0 49.7,9.25 A4.5,9.25 0 0 0 56.1,-9.25"/></g></g>
<g transform="translate(2177.43,2557)" fill="none" stroke="#222" stroke-width="2.2" stroke-linejoin="round" stroke-linecap="round"><g transform="translate(226,82) rotate(117.08)"><path d="M0,-27 L197.7,-27 A11.3,27 0 0 1 197.7,27 L0,27" fill="#fff"/><ellipse cx="0" cy="0" rx="11.3" ry="27" fill="#fff"/></g><g transform="translate(134,262) rotate(-62.9)"><path d="M12,-18 L200,-18"/></g><g transform="translate(134,262) rotate(-62.9)"><path d="M12,-6 L200,-6"/></g><g transform="translate(134,262) rotate(-62.9)"><path d="M12,6 L200,6"/></g><g transform="translate(134,262) rotate(-62.9)"><path d="M12,18 L200,18"/></g></g>
<g transform="translate(2516.86,2557)" fill="none" stroke="#222" stroke-width="2.2" stroke-linejoin="round" stroke-linecap="round"><path d="M78,151 L82,147 L101.9,145.1 C106,150 108,156 110.8,157 C125,160 150,158 182,151 L186,162 C160,172 140,176 119.7,177.7 C112,176 108,168 104.9,167.4 L85.3,168.8 Z" fill="#fff"/><path d="M104,150 L104,166 M112,163 C140,168 165,164 184,158"/><path d="M124,118.5 L128.6,117.9 L131.5,127.4 C150,124 165,121 180,122.9 L182,134 C165,135 150,138 133,142.2 C130,138 127,130 124,118.5 Z" fill="#fff"/><path d="M164.1,134.8 L221.9,89.5 L251.5,89.5 L198.2,141.6 Z" fill="#fff"/><path d="M198.2,141.6 L251.5,90.3 L255.3,161.4 L207.9,231 Z" fill="#fff"/><path d="M164.1,134.8 L198.2,141.6 L207.9,231 L178.9,213.3 L181.9,177.7 L170,150 Z" fill="#fff"/><path d="M201.1,145.1 L236.7,112 L237.6,118.5 L202,157 Z M203.6,189.6 L253,154 L253.6,165.9 L205,204.4"/><ellipse cx="246.4" cy="141.6" rx="2.5" ry="5"/><ellipse cx="216.8" cy="174.8" rx="2.5" ry="5"/><path d="M181.9,177.7 L186,205 L182,212"/></g>
<g transform="translate(2856.29,2557)" fill="none" stroke="#222" stroke-width="2.2" stroke-linejoin="round" stroke-linecap="round"><g transform="translate(98,122) rotate(27.14)"><path d="M0,-25 L89.9,-25 A7.5,25 0 0 1 89.9,25 L0,25" fill="#fff"/><ellipse cx="0" cy="0" rx="7.5" ry="25" fill="#fff"/></g><ellipse cx="180" cy="164" rx="11" ry="42" transform="rotate(27.5 180 164)" fill="#fff"/><ellipse cx="183" cy="166" rx="7" ry="32" transform="rotate(27.5 183 166)"/><g transform="translate(256,206) rotate(-151.22)"><path d="M0,-30 L81.0,-30 A9.9,30 0 0 1 81.0,30 L0,30" fill="#fff"/><ellipse cx="0" cy="0" rx="9.9" ry="30" fill="#fff"/></g></g>
<g transform="translate(3195.7200000000003,2557)" fill="none" stroke="#222" stroke-width="2.2" stroke-linejoin="round" stroke-linecap="round"><path d="M34,170 L43,166 L81,158.5 L89.6,161.4 L98.5,171.8 L116.7,168.8 L130,201.4 L135.9,220.7 L134.4,229.6 L66.4,251.8 L57.5,242.9 L38,180.7 Z" fill="#fff"/><path d="M38,180.7 L42,186 L60,244"/><path d="M51.4,183.6 L69.3,207.3 L96,198.5 L100,180 L116,176"/><ellipse cx="73.6" cy="165.9" rx="10" ry="5"/><ellipse cx="73.6" cy="167" rx="5" ry="2.5"/><ellipse cx="109.3" cy="214.8" rx="14" ry="7"/><ellipse cx="110" cy="216" rx="7" ry="3"/><path d="M130,201.4 L160,192 L163,178 L155,175 M136,215 L162,205 L164,190"/><path d="M119.7,189.6 L134.4,157 L146.3,136.3 L158.2,133.3 L165.6,145.1 L146.3,183.6 L128,195 Z" fill="#fff"/><path d="M128,185 L148,142 M136,188 L156,146"/><path d="M155.2,127.4 L306.2,112.6 L310.4,117 L312,138 L306.2,139.2 L190,158 L164.1,160 L158,140 Z" fill="#fff"/><path d="M166,140 L310,120"/><path d="M170,160 C175,172 185,178 195,176 L215.9,164.4"/><path d="M215.9,164.4 L253,161.4 L280,158 L315.2,170.3 L312.4,180.7 L276.8,189.6 L220,183.6 Z" fill="#fff"/><path d="M253,161.4 L260,172 L290,176 M218,172 L250,169"/><circle cx="170" cy="157" r="6" fill="#fff"/><circle cx="170" cy="157" r="2.5"/><circle cx="195.2" cy="171.2" r="5" fill="#fff"/><circle cx="195.2" cy="171.2" r="2"/><ellipse cx="210" cy="121" rx="7" ry="4" fill="#fff"/><path d="M203,121 L203,128 C206,131 214,131 217,128 L217,121"/><ellipse cx="279.6" cy="112.6" rx="9" ry="5" fill="#fff"/><path d="M275,112 L284,113 M279,109 L280,116"/><path d="M227.8,120 L261.8,117 L262,123 L228,126 Z"/></g>
<g transform="translate(3535.15,2557)" fill="none" stroke="#222" stroke-width="2.2" stroke-linejoin="round" stroke-linecap="round"><path d="M86,183 L127,175 L188,231 L142,238 Z"/><path d="M127,175 L133,86 L141,82 L280,201 L281,212 L277,215 L188,231"/><path d="M195,130 L188,231"/><ellipse cx="160" cy="157" rx="5.5" ry="27"/></g>
<g transform="translate(3874.58,2557)" fill="none" stroke="#222" stroke-width="2.2" stroke-linejoin="round" stroke-linecap="round"><g transform="translate(202,138) rotate(124.10)"><path d="M2,-34.2 L27.0,-8.8 L27.0,-8.8 M2,34.2 L27.0,8.8 L27.0,8.8"/><path d="M27.0,-8.8 L102.7,-5.0 L115.9,0 L102.7,5.0 L27.0,8.8"/><ellipse cx="33.3" cy="0" rx="3.5" ry="12.6" fill="#fff"/><ellipse cx="45.9" cy="0" rx="3.5" ry="11.7" fill="#fff"/><ellipse cx="58.6" cy="0" rx="3.5" ry="10.7" fill="#fff"/><ellipse cx="71.2" cy="0" rx="3.5" ry="9.7" fill="#fff"/><ellipse cx="83.8" cy="0" rx="3.5" ry="8.7" fill="#fff"/><ellipse cx="96.4" cy="0" rx="3.5" ry="7.7" fill="#fff"/><ellipse cx="0" cy="0" rx="11.5" ry="36" fill="#fff"/><path d="M-3,-19.8 L3,19.8 M3,-19.8 L-3,19.8" stroke-width="4"/></g></g>
<g transform="translate(1838.0,2896)" fill="none" stroke="#222" stroke-width="2.2" stroke-linejoin="round" stroke-linecap="round"><g transform="translate(204,123) rotate(121.37)"><path d="M2,-34.2 L27.0,-8.8 L27.0,-8.8 M2,34.2 L27.0,8.8 L27.0,8.8"/><path d="M27.0,-8.8 L130.9,-5.0 L144.1,0 L130.9,5.0 L27.0,8.8"/><ellipse cx="32.8" cy="0" rx="3.5" ry="12.6" fill="#fff"/><ellipse cx="44.3" cy="0" rx="3.5" ry="12.0" fill="#fff"/><ellipse cx="55.9" cy="0" rx="3.5" ry="11.4" fill="#fff"/><ellipse cx="67.4" cy="0" rx="3.5" ry="10.8" fill="#fff"/><ellipse cx="78.9" cy="0" rx="3.5" ry="10.2" fill="#fff"/><ellipse cx="90.5" cy="0" rx="3.5" ry="9.6" fill="#fff"/><ellipse cx="102.0" cy="0" rx="3.5" ry="8.9" fill="#fff"/><ellipse cx="113.6" cy="0" rx="3.5" ry="8.3" fill="#fff"/><ellipse cx="125.1" cy="0" rx="3.5" ry="7.7" fill="#fff"/><ellipse cx="0" cy="0" rx="11.5" ry="36" fill="#fff"/><path d="M-3,-19.8 L3,19.8 M3,-19.8 L-3,19.8" stroke-width="4"/></g></g>
<g transform="translate(2177.43,2896)" fill="none" stroke="#222" stroke-width="2.2" stroke-linejoin="round" stroke-linecap="round"><g transform="translate(204,128) rotate(120.96)"><path d="M2,-34.2 L27.0,-8.8 L27.0,-8.8 M2,34.2 L27.0,8.8 L27.0,8.8"/><path d="M27.0,-8.8 L132.6,-5.0 L145.8,0 L132.6,5.0 L27.0,8.8"/><ellipse cx="32.3" cy="0" rx="3.5" ry="12.6" fill="#fff"/><ellipse cx="42.8" cy="0" rx="3.5" ry="12.1" fill="#fff"/><ellipse cx="53.4" cy="0" rx="3.5" ry="11.5" fill="#fff"/><ellipse cx="64.0" cy="0" rx="3.5" ry="11.0" fill="#fff"/><ellipse cx="74.5" cy="0" rx="3.5" ry="10.4" fill="#fff"/><ellipse cx="85.1" cy="0" rx="3.5" ry="9.9" fill="#fff"/><ellipse cx="95.6" cy="0" rx="3.5" ry="9.3" fill="#fff"/><ellipse cx="106.2" cy="0" rx="3.5" ry="8.8" fill="#fff"/><ellipse cx="116.7" cy="0" rx="3.5" ry="8.2" fill="#fff"/><ellipse cx="127.3" cy="0" rx="3.5" ry="7.7" fill="#fff"/><ellipse cx="0" cy="0" rx="11.5" ry="36" fill="#fff"/><path d="M-3,-19.8 L3,19.8 M3,-19.8 L-3,19.8" stroke-width="4"/></g></g>
<g transform="translate(2516.86,2896)" fill="none" stroke="#222" stroke-width="2.2" stroke-linejoin="round" stroke-linecap="round"><g transform="translate(257,96) rotate(136.65)"><path d="M2,-28.5 L22.5,-15.2 L57.5,-15.2 M2,28.5 L22.5,15.2 L57.5,15.2"/><path d="M57.5,-15.2 L248.1,-8.6 L270.9,0 L248.1,8.6 L57.5,15.2"/><ellipse cx="65.4" cy="0" rx="5" ry="21.8" fill="#fff"/><ellipse cx="81.3" cy="0" rx="5" ry="21.1" fill="#fff"/><ellipse cx="97.2" cy="0" rx="5" ry="20.3" fill="#fff"/><ellipse cx="113.1" cy="0" rx="5" ry="19.5" fill="#fff"/><ellipse cx="129.0" cy="0" rx="5" ry="18.7" fill="#fff"/><ellipse cx="144.9" cy="0" rx="5" ry="18.0" fill="#fff"/><ellipse cx="160.8" cy="0" rx="5" ry="17.2" fill="#fff"/><ellipse cx="176.6" cy="0" rx="5" ry="16.4" fill="#fff"/><ellipse cx="192.5" cy="0" rx="5" ry="15.6" fill="#fff"/><ellipse cx="208.4" cy="0" rx="5" ry="14.9" fill="#fff"/><ellipse cx="224.3" cy="0" rx="5" ry="14.1" fill="#fff"/><ellipse cx="240.2" cy="0" rx="5" ry="13.3" fill="#fff"/><ellipse cx="0" cy="0" rx="9.6" ry="30" fill="#fff"/><path d="M-3,-16.5 L3,16.5 M3,-16.5 L-3,16.5" stroke-width="4"/></g></g>
<g transform="translate(2856.29,2896)" fill="none" stroke="#222" stroke-width="2.2" stroke-linejoin="round" stroke-linecap="round"><path d="M72,175 C80,200 270,212 277,175" /><ellipse cx="174.5" cy="170" rx="103" ry="31" fill="#fff"/><path d="M159,151 L159,170 C159,178 190,178 190,170 L190,151"/><ellipse cx="174.5" cy="151" rx="15.5" ry="6" fill="#fff"/><ellipse cx="174.5" cy="151" rx="8" ry="3"/></g>
<g transform="translate(3195.7200000000003,2896)" fill="none" stroke="#222" stroke-width="2.2" stroke-linejoin="round" stroke-linecap="round"><ellipse cx="172.7" cy="176" rx="67.4" ry="46" fill="#fff"/><path d="M154,122 L154,180 C154,190 191,190 191,180 L191,122" fill="#fff"/><ellipse cx="172.5" cy="122" rx="18.5" ry="8" fill="#fff"/><path d="M162,128 L162,186 M172,129 L172,188 M182,128 L182,186"/></g>
<g transform="translate(3535.15,2896)" fill="none" stroke="#222" stroke-width="2.2" stroke-linejoin="round" stroke-linecap="round"><path d="M68,127 L194,233 L297,225 L262,205"/><path d="M68,118.5 L124,116 L297,204 L194,210 Z" fill="#fff"/><path d="M68,118.5 L68,127 M219,210 L245,229 M245,209 L245,229"/></g>
<g transform="translate(3875.58,2896)" fill="none" stroke="#222" stroke-width="2.2" stroke-linejoin="round" stroke-linecap="round"><path d="M134,240 L134,268 C134,282 226,282 226,268 L226,240" fill="#fff"/><ellipse cx="180" cy="240" rx="46" ry="12" fill="#fff"/><path d="M156,252 L156,278 M202,252 L202,278"/><path d="M149,128 L151,230 C160,238 200,238 208,230 L208,128" fill="#fff"/><path d="M126,90 L126,122 L140,123 L142,127 L220,127 L221,122 L230,120 L230,90" fill="#fff"/><path d="M140,92 L140,123 M221,92 L221,122"/><ellipse cx="177" cy="81" rx="63.6" ry="11.5" fill="#fff"/><ellipse cx="143" cy="81" rx="6" ry="2.5" fill="#000"/><ellipse cx="215" cy="81" rx="6" ry="2.5" fill="#000"/><path d="M168,78 C172,82 182,82 186,78"/></g>
<g transform="translate(4257,2557)" fill="none" stroke="#222" stroke-width="2.2" stroke-linejoin="round" stroke-linecap="round"><path d="M76,240 C74,234 80,228 92,227 L110,226 C150,215 190,205 232,150 C245,130 252,115 262,104 C266,103 267,108 266,112 C250,128 235,160 210,185 C180,210 140,218 110,227 C100,236 86,243 76,240 Z" fill="#fff"/><path d="M100,232 C150,210 200,180 250,118"/></g>
<g transform="translate(4257,2896)" fill="none" stroke="#222" stroke-width="2.2" stroke-linejoin="round" stroke-linecap="round"><g transform="translate(113,287) rotate(-60.3)"><path d="M0,-17 L150,-17 M0,17 L150,17" /><path d="M8.0,-17 C12.0,-6 12.0,6 8.0,17"/><path d="M18.5,-17 C22.5,-6 22.5,6 18.5,17"/><path d="M29.0,-17 C33.0,-6 33.0,6 29.0,17"/><path d="M39.5,-17 C43.5,-6 43.5,6 39.5,17"/><path d="M50.0,-17 C54.0,-6 54.0,6 50.0,17"/><path d="M60.5,-17 C64.5,-6 64.5,6 60.5,17"/><path d="M71.0,-17 C75.0,-6 75.0,6 71.0,17"/><path d="M81.5,-17 C85.5,-6 85.5,6 81.5,17"/><path d="M92.0,-17 C96.0,-6 96.0,6 92.0,17"/><path d="M102.5,-17 C106.5,-6 106.5,6 102.5,17"/><path d="M113.0,-17 C117.0,-6 117.0,6 113.0,17"/><path d="M123.5,-17 C127.5,-6 127.5,6 123.5,17"/><path d="M134.0,-17 C138.0,-6 138.0,6 134.0,17"/><path d="M144.5,-17 C148.5,-6 148.5,6 144.5,17"/><ellipse cx="0" cy="0" rx="6" ry="17" fill="#fff"/></g><ellipse cx="208" cy="128" rx="48" ry="24" transform="rotate(30 208 128)" fill="#fff"/><path d="M168,106 C170,120 200,145 245,152" /><path d="M200,108 L212,112 L208,126 L220,132 L232,128 M214,110 L225,102"/></g>
<g transform="translate(1838.3,2418.3) scale(1.0)" fill="#3a3a3a"><g transform="translate(27.5,99.3) rotate(-43.7)"><ellipse cx="0" cy="0" rx="4.5" ry="8.5"/><ellipse cx="0" cy="0" rx="1.8" ry="4" fill="#fff"/><path d="M3,-6.5 L40,-6 L44,-7 L44,7 L40,6 L3,6.5 Z"/><path d="M40,-7 L104,-6.5 L108,-3 L108,3 L104,6.5 L40,7 Z"/><path d="M44.0,-6 L46.6,-9.5 L49.3,-6 Z M44.0,6 L46.6,9.5 L49.3,6 Z"/><path d="M49.3,-6 L51.9,-9.5 L54.599999999999994,-6 Z M49.3,6 L51.9,9.5 L54.599999999999994,6 Z"/><path d="M54.6,-6 L57.2,-9.5 L59.9,-6 Z M54.6,6 L57.2,9.5 L59.9,6 Z"/><path d="M59.9,-6 L62.5,-9.5 L65.2,-6 Z M59.9,6 L62.5,9.5 L65.2,6 Z"/><path d="M65.2,-6 L67.8,-9.5 L70.5,-6 Z M65.2,6 L67.8,9.5 L70.5,6 Z"/><path d="M70.5,-6 L73.1,-9.5 L75.8,-6 Z M70.5,6 L73.1,9.5 L75.8,6 Z"/><path d="M75.8,-6 L78.39999999999999,-9.5 L81.1,-6 Z M75.8,6 L78.39999999999999,9.5 L81.1,6 Z"/><path d="M81.1,-6 L83.69999999999999,-9.5 L86.39999999999999,-6 Z M81.1,6 L83.69999999999999,9.5 L86.39999999999999,6 Z"/><path d="M86.4,-6 L89.0,-9.5 L91.7,-6 Z M86.4,6 L89.0,9.5 L91.7,6 Z"/><path d="M91.69999999999999,-6 L94.29999999999998,-9.5 L96.99999999999999,-6 Z M91.69999999999999,6 L94.29999999999998,9.5 L96.99999999999999,6 Z"/><path d="M97.0,-6 L99.6,-9.5 L102.3,-6 Z M97.0,6 L99.6,9.5 L102.3,6 Z"/><path d="M102.3,-6 L104.89999999999999,-9.5 L107.6,-6 Z M102.3,6 L104.89999999999999,9.5 L107.6,6 Z"/></g><g transform="translate(131,38.8) rotate(136)"><ellipse cx="0" cy="0" rx="4" ry="13"/><ellipse cx="-0.5" cy="0" rx="1.5" ry="5" fill="#fff"/><path d="M2,-4.5 L10,-6.5 L84,-5 L96,0 L84,5 L10,6.5 L2,4.5 Z"/><path d="M12.0,-6 L14.6,-9.5 L17.3,-6 Z M12.0,6 L14.6,9.5 L17.3,6 Z"/><path d="M17.3,-6 L19.900000000000002,-9.5 L22.6,-6 Z M17.3,6 L19.900000000000002,9.5 L22.6,6 Z"/><path d="M22.6,-6 L25.200000000000003,-9.5 L27.900000000000002,-6 Z M22.6,6 L25.200000000000003,9.5 L27.900000000000002,6 Z"/><path d="M27.9,-6 L30.5,-9.5 L33.199999999999996,-6 Z M27.9,6 L30.5,9.5 L33.199999999999996,6 Z"/><path d="M33.2,-6 L35.800000000000004,-9.5 L38.5,-6 Z M33.2,6 L35.800000000000004,9.5 L38.5,6 Z"/><path d="M38.5,-6 L41.1,-9.5 L43.8,-6 Z M38.5,6 L41.1,9.5 L43.8,6 Z"/><path d="M43.8,-6 L46.4,-9.5 L49.099999999999994,-6 Z M43.8,6 L46.4,9.5 L49.099999999999994,6 Z"/><path d="M49.1,-6 L51.7,-9.5 L54.4,-6 Z M49.1,6 L51.7,9.5 L54.4,6 Z"/><path d="M54.4,-6 L57.0,-9.5 L59.699999999999996,-6 Z M54.4,6 L57.0,9.5 L59.699999999999996,6 Z"/><path d="M59.699999999999996,-6 L62.3,-9.5 L65.0,-6 Z M59.699999999999996,6 L62.3,9.5 L65.0,6 Z"/><path d="M65.0,-6 L67.6,-9.5 L70.3,-6 Z M65.0,6 L67.6,9.5 L70.3,6 Z"/><path d="M70.3,-6 L72.89999999999999,-9.5 L75.6,-6 Z M70.3,6 L72.89999999999999,9.5 L75.6,6 Z"/><path d="M75.6,-6 L78.19999999999999,-9.5 L80.89999999999999,-6 Z M75.6,6 L78.19999999999999,9.5 L80.89999999999999,6 Z"/><path d="M80.89999999999999,-6 L83.49999999999999,-9.5 L86.19999999999999,-6 Z M80.89999999999999,6 L83.49999999999999,9.5 L86.19999999999999,6 Z"/></g></g>
<g transform="translate(4257.3,2418.3) scale(1.0)" fill="#3a3a3a"><g transform="translate(27.5,99.3) rotate(-43.7)"><ellipse cx="0" cy="0" rx="4.5" ry="8.5"/><ellipse cx="0" cy="0" rx="1.8" ry="4" fill="#fff"/><path d="M3,-6.5 L40,-6 L44,-7 L44,7 L40,6 L3,6.5 Z"/><path d="M40,-7 L104,-6.5 L108,-3 L108,3 L104,6.5 L40,7 Z"/><path d="M44.0,-6 L46.6,-9.5 L49.3,-6 Z M44.0,6 L46.6,9.5 L49.3,6 Z"/><path d="M49.3,-6 L51.9,-9.5 L54.599999999999994,-6 Z M49.3,6 L51.9,9.5 L54.599999999999994,6 Z"/><path d="M54.6,-6 L57.2,-9.5 L59.9,-6 Z M54.6,6 L57.2,9.5 L59.9,6 Z"/><path d="M59.9,-6 L62.5,-9.5 L65.2,-6 Z M59.9,6 L62.5,9.5 L65.2,6 Z"/><path d="M65.2,-6 L67.8,-9.5 L70.5,-6 Z M65.2,6 L67.8,9.5 L70.5,6 Z"/><path d="M70.5,-6 L73.1,-9.5 L75.8,-6 Z M70.5,6 L73.1,9.5 L75.8,6 Z"/><path d="M75.8,-6 L78.39999999999999,-9.5 L81.1,-6 Z M75.8,6 L78.39999999999999,9.5 L81.1,6 Z"/><path d="M81.1,-6 L83.69999999999999,-9.5 L86.39999999999999,-6 Z M81.1,6 L83.69999999999999,9.5 L86.39999999999999,6 Z"/><path d="M86.4,-6 L89.0,-9.5 L91.7,-6 Z M86.4,6 L89.0,9.5 L91.7,6 Z"/><path d="M91.69999999999999,-6 L94.29999999999998,-9.5 L96.99999999999999,-6 Z M91.69999999999999,6 L94.29999999999998,9.5 L96.99999999999999,6 Z"/><path d="M97.0,-6 L99.6,-9.5 L102.3,-6 Z M97.0,6 L99.6,9.5 L102.3,6 Z"/><path d="M102.3,-6 L104.89999999999999,-9.5 L107.6,-6 Z M102.3,6 L104.89999999999999,9.5 L107.6,6 Z"/></g><g transform="translate(131,38.8) rotate(136)"><ellipse cx="0" cy="0" rx="4" ry="13"/><ellipse cx="-0.5" cy="0" rx="1.5" ry="5" fill="#fff"/><path d="M2,-4.5 L10,-6.5 L84,-5 L96,0 L84,5 L10,6.5 L2,4.5 Z"/><path d="M12.0,-6 L14.6,-9.5 L17.3,-6 Z M12.0,6 L14.6,9.5 L17.3,6 Z"/><path d="M17.3,-6 L19.900000000000002,-9.5 L22.6,-6 Z M17.3,6 L19.900000000000002,9.5 L22.6,6 Z"/><path d="M22.6,-6 L25.200000000000003,-9.5 L27.900000000000002,-6 Z M22.6,6 L25.200000000000003,9.5 L27.900000000000002,6 Z"/><path d="M27.9,-6 L30.5,-9.5 L33.199999999999996,-6 Z M27.9,6 L30.5,9.5 L33.199999999999996,6 Z"/><path d="M33.2,-6 L35.800000000000004,-9.5 L38.5,-6 Z M33.2,6 L35.800000000000004,9.5 L38.5,6 Z"/><path d="M38.5,-6 L41.1,-9.5 L43.8,-6 Z M38.5,6 L41.1,9.5 L43.8,6 Z"/><path d="M43.8,-6 L46.4,-9.5 L49.099999999999994,-6 Z M43.8,6 L46.4,9.5 L49.099999999999994,6 Z"/><path d="M49.1,-6 L51.7,-9.5 L54.4,-6 Z M49.1,6 L51.7,9.5 L54.4,6 Z"/><path d="M54.4,-6 L57.0,-9.5 L59.699999999999996,-6 Z M54.4,6 L57.0,9.5 L59.699999999999996,6 Z"/><path d="M59.699999999999996,-6 L62.3,-9.5 L65.0,-6 Z M59.699999999999996,6 L62.3,9.5 L65.0,6 Z"/><path d="M65.0,-6 L67.6,-9.5 L70.3,-6 Z M65.0,6 L67.6,9.5 L70.3,6 Z"/><path d="M70.3,-6 L72.89999999999999,-9.5 L75.6,-6 Z M70.3,6 L72.89999999999999,9.5 L75.6,6 Z"/><path d="M75.6,-6 L78.19999999999999,-9.5 L80.89999999999999,-6 Z M75.6,6 L78.19999999999999,9.5 L80.89999999999999,6 Z"/><path d="M80.89999999999999,-6 L83.49999999999999,-9.5 L86.19999999999999,-6 Z M80.89999999999999,6 L83.49999999999999,9.5 L86.19999999999999,6 Z"/></g></g>
<g transform="translate(4427,1124.6) scale(0.62)" fill="#3a3a3a"><g transform="translate(27.5,99.3) rotate(-43.7)"><ellipse cx="0" cy="0" rx="4.5" ry="8.5"/><ellipse cx="0" cy="0" rx="1.8" ry="4" fill="#fff"/><path d="M3,-6.5 L40,-6 L44,-7 L44,7 L40,6 L3,6.5 Z"/><path d="M40,-7 L104,-6.5 L108,-3 L108,3 L104,6.5 L40,7 Z"/><path d="M44.0,-6 L46.6,-9.5 L49.3,-6 Z M44.0,6 L46.6,9.5 L49.3,6 Z"/><path d="M49.3,-6 L51.9,-9.5 L54.599999999999994,-6 Z M49.3,6 L51.9,9.5 L54.599999999999994,6 Z"/><path d="M54.6,-6 L57.2,-9.5 L59.9,-6 Z M54.6,6 L57.2,9.5 L59.9,6 Z"/><path d="M59.9,-6 L62.5,-9.5 L65.2,-6 Z M59.9,6 L62.5,9.5 L65.2,6 Z"/><path d="M65.2,-6 L67.8,-9.5 L70.5,-6 Z M65.2,6 L67.8,9.5 L70.5,6 Z"/><path d="M70.5,-6 L73.1,-9.5 L75.8,-6 Z M70.5,6 L73.1,9.5 L75.8,6 Z"/><path d="M75.8,-6 L78.39999999999999,-9.5 L81.1,-6 Z M75.8,6 L78.39999999999999,9.5 L81.1,6 Z"/><path d="M81.1,-6 L83.69999999999999,-9.5 L86.39999999999999,-6 Z M81.1,6 L83.69999999999999,9.5 L86.39999999999999,6 Z"/><path d="M86.4,-6 L89.0,-9.5 L91.7,-6 Z M86.4,6 L89.0,9.5 L91.7,6 Z"/><path d="M91.69999999999999,-6 L94.29999999999998,-9.5 L96.99999999999999,-6 Z M91.69999999999999,6 L94.29999999999998,9.5 L96.99999999999999,6 Z"/><path d="M97.0,-6 L99.6,-9.5 L102.3,-6 Z M97.0,6 L99.6,9.5 L102.3,6 Z"/><path d="M102.3,-6 L104.89999999999999,-9.5 L107.6,-6 Z M102.3,6 L104.89999999999999,9.5 L107.6,6 Z"/></g><g transform="translate(131,38.8) rotate(136)"><ellipse cx="0" cy="0" rx="4" ry="13"/><ellipse cx="-0.5" cy="0" rx="1.5" ry="5" fill="#fff"/><path d="M2,-4.5 L10,-6.5 L84,-5 L96,0 L84,5 L10,6.5 L2,4.5 Z"/><path d="M12.0,-6 L14.6,-9.5 L17.3,-6 Z M12.0,6 L14.6,9.5 L17.3,6 Z"/><path d="M17.3,-6 L19.900000000000002,-9.5 L22.6,-6 Z M17.3,6 L19.900000000000002,9.5 L22.6,6 Z"/><path d="M22.6,-6 L25.200000000000003,-9.5 L27.900000000000002,-6 Z M22.6,6 L25.200000000000003,9.5 L27.900000000000002,6 Z"/><path d="M27.9,-6 L30.5,-9.5 L33.199999999999996,-6 Z M27.9,6 L30.5,9.5 L33.199999999999996,6 Z"/><path d="M33.2,-6 L35.800000000000004,-9.5 L38.5,-6 Z M33.2,6 L35.800000000000004,9.5 L38.5,6 Z"/><path d="M38.5,-6 L41.1,-9.5 L43.8,-6 Z M38.5,6 L41.1,9.5 L43.8,6 Z"/><path d="M43.8,-6 L46.4,-9.5 L49.099999999999994,-6 Z M43.8,6 L46.4,9.5 L49.099999999999994,6 Z"/><path d="M49.1,-6 L51.7,-9.5 L54.4,-6 Z M49.1,6 L51.7,9.5 L54.4,6 Z"/><path d="M54.4,-6 L57.0,-9.5 L59.699999999999996,-6 Z M54.4,6 L57.0,9.5 L59.699999999999996,6 Z"/><path d="M59.699999999999996,-6 L62.3,-9.5 L65.0,-6 Z M59.699999999999996,6 L62.3,9.5 L65.0,6 Z"/><path d="M65.0,-6 L67.6,-9.5 L70.3,-6 Z M65.0,6 L67.6,9.5 L70.3,6 Z"/><path d="M70.3,-6 L72.89999999999999,-9.5 L75.6,-6 Z M70.3,6 L72.89999999999999,9.5 L75.6,6 Z"/><path d="M75.6,-6 L78.19999999999999,-9.5 L80.89999999999999,-6 Z M75.6,6 L78.19999999999999,9.5 L80.89999999999999,6 Z"/><path d="M80.89999999999999,-6 L83.49999999999999,-9.5 L86.19999999999999,-6 Z M80.89999999999999,6 L83.49999999999999,9.5 L86.19999999999999,6 Z"/></g></g>
</svg>
</body></html>
